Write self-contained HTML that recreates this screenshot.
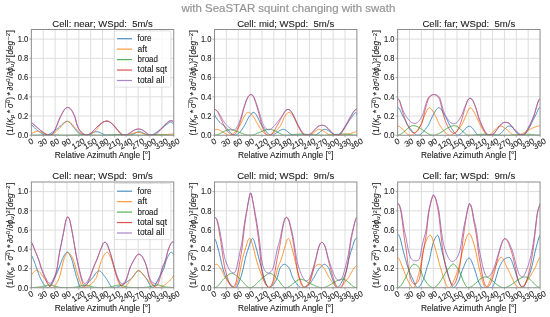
<!DOCTYPE html>
<html><head><meta charset="utf-8"><title>plot</title><style>html,body{margin:0;padding:0;background:#fff;overflow:hidden}svg{display:block;filter:blur(0.4px)}text{font-family:"Liberation Sans",sans-serif;stroke-linejoin:round}</style></head><body>
<svg width="550" height="317" viewBox="0 0 550 317">
<rect width="550" height="317" fill="#fff"/>
<text x="181.50" y="12.00" font-size="11.75" text-anchor="start" fill="#959595" stroke="#959595" stroke-width="0.2" textLength="213.80" lengthAdjust="spacingAndGlyphs">with SeaSTAR squint changing with swath</text>
<path d="M43.22 29.50V135.25M55.08 29.50V135.25M66.95 29.50V135.25M78.82 29.50V135.25M90.68 29.50V135.25M102.55 29.50V135.25M114.42 29.50V135.25M126.28 29.50V135.25M138.15 29.50V135.25M150.02 29.50V135.25M161.88 29.50V135.25M31.35 116.02H173.75M31.35 96.80H173.75M31.35 77.57H173.75M31.35 58.34H173.75M31.35 39.11H173.75" stroke="#dddddd" stroke-width="1.0" fill="none"/>
<clipPath id="c1"><rect x="31.35" y="29.50" width="142.40" height="105.75"/></clipPath>
<g clip-path="url(#c1)" fill="none" stroke-width="0.85" stroke-linejoin="round" stroke-linecap="round" stroke-opacity="1">
<polyline points="31.4,124.5 31.7,124.9 32.1,125.3 32.5,125.7 32.9,126.1 33.3,126.5 33.7,127.0 34.1,127.4 34.5,127.8 34.9,128.2 35.3,128.6 35.7,129.0 36.1,129.3 36.5,129.7 36.9,130.0 37.3,130.3 37.7,130.6 38.1,130.9 38.5,131.2 38.9,131.5 39.3,131.8 39.7,132.1 40.1,132.3 40.4,132.6 40.8,132.8 41.2,133.1 41.6,133.3 42.0,133.5 42.4,133.8 42.8,134.0 43.2,134.3 43.6,134.5 44.0,134.7 44.4,134.9 44.8,135.1 45.2,135.2 45.6,135.2 46.0,135.2 46.4,135.2 46.8,135.1 47.2,135.0 47.6,134.9 48.0,134.8 48.4,134.6 48.8,134.5 49.2,134.3 49.5,134.1 49.9,133.8 50.3,133.6 50.7,133.4 51.1,133.1 51.5,132.8 51.9,132.6 52.3,132.3 52.7,132.0 53.1,131.7 53.5,131.4 53.9,131.1 54.3,130.8 54.7,130.5 55.1,130.2 55.5,129.9 55.9,129.6 56.3,129.4 56.7,129.1 57.1,128.8 57.5,128.5 57.9,128.3 58.2,128.0 58.6,127.7 59.0,127.3 59.4,127.0 59.8,126.6 60.2,126.3 60.6,125.9 61.0,125.5 61.4,125.1 61.8,124.7 62.2,124.4 62.6,124.0 63.0,123.6 63.4,123.3 63.8,123.0 64.2,122.7 64.6,122.4 65.0,122.1 65.4,121.9 65.8,121.7 66.2,121.6 66.6,121.5 67.0,121.4 67.3,121.4 67.7,121.4 68.1,121.5 68.5,121.7 68.9,121.9 69.3,122.2 69.7,122.5 70.1,122.9 70.5,123.3 70.9,123.8 71.3,124.3 71.7,124.8 72.1,125.3 72.5,125.8 72.9,126.3 73.3,126.8 73.7,127.3 74.1,127.8 74.5,128.3 74.9,128.8 75.3,129.2 75.7,129.7 76.0,130.2 76.4,130.7 76.8,131.2 77.2,131.6 77.6,132.1 78.0,132.5 78.4,132.9 78.8,133.1 79.2,133.4 79.6,133.6 80.0,133.8 80.4,134.0 80.8,134.1 81.2,134.3 81.6,134.4 82.0,134.6 82.4,134.7 82.8,134.8 83.2,134.9 83.6,135.0 84.0,135.1 84.4,135.2 84.8,135.2 85.1,135.2 85.5,135.2 85.9,135.2 86.3,135.2 86.7,135.1 87.1,135.0 87.5,134.9 87.9,134.8 88.3,134.7 88.7,134.5 89.1,134.4 89.5,134.2 89.9,134.0 90.3,133.8 90.7,133.7 91.1,133.5 91.5,133.3 91.9,133.1 92.3,132.9 92.7,132.7 93.1,132.6 93.5,132.4 93.8,132.3 94.2,132.1 94.6,132.0 95.0,131.9 95.4,131.8 95.8,131.8 96.2,131.7 96.6,131.7 97.0,131.7 97.4,131.8 97.8,131.8 98.2,131.9 98.6,132.0 99.0,132.2 99.4,132.3 99.8,132.5 100.2,132.6 100.6,132.8 101.0,133.0 101.4,133.2 101.8,133.4 102.2,133.6 102.6,133.8 102.9,134.0 103.3,134.1 103.7,134.3 104.1,134.5 104.5,134.6 104.9,134.8 105.3,134.9 105.7,135.0 106.1,135.1 106.5,135.2 106.9,135.2 107.3,135.2 107.7,135.2 108.1,135.2 108.5,135.2 108.9,135.2 109.3,135.2 109.7,135.2 110.1,135.2 110.5,135.2 110.9,135.2 111.3,135.2 111.6,135.2 112.0,135.2 112.4,135.2 112.8,135.2 113.2,135.2 113.6,135.2 114.0,135.2 114.4,135.2 114.8,135.2 115.2,135.2 115.6,135.2 116.0,135.2 116.4,135.2 116.8,135.2 117.2,135.2 117.6,135.2 118.0,135.2 118.4,135.2 118.8,135.2 119.2,135.2 119.6,135.2 120.0,135.2 120.3,135.2 120.7,135.2 121.1,135.2 121.5,135.2 121.9,135.2 122.3,135.2 122.7,135.2 123.1,135.2 123.5,135.2 123.9,135.2 124.3,135.2 124.7,135.2 125.1,135.2 125.5,135.2 125.9,135.2 126.3,135.2 126.7,135.2 127.1,135.2 127.5,135.2 127.9,135.2 128.3,135.2 128.7,135.2 129.1,135.2 129.4,135.2 129.8,135.2 130.2,135.2 130.6,135.2 131.0,135.1 131.4,135.0 131.8,134.9 132.2,134.8 132.6,134.6 133.0,134.4 133.4,134.2 133.8,133.9 134.2,133.7 134.6,133.5 135.0,133.2 135.4,133.0 135.8,132.8 136.2,132.6 136.6,132.4 137.0,132.2 137.4,132.0 137.8,131.9 138.2,131.8 138.5,131.8 138.9,131.7 139.3,131.7 139.7,131.8 140.1,131.9 140.5,131.9 140.9,132.1 141.3,132.2 141.7,132.3 142.1,132.5 142.5,132.7 142.9,132.9 143.3,133.1 143.7,133.3 144.1,133.5 144.5,133.7 144.9,133.9 145.3,134.1 145.7,134.3 146.1,134.4 146.5,134.6 146.9,134.8 147.2,134.9 147.6,135.0 148.0,135.1 148.4,135.2 148.8,135.2 149.2,135.2 149.6,135.2 150.0,135.2 150.4,135.1 150.8,135.1 151.2,135.0 151.6,134.9 152.0,134.8 152.4,134.6 152.8,134.5 153.2,134.3 153.6,134.1 154.0,133.9 154.4,133.7 154.8,133.5 155.2,133.3 155.6,133.0 156.0,132.8 156.3,132.5 156.7,132.2 157.1,131.9 157.5,131.6 157.9,131.4 158.3,131.1 158.7,130.7 159.1,130.4 159.5,130.1 159.9,129.8 160.3,129.5 160.7,129.2 161.1,128.8 161.5,128.5 161.9,128.2 162.3,127.8 162.7,127.5 163.1,127.2 163.5,126.9 163.9,126.6 164.3,126.3 164.7,125.9 165.0,125.6 165.4,125.3 165.8,125.1 166.2,124.8 166.6,124.5 167.0,124.2 167.4,124.0 167.8,123.7 168.2,123.4 168.6,123.1 169.0,122.8 169.4,122.5 169.8,122.3 170.2,122.1 170.6,122.0 171.0,121.9 171.4,122.1 171.8,122.3 172.2,122.7 172.6,123.1 173.0,123.5 173.4,124.0 173.8,124.5" stroke="#1f77b4"/>
<polyline points="31.4,133.5 31.7,133.4 32.1,133.3 32.5,133.1 32.9,132.9 33.3,132.8 33.7,132.6 34.1,132.4 34.5,132.2 34.9,132.0 35.3,131.9 35.7,131.7 36.1,131.6 36.5,131.5 36.9,131.4 37.3,131.4 37.7,131.3 38.1,131.3 38.5,131.4 38.9,131.4 39.3,131.5 39.7,131.6 40.1,131.7 40.4,131.8 40.8,131.9 41.2,132.1 41.6,132.2 42.0,132.4 42.4,132.5 42.8,132.7 43.2,132.9 43.6,133.0 44.0,133.2 44.4,133.4 44.8,133.6 45.2,133.7 45.6,133.9 46.0,134.1 46.4,134.2 46.8,134.4 47.2,134.5 47.6,134.7 48.0,134.8 48.4,134.9 48.8,135.0 49.2,135.1 49.5,135.1 49.9,135.2 50.3,135.2 50.7,135.2 51.1,135.2 51.5,135.1 51.9,134.9 52.3,134.7 52.7,134.5 53.1,134.2 53.5,133.9 53.9,133.6 54.3,133.2 54.7,132.8 55.1,132.4 55.5,132.0 55.9,131.7 56.3,131.3 56.7,130.9 57.1,130.5 57.5,130.2 57.9,129.8 58.2,129.5 58.6,129.1 59.0,128.7 59.4,128.3 59.8,127.9 60.2,127.4 60.6,127.0 61.0,126.5 61.4,126.1 61.8,125.6 62.2,125.2 62.6,124.7 63.0,124.3 63.4,123.9 63.8,123.5 64.2,123.2 64.6,122.8 65.0,122.5 65.4,122.2 65.8,122.0 66.2,121.8 66.6,121.6 67.0,121.5 67.3,121.4 67.7,121.4 68.1,121.4 68.5,121.5 68.9,121.7 69.3,121.9 69.7,122.2 70.1,122.5 70.5,122.8 70.9,123.2 71.3,123.6 71.7,124.1 72.1,124.5 72.5,125.0 72.9,125.4 73.3,125.9 73.7,126.4 74.1,126.8 74.5,127.2 74.9,127.7 75.3,128.1 75.7,128.5 76.0,128.9 76.4,129.3 76.8,129.7 77.2,130.2 77.6,130.6 78.0,131.0 78.4,131.3 78.8,131.6 79.2,131.9 79.6,132.2 80.0,132.4 80.4,132.7 80.8,132.9 81.2,133.2 81.6,133.4 82.0,133.6 82.4,133.9 82.8,134.1 83.2,134.3 83.6,134.5 84.0,134.6 84.4,134.8 84.8,134.9 85.1,135.0 85.5,135.1 85.9,135.2 86.3,135.2 86.7,135.2 87.1,135.2 87.5,135.2 87.9,135.1 88.3,135.0 88.7,134.9 89.1,134.8 89.5,134.6 89.9,134.5 90.3,134.3 90.7,134.1 91.1,133.9 91.5,133.7 91.9,133.4 92.3,133.2 92.7,132.9 93.1,132.6 93.5,132.4 93.8,132.1 94.2,131.8 94.6,131.5 95.0,131.2 95.4,130.9 95.8,130.5 96.2,130.1 96.6,129.6 97.0,129.1 97.4,128.5 97.8,127.9 98.2,127.3 98.6,126.7 99.0,126.1 99.4,125.5 99.8,125.0 100.2,124.5 100.6,124.1 101.0,123.8 101.4,123.5 101.8,123.2 102.2,122.9 102.6,122.7 102.9,122.5 103.3,122.2 103.7,122.0 104.1,121.8 104.5,121.7 104.9,121.5 105.3,121.4 105.7,121.2 106.1,121.2 106.5,121.1 106.9,121.1 107.3,121.1 107.7,121.1 108.1,121.2 108.5,121.4 108.9,121.6 109.3,121.8 109.7,122.0 110.1,122.3 110.5,122.5 110.9,122.8 111.3,123.1 111.6,123.4 112.0,123.7 112.4,124.1 112.8,124.4 113.2,124.8 113.6,125.2 114.0,125.6 114.4,126.1 114.8,126.5 115.2,127.0 115.6,127.5 116.0,128.0 116.4,128.4 116.8,128.8 117.2,129.3 117.6,129.7 118.0,130.1 118.4,130.5 118.8,130.9 119.2,131.3 119.6,131.8 120.0,132.2 120.3,132.6 120.7,133.0 121.1,133.4 121.5,133.8 121.9,134.1 122.3,134.4 122.7,134.7 123.1,134.9 123.5,135.0 123.9,135.2 124.3,135.2 124.7,135.2 125.1,135.2 125.5,135.2 125.9,135.1 126.3,135.1 126.7,135.0 127.1,134.9 127.5,134.9 127.9,134.8 128.3,134.7 128.7,134.6 129.1,134.5 129.4,134.3 129.8,134.2 130.2,134.1 130.6,134.0 131.0,133.9 131.4,133.7 131.8,133.6 132.2,133.5 132.6,133.4 133.0,133.3 133.4,133.2 133.8,133.0 134.2,132.9 134.6,132.8 135.0,132.8 135.4,132.7 135.8,132.6 136.2,132.5 136.6,132.5 137.0,132.4 137.4,132.4 137.8,132.4 138.2,132.4 138.5,132.4 138.9,132.4 139.3,132.5 139.7,132.5 140.1,132.6 140.5,132.7 140.9,132.8 141.3,132.9 141.7,133.0 142.1,133.1 142.5,133.3 142.9,133.4 143.3,133.5 143.7,133.7 144.1,133.8 144.5,134.0 144.9,134.1 145.3,134.2 145.7,134.4 146.1,134.5 146.5,134.6 146.9,134.7 147.2,134.8 147.6,134.9 148.0,135.0 148.4,135.1 148.8,135.2 149.2,135.2 149.6,135.2 150.0,135.2 150.4,135.2 150.8,135.2 151.2,135.2 151.6,135.2 152.0,135.2 152.4,135.2 152.8,135.2 153.2,135.2 153.6,135.2 154.0,135.2 154.4,135.2 154.8,135.2 155.2,135.2 155.6,135.2 156.0,135.2 156.3,135.1 156.7,135.1 157.1,135.1 157.5,135.1 157.9,135.1 158.3,135.1 158.7,135.0 159.1,135.0 159.5,135.0 159.9,135.0 160.3,135.0 160.7,134.9 161.1,134.9 161.5,134.9 161.9,134.9 162.3,134.9 162.7,134.8 163.1,134.8 163.5,134.8 163.9,134.8 164.3,134.7 164.7,134.7 165.0,134.7 165.4,134.6 165.8,134.6 166.2,134.6 166.6,134.6 167.0,134.5 167.4,134.5 167.8,134.5 168.2,134.4 168.6,134.4 169.0,134.4 169.4,134.3 169.8,134.3 170.2,134.2 170.6,134.2 171.0,134.1 171.4,134.1 171.8,134.0 172.2,133.9 172.6,133.8 173.0,133.7 173.4,133.6 173.8,133.5" stroke="#ff7f0e"/>
<polyline points="31.4,135.2 31.7,135.2 32.1,135.2 32.5,135.2 32.9,135.2 33.3,135.2 33.7,135.2 34.1,135.2 34.5,135.2 34.9,135.2 35.3,135.2 35.7,135.2 36.1,135.2 36.5,135.2 36.9,135.1 37.3,135.1 37.7,135.1 38.1,135.1 38.5,135.1 38.9,135.1 39.3,135.0 39.7,135.0 40.1,135.0 40.4,135.0 40.8,135.0 41.2,135.0 41.6,135.0 42.0,134.9 42.4,134.9 42.8,134.9 43.2,134.9 43.6,134.9 44.0,134.9 44.4,134.9 44.8,134.8 45.2,134.8 45.6,134.8 46.0,134.8 46.4,134.8 46.8,134.8 47.2,134.8 47.6,134.8 48.0,134.8 48.4,134.8 48.8,134.8 49.2,134.8 49.5,134.8 49.9,134.8 50.3,134.8 50.7,134.8 51.1,134.8 51.5,134.8 51.9,134.8 52.3,134.8 52.7,134.8 53.1,134.8 53.5,134.8 53.9,134.9 54.3,134.9 54.7,134.9 55.1,134.9 55.5,134.9 55.9,134.9 56.3,134.9 56.7,135.0 57.1,135.0 57.5,135.0 57.9,135.0 58.2,135.0 58.6,135.0 59.0,135.0 59.4,135.1 59.8,135.1 60.2,135.1 60.6,135.1 61.0,135.1 61.4,135.1 61.8,135.2 62.2,135.2 62.6,135.2 63.0,135.2 63.4,135.2 63.8,135.2 64.2,135.2 64.6,135.2 65.0,135.2 65.4,135.2 65.8,135.2 66.2,135.2 66.6,135.2 67.0,135.2 67.3,135.2 67.7,135.2 68.1,135.2 68.5,135.2 68.9,135.2 69.3,135.2 69.7,135.2 70.1,135.2 70.5,135.2 70.9,135.2 71.3,135.2 71.7,135.2 72.1,135.2 72.5,135.1 72.9,135.1 73.3,135.1 73.7,135.1 74.1,135.1 74.5,135.1 74.9,135.0 75.3,135.0 75.7,135.0 76.0,135.0 76.4,135.0 76.8,135.0 77.2,135.0 77.6,134.9 78.0,134.9 78.4,134.9 78.8,134.9 79.2,134.9 79.6,134.9 80.0,134.9 80.4,134.8 80.8,134.8 81.2,134.8 81.6,134.8 82.0,134.8 82.4,134.8 82.8,134.8 83.2,134.8 83.6,134.8 84.0,134.8 84.4,134.8 84.8,134.8 85.1,134.8 85.5,134.8 85.9,134.8 86.3,134.8 86.7,134.8 87.1,134.8 87.5,134.8 87.9,134.8 88.3,134.8 88.7,134.8 89.1,134.8 89.5,134.9 89.9,134.9 90.3,134.9 90.7,134.9 91.1,134.9 91.5,134.9 91.9,134.9 92.3,135.0 92.7,135.0 93.1,135.0 93.5,135.0 93.8,135.0 94.2,135.0 94.6,135.0 95.0,135.1 95.4,135.1 95.8,135.1 96.2,135.1 96.6,135.1 97.0,135.1 97.4,135.2 97.8,135.2 98.2,135.2 98.6,135.2 99.0,135.2 99.4,135.2 99.8,135.2 100.2,135.2 100.6,135.2 101.0,135.2 101.4,135.2 101.8,135.2 102.2,135.2 102.6,135.2 102.9,135.2 103.3,135.2 103.7,135.2 104.1,135.2 104.5,135.2 104.9,135.2 105.3,135.2 105.7,135.2 106.1,135.2 106.5,135.1 106.9,135.1 107.3,135.1 107.7,135.1 108.1,135.0 108.5,135.0 108.9,135.0 109.3,135.0 109.7,134.9 110.1,134.9 110.5,134.9 110.9,134.9 111.3,134.8 111.6,134.8 112.0,134.8 112.4,134.8 112.8,134.7 113.2,134.7 113.6,134.7 114.0,134.7 114.4,134.6 114.8,134.6 115.2,134.6 115.6,134.6 116.0,134.6 116.4,134.5 116.8,134.5 117.2,134.5 117.6,134.5 118.0,134.5 118.4,134.5 118.8,134.5 119.2,134.5 119.6,134.5 120.0,134.5 120.3,134.5 120.7,134.5 121.1,134.5 121.5,134.5 121.9,134.5 122.3,134.5 122.7,134.6 123.1,134.6 123.5,134.6 123.9,134.6 124.3,134.6 124.7,134.6 125.1,134.7 125.5,134.7 125.9,134.7 126.3,134.7 126.7,134.7 127.1,134.8 127.5,134.8 127.9,134.8 128.3,134.8 128.7,134.9 129.1,134.9 129.4,134.9 129.8,134.9 130.2,135.0 130.6,135.0 131.0,135.0 131.4,135.0 131.8,135.0 132.2,135.1 132.6,135.1 133.0,135.1 133.4,135.1 133.8,135.1 134.2,135.2 134.6,135.2 135.0,135.2 135.4,135.2 135.8,135.2 136.2,135.2 136.6,135.2 137.0,135.2 137.4,135.2 137.8,135.2 138.2,135.2 138.5,135.2 138.9,135.2 139.3,135.2 139.7,135.2 140.1,135.2 140.5,135.2 140.9,135.2 141.3,135.2 141.7,135.2 142.1,135.2 142.5,135.1 142.9,135.1 143.3,135.1 143.7,135.1 144.1,135.1 144.5,135.0 144.9,135.0 145.3,135.0 145.7,135.0 146.1,135.0 146.5,134.9 146.9,134.9 147.2,134.9 147.6,134.9 148.0,134.8 148.4,134.8 148.8,134.8 149.2,134.8 149.6,134.7 150.0,134.7 150.4,134.7 150.8,134.7 151.2,134.7 151.6,134.6 152.0,134.6 152.4,134.6 152.8,134.6 153.2,134.6 153.6,134.6 154.0,134.5 154.4,134.5 154.8,134.5 155.2,134.5 155.6,134.5 156.0,134.5 156.3,134.5 156.7,134.5 157.1,134.5 157.5,134.5 157.9,134.5 158.3,134.5 158.7,134.5 159.1,134.5 159.5,134.5 159.9,134.5 160.3,134.6 160.7,134.6 161.1,134.6 161.5,134.6 161.9,134.6 162.3,134.7 162.7,134.7 163.1,134.7 163.5,134.7 163.9,134.8 164.3,134.8 164.7,134.8 165.0,134.8 165.4,134.9 165.8,134.9 166.2,134.9 166.6,134.9 167.0,135.0 167.4,135.0 167.8,135.0 168.2,135.0 168.6,135.1 169.0,135.1 169.4,135.1 169.8,135.1 170.2,135.2 170.6,135.2 171.0,135.2 171.4,135.2 171.8,135.2 172.2,135.2 172.6,135.2 173.0,135.2 173.4,135.2 173.8,135.2" stroke="#2ca02c"/>
<polyline points="31.4,122.2 31.7,122.6 32.1,123.0 32.5,123.4 32.9,123.8 33.3,124.2 33.7,124.5 34.1,124.9 34.5,125.2 34.9,125.6 35.3,125.9 35.7,126.3 36.1,126.6 36.5,127.0 36.9,127.3 37.3,127.7 37.7,128.0 38.1,128.4 38.5,128.7 38.9,129.1 39.3,129.4 39.7,129.8 40.1,130.1 40.4,130.4 40.8,130.7 41.2,131.0 41.6,131.3 42.0,131.6 42.4,131.9 42.8,132.2 43.2,132.5 43.6,132.8 44.0,133.1 44.4,133.4 44.8,133.7 45.2,134.0 45.6,134.2 46.0,134.4 46.4,134.6 46.8,134.8 47.2,134.9 47.6,135.0 48.0,135.1 48.4,135.2 48.8,135.2 49.2,135.2 49.5,135.2 49.9,135.1 50.3,135.1 50.7,134.9 51.1,134.8 51.5,134.6 51.9,134.4 52.3,134.1 52.7,133.8 53.1,133.4 53.5,132.9 53.9,132.3 54.3,131.5 54.7,130.7 55.1,129.8 55.5,128.8 55.9,127.8 56.3,126.9 56.7,125.9 57.1,125.0 57.5,124.0 57.9,123.1 58.2,122.1 58.6,121.1 59.0,120.1 59.4,119.1 59.8,118.2 60.2,117.3 60.6,116.5 61.0,115.7 61.4,114.9 61.8,114.2 62.2,113.4 62.6,112.6 63.0,111.9 63.4,111.2 63.8,110.5 64.2,109.9 64.6,109.4 65.0,108.9 65.4,108.5 65.8,108.1 66.2,107.9 66.6,107.7 67.0,107.6 67.3,107.5 67.7,107.5 68.1,107.5 68.5,107.6 68.9,107.7 69.3,107.9 69.7,108.2 70.1,108.5 70.5,108.9 70.9,109.3 71.3,109.9 71.7,110.5 72.1,111.1 72.5,111.8 72.9,112.6 73.3,113.4 73.7,114.2 74.1,115.1 74.5,116.1 74.9,117.2 75.3,118.4 75.7,119.8 76.0,121.3 76.4,122.8 76.8,124.2 77.2,125.4 77.6,126.5 78.0,127.5 78.4,128.3 78.8,129.0 79.2,129.7 79.6,130.2 80.0,130.8 80.4,131.3 80.8,131.7 81.2,132.2 81.6,132.6 82.0,133.0 82.4,133.4 82.8,133.7 83.2,134.0 83.6,134.3 84.0,134.5 84.4,134.7 84.8,134.9 85.1,135.0 85.5,135.1 85.9,135.1 86.3,135.2 86.7,135.2 87.1,135.2 87.5,135.1 87.9,135.1 88.3,134.9 88.7,134.8 89.1,134.6 89.5,134.4 89.9,134.2 90.3,133.9 90.7,133.6 91.1,133.2 91.5,132.8 91.9,132.4 92.3,132.0 92.7,131.6 93.1,131.2 93.5,130.7 93.8,130.3 94.2,129.9 94.6,129.5 95.0,129.1 95.4,128.7 95.8,128.3 96.2,127.9 96.6,127.5 97.0,127.1 97.4,126.7 97.8,126.3 98.2,125.9 98.6,125.6 99.0,125.2 99.4,124.8 99.8,124.5 100.2,124.1 100.6,123.8 101.0,123.5 101.4,123.3 101.8,123.0 102.2,122.8 102.6,122.5 102.9,122.3 103.3,122.0 103.7,121.8 104.1,121.7 104.5,121.5 104.9,121.4 105.3,121.3 105.7,121.3 106.1,121.2 106.5,121.2 106.9,121.2 107.3,121.2 107.7,121.3 108.1,121.4 108.5,121.5 108.9,121.6 109.3,121.8 109.7,122.0 110.1,122.3 110.5,122.6 110.9,122.9 111.3,123.3 111.6,123.6 112.0,124.0 112.4,124.4 112.8,124.8 113.2,125.2 113.6,125.6 114.0,126.1 114.4,126.6 114.8,127.1 115.2,127.6 115.6,128.0 116.0,128.5 116.4,129.0 116.8,129.5 117.2,130.0 117.6,130.4 118.0,130.9 118.4,131.4 118.8,131.9 119.2,132.4 119.6,132.9 120.0,133.3 120.3,133.8 120.7,134.2 121.1,134.6 121.5,134.9 121.9,135.1 122.3,135.2 122.7,135.2 123.1,135.2 123.5,135.2 123.9,135.2 124.3,135.2 124.7,135.2 125.1,135.2 125.5,135.2 125.9,135.2 126.3,135.2 126.7,135.1 127.1,135.0 127.5,134.8 127.9,134.6 128.3,134.4 128.7,134.1 129.1,133.9 129.4,133.6 129.8,133.3 130.2,133.0 130.6,132.7 131.0,132.4 131.4,132.1 131.8,131.8 132.2,131.5 132.6,131.2 133.0,130.9 133.4,130.7 133.8,130.4 134.2,130.2 134.6,130.0 135.0,129.8 135.4,129.6 135.8,129.5 136.2,129.3 136.6,129.3 137.0,129.2 137.4,129.2 137.8,129.1 138.2,129.1 138.5,129.1 138.9,129.1 139.3,129.1 139.7,129.2 140.1,129.2 140.5,129.3 140.9,129.4 141.3,129.5 141.7,129.7 142.1,129.9 142.5,130.1 142.9,130.3 143.3,130.6 143.7,130.9 144.1,131.2 144.5,131.5 144.9,131.8 145.3,132.1 145.7,132.4 146.1,132.8 146.5,133.1 146.9,133.4 147.2,133.7 147.6,134.0 148.0,134.2 148.4,134.5 148.8,134.7 149.2,134.9 149.6,135.1 150.0,135.2 150.4,135.2 150.8,135.2 151.2,135.2 151.6,135.2 152.0,135.2 152.4,135.2 152.8,135.2 153.2,135.2 153.6,135.2 154.0,135.2 154.4,135.2 154.8,135.1 155.2,134.9 155.6,134.7 156.0,134.4 156.3,134.1 156.7,133.8 157.1,133.4 157.5,133.0 157.9,132.6 158.3,132.2 158.7,131.8 159.1,131.4 159.5,131.0 159.9,130.6 160.3,130.2 160.7,129.8 161.1,129.3 161.5,128.9 161.9,128.4 162.3,128.0 162.7,127.5 163.1,127.1 163.5,126.6 163.9,126.2 164.3,125.8 164.7,125.4 165.0,124.9 165.4,124.5 165.8,124.1 166.2,123.8 166.6,123.4 167.0,123.0 167.4,122.7 167.8,122.3 168.2,122.0 168.6,121.7 169.0,121.4 169.4,121.2 169.8,121.0 170.2,120.8 170.6,120.7 171.0,120.7 171.4,120.7 171.8,120.8 172.2,120.9 172.6,121.2 173.0,121.5 173.4,121.8 173.8,122.2" stroke="#d62728" stroke-width="0.68"/>
<polyline points="31.4,122.2 31.7,122.6 32.1,123.0 32.5,123.4 32.9,123.8 33.3,124.1 33.7,124.5 34.1,124.8 34.5,125.2 34.9,125.5 35.3,125.9 35.7,126.2 36.1,126.5 36.5,126.9 36.9,127.2 37.3,127.6 37.7,127.9 38.1,128.2 38.5,128.6 38.9,128.9 39.3,129.2 39.7,129.5 40.1,129.9 40.4,130.2 40.8,130.5 41.2,130.8 41.6,131.1 42.0,131.3 42.4,131.6 42.8,131.9 43.2,132.2 43.6,132.5 44.0,132.8 44.4,133.0 44.8,133.3 45.2,133.6 45.6,133.8 46.0,134.0 46.4,134.2 46.8,134.3 47.2,134.5 47.6,134.6 48.0,134.6 48.4,134.7 48.8,134.7 49.2,134.7 49.5,134.7 49.9,134.7 50.3,134.6 50.7,134.5 51.1,134.3 51.5,134.2 51.9,133.9 52.3,133.7 52.7,133.4 53.1,133.0 53.5,132.5 53.9,131.9 54.3,131.1 54.7,130.3 55.1,129.4 55.5,128.5 55.9,127.5 56.3,126.6 56.7,125.6 57.1,124.7 57.5,123.8 57.9,122.8 58.2,121.8 58.6,120.9 59.0,119.9 59.4,119.0 59.8,118.1 60.2,117.2 60.6,116.4 61.0,115.6 61.4,114.8 61.8,114.1 62.2,113.3 62.6,112.6 63.0,111.8 63.4,111.1 63.8,110.5 64.2,109.9 64.6,109.3 65.0,108.9 65.4,108.5 65.8,108.1 66.2,107.9 66.6,107.7 67.0,107.6 67.3,107.5 67.7,107.4 68.1,107.5 68.5,107.6 68.9,107.7 69.3,107.9 69.7,108.1 70.1,108.4 70.5,108.8 70.9,109.3 71.3,109.8 71.7,110.4 72.1,111.0 72.5,111.7 72.9,112.5 73.3,113.3 73.7,114.1 74.1,114.9 74.5,115.9 74.9,117.0 75.3,118.2 75.7,119.6 76.0,121.0 76.4,122.5 76.8,123.9 77.2,125.1 77.6,126.2 78.0,127.1 78.4,128.0 78.8,128.7 79.2,129.3 79.6,129.9 80.0,130.4 80.4,130.9 80.8,131.3 81.2,131.8 81.6,132.2 82.0,132.6 82.4,132.9 82.8,133.3 83.2,133.6 83.6,133.8 84.0,134.0 84.4,134.2 84.8,134.4 85.1,134.5 85.5,134.6 85.9,134.7 86.3,134.7 86.7,134.7 87.1,134.7 87.5,134.7 87.9,134.6 88.3,134.5 88.7,134.4 89.1,134.2 89.5,134.0 89.9,133.8 90.3,133.5 90.7,133.2 91.1,132.9 91.5,132.5 91.9,132.1 92.3,131.7 92.7,131.3 93.1,130.9 93.5,130.5 93.8,130.1 94.2,129.7 94.6,129.3 95.0,128.9 95.4,128.5 95.8,128.2 96.2,127.8 96.6,127.4 97.0,127.0 97.4,126.6 97.8,126.3 98.2,125.9 98.6,125.5 99.0,125.1 99.4,124.8 99.8,124.4 100.2,124.1 100.6,123.8 101.0,123.5 101.4,123.3 101.8,123.0 102.2,122.8 102.6,122.5 102.9,122.3 103.3,122.0 103.7,121.8 104.1,121.6 104.5,121.5 104.9,121.4 105.3,121.3 105.7,121.2 106.1,121.1 106.5,121.1 106.9,121.1 107.3,121.1 107.7,121.1 108.1,121.2 108.5,121.3 108.9,121.4 109.3,121.5 109.7,121.7 110.1,122.0 110.5,122.3 110.9,122.6 111.3,122.9 111.6,123.2 112.0,123.5 112.4,123.9 112.8,124.3 113.2,124.7 113.6,125.1 114.0,125.5 114.4,126.0 114.8,126.4 115.2,126.9 115.6,127.4 116.0,127.8 116.4,128.3 116.8,128.8 117.2,129.2 117.6,129.7 118.0,130.1 118.4,130.6 118.8,131.1 119.2,131.6 119.6,132.1 120.0,132.6 120.3,133.0 120.7,133.4 121.1,133.8 121.5,134.1 121.9,134.4 122.3,134.6 122.7,134.7 123.1,134.8 123.5,134.9 123.9,134.9 124.3,134.9 124.7,134.9 125.1,134.9 125.5,134.9 125.9,134.8 126.3,134.7 126.7,134.6 127.1,134.5 127.5,134.3 127.9,134.2 128.3,134.0 128.7,133.7 129.1,133.5 129.4,133.3 129.8,133.0 130.2,132.7 130.6,132.4 131.0,132.2 131.4,131.9 131.8,131.6 132.2,131.3 132.6,131.1 133.0,130.8 133.4,130.6 133.8,130.3 134.2,130.1 134.6,129.9 135.0,129.7 135.4,129.6 135.8,129.4 136.2,129.3 136.6,129.2 137.0,129.2 137.4,129.2 137.8,129.1 138.2,129.1 138.5,129.1 138.9,129.1 139.3,129.1 139.7,129.2 140.1,129.2 140.5,129.3 140.9,129.3 141.3,129.5 141.7,129.6 142.1,129.8 142.5,130.0 142.9,130.2 143.3,130.5 143.7,130.7 144.1,131.0 144.5,131.3 144.9,131.6 145.3,131.9 145.7,132.2 146.1,132.5 146.5,132.8 146.9,133.1 147.2,133.3 147.6,133.6 148.0,133.8 148.4,134.1 148.8,134.3 149.2,134.4 149.6,134.6 150.0,134.7 150.4,134.8 150.8,134.9 151.2,134.9 151.6,134.9 152.0,134.9 152.4,134.9 152.8,134.9 153.2,134.9 153.6,134.8 154.0,134.7 154.4,134.6 154.8,134.4 155.2,134.2 155.6,134.0 156.0,133.7 156.3,133.4 156.7,133.0 157.1,132.6 157.5,132.3 157.9,131.9 158.3,131.5 158.7,131.1 159.1,130.7 159.5,130.3 159.9,129.9 160.3,129.5 160.7,129.1 161.1,128.7 161.5,128.3 161.9,127.8 162.3,127.4 162.7,127.0 163.1,126.5 163.5,126.1 163.9,125.7 164.3,125.3 164.7,124.9 165.0,124.5 165.4,124.2 165.8,123.8 166.2,123.4 166.6,123.1 167.0,122.7 167.4,122.4 167.8,122.1 168.2,121.8 168.6,121.5 169.0,121.2 169.4,121.0 169.8,120.9 170.2,120.7 170.6,120.6 171.0,120.6 171.4,120.7 171.8,120.8 172.2,120.9 172.6,121.2 173.0,121.5 173.4,121.8 173.8,122.2" stroke="#9467bd"/>
</g>
<rect x="31.35" y="29.50" width="142.40" height="105.75" fill="none" stroke="#8c8c8c" stroke-width="1.0"/>
<path d="M31.35 135.25v2M43.22 135.25v2M55.08 135.25v2M66.95 135.25v2M78.82 135.25v2M90.68 135.25v2M102.55 135.25v2M114.42 135.25v2M126.28 135.25v2M138.15 135.25v2M150.02 135.25v2M161.88 135.25v2M173.75 135.25v2M31.35 135.25h-2M31.35 116.02h-2M31.35 96.80h-2M31.35 77.57h-2M31.35 58.34h-2M31.35 39.11h-2" stroke="#777" stroke-width="0.6" fill="none"/>
<text x="28.25" y="138.10" font-size="8.16" text-anchor="end" fill="#222222" stroke="#222222" stroke-width="0.1" textLength="10.49" lengthAdjust="spacingAndGlyphs">0.0</text>
<text x="28.25" y="118.87" font-size="8.16" text-anchor="end" fill="#222222" stroke="#222222" stroke-width="0.1" textLength="10.49" lengthAdjust="spacingAndGlyphs">0.2</text>
<text x="28.25" y="99.65" font-size="8.16" text-anchor="end" fill="#222222" stroke="#222222" stroke-width="0.1" textLength="10.49" lengthAdjust="spacingAndGlyphs">0.4</text>
<text x="28.25" y="80.42" font-size="8.16" text-anchor="end" fill="#222222" stroke="#222222" stroke-width="0.1" textLength="10.49" lengthAdjust="spacingAndGlyphs">0.6</text>
<text x="28.25" y="61.19" font-size="8.16" text-anchor="end" fill="#222222" stroke="#222222" stroke-width="0.1" textLength="10.49" lengthAdjust="spacingAndGlyphs">0.8</text>
<text x="28.25" y="41.96" font-size="8.16" text-anchor="end" fill="#222222" stroke="#222222" stroke-width="0.1" textLength="10.49" lengthAdjust="spacingAndGlyphs">1.0</text>
<g transform="translate(30.85,141.74) rotate(-30)"><text x="0.00" y="2.59" font-size="8.16" text-anchor="middle" fill="#222222" stroke="#222222" stroke-width="0.1" textLength="4.52" lengthAdjust="spacingAndGlyphs">0</text></g>
<g transform="translate(42.72,142.87) rotate(-30)"><text x="0.00" y="2.59" font-size="8.16" text-anchor="middle" fill="#222222" stroke="#222222" stroke-width="0.1" textLength="9.03" lengthAdjust="spacingAndGlyphs">30</text></g>
<g transform="translate(54.58,142.87) rotate(-30)"><text x="0.00" y="2.59" font-size="8.16" text-anchor="middle" fill="#222222" stroke="#222222" stroke-width="0.1" textLength="9.03" lengthAdjust="spacingAndGlyphs">60</text></g>
<g transform="translate(66.45,142.87) rotate(-30)"><text x="0.00" y="2.59" font-size="8.16" text-anchor="middle" fill="#222222" stroke="#222222" stroke-width="0.1" textLength="9.03" lengthAdjust="spacingAndGlyphs">90</text></g>
<g transform="translate(78.32,144.00) rotate(-30)"><text x="0.00" y="2.59" font-size="8.16" text-anchor="middle" fill="#222222" stroke="#222222" stroke-width="0.1" textLength="13.55" lengthAdjust="spacingAndGlyphs">120</text></g>
<g transform="translate(90.18,144.00) rotate(-30)"><text x="0.00" y="2.59" font-size="8.16" text-anchor="middle" fill="#222222" stroke="#222222" stroke-width="0.1" textLength="13.55" lengthAdjust="spacingAndGlyphs">150</text></g>
<g transform="translate(102.05,144.00) rotate(-30)"><text x="0.00" y="2.59" font-size="8.16" text-anchor="middle" fill="#222222" stroke="#222222" stroke-width="0.1" textLength="13.55" lengthAdjust="spacingAndGlyphs">180</text></g>
<g transform="translate(113.92,144.00) rotate(-30)"><text x="0.00" y="2.59" font-size="8.16" text-anchor="middle" fill="#222222" stroke="#222222" stroke-width="0.1" textLength="13.55" lengthAdjust="spacingAndGlyphs">210</text></g>
<g transform="translate(125.78,144.00) rotate(-30)"><text x="0.00" y="2.59" font-size="8.16" text-anchor="middle" fill="#222222" stroke="#222222" stroke-width="0.1" textLength="13.55" lengthAdjust="spacingAndGlyphs">240</text></g>
<g transform="translate(137.65,144.00) rotate(-30)"><text x="0.00" y="2.59" font-size="8.16" text-anchor="middle" fill="#222222" stroke="#222222" stroke-width="0.1" textLength="13.55" lengthAdjust="spacingAndGlyphs">270</text></g>
<g transform="translate(149.52,144.00) rotate(-30)"><text x="0.00" y="2.59" font-size="8.16" text-anchor="middle" fill="#222222" stroke="#222222" stroke-width="0.1" textLength="13.55" lengthAdjust="spacingAndGlyphs">300</text></g>
<g transform="translate(161.38,144.00) rotate(-30)"><text x="0.00" y="2.59" font-size="8.16" text-anchor="middle" fill="#222222" stroke="#222222" stroke-width="0.1" textLength="13.55" lengthAdjust="spacingAndGlyphs">330</text></g>
<g transform="translate(173.25,144.00) rotate(-30)"><text x="0.00" y="2.59" font-size="8.16" text-anchor="middle" fill="#222222" stroke="#222222" stroke-width="0.1" textLength="13.55" lengthAdjust="spacingAndGlyphs">360</text></g>
<text x="102.55" y="158.10" font-size="8.16" text-anchor="middle" fill="#222222" stroke="#222222" stroke-width="0.1" textLength="95.60" lengthAdjust="spacingAndGlyphs">Relative Azimuth Angle [°]</text>
<g transform="translate(12.95,135.53) rotate(-90)"><text x="0.00" y="-0.00" font-size="8.33" fill="#222222" stroke="#222222" stroke-width="0.10" textLength="2.83" lengthAdjust="spacingAndGlyphs">(</text><text x="2.84" y="-0.00" font-size="8.33" fill="#222222" stroke="#222222" stroke-width="0.10" textLength="4.62" lengthAdjust="spacingAndGlyphs">1</text><text x="7.47" y="-0.00" font-size="8.33" fill="#222222" stroke="#222222" stroke-width="0.10" textLength="2.45" lengthAdjust="spacingAndGlyphs">/</text><text x="9.93" y="-0.00" font-size="8.33" fill="#222222" stroke="#222222" stroke-width="0.10" textLength="2.83" lengthAdjust="spacingAndGlyphs">(</text><text x="12.77" y="-0.00" font-size="8.33" font-style="italic" fill="#222222" stroke="#222222" stroke-width="0.10" textLength="4.76" lengthAdjust="spacingAndGlyphs">K</text><text x="17.55" y="1.15" font-size="5.83" font-style="italic" fill="#222222" stroke="#222222" stroke-width="0.07" textLength="3.22" lengthAdjust="spacingAndGlyphs">p</text><text x="22.40" y="-0.00" font-size="8.33" fill="#222222" stroke="#222222" stroke-width="0.10" textLength="3.63" lengthAdjust="spacingAndGlyphs">*</text><text x="27.46" y="-0.31" font-size="8.33" font-style="italic" fill="#222222" stroke="#222222" stroke-width="0.10" textLength="4.60" lengthAdjust="spacingAndGlyphs">σ</text><text x="32.39" y="-2.99" font-size="5.83" fill="#222222" stroke="#222222" stroke-width="0.07" textLength="3.23" lengthAdjust="spacingAndGlyphs">0</text><text x="35.83" y="-0.00" font-size="8.33" fill="#222222" stroke="#222222" stroke-width="0.10" textLength="2.83" lengthAdjust="spacingAndGlyphs">)</text><text x="40.09" y="-0.00" font-size="8.33" fill="#222222" stroke="#222222" stroke-width="0.10" textLength="3.63" lengthAdjust="spacingAndGlyphs">*</text><text x="45.15" y="-0.00" font-size="8.33" fill="#222222" stroke="#222222" stroke-width="0.10" textLength="3.75" lengthAdjust="spacingAndGlyphs">∂</text><text x="48.92" y="-0.00" font-size="8.33" font-style="italic" fill="#222222" stroke="#222222" stroke-width="0.10" textLength="4.60" lengthAdjust="spacingAndGlyphs">σ</text><text x="53.85" y="-2.68" font-size="5.83" fill="#222222" stroke="#222222" stroke-width="0.07" textLength="3.23" lengthAdjust="spacingAndGlyphs">0</text><text x="57.29" y="-0.00" font-size="8.33" fill="#222222" stroke="#222222" stroke-width="0.10" textLength="2.45" lengthAdjust="spacingAndGlyphs">/</text><text x="59.74" y="-0.00" font-size="8.33" fill="#222222" stroke="#222222" stroke-width="0.10" textLength="3.75" lengthAdjust="spacingAndGlyphs">∂</text><text x="63.51" y="-0.00" font-size="8.33" font-style="italic" fill="#222222" stroke="#222222" stroke-width="0.10" textLength="4.79" lengthAdjust="spacingAndGlyphs">ϕ</text><text x="68.31" y="1.15" font-size="5.83" font-style="italic" fill="#222222" stroke="#222222" stroke-width="0.07" textLength="3.22" lengthAdjust="spacingAndGlyphs">u</text><text x="71.74" y="-0.00" font-size="8.33" fill="#222222" stroke="#222222" stroke-width="0.10" textLength="2.83" lengthAdjust="spacingAndGlyphs">)</text><text x="74.65" y="-2.68" font-size="5.83" fill="#222222" stroke="#222222" stroke-width="0.07" textLength="3.23" lengthAdjust="spacingAndGlyphs">2</text><text x="78.09" y="-0.00" font-size="8.33" fill="#222222" stroke="#222222" stroke-width="0.10" textLength="2.83" lengthAdjust="spacingAndGlyphs">[</text><text x="80.93" y="-0.00" font-size="8.33" font-style="italic" fill="#222222" stroke="#222222" stroke-width="0.10" textLength="4.61" lengthAdjust="spacingAndGlyphs">d</text><text x="85.55" y="-0.00" font-size="8.33" font-style="italic" fill="#222222" stroke="#222222" stroke-width="0.10" textLength="4.46" lengthAdjust="spacingAndGlyphs">e</text><text x="90.03" y="-0.00" font-size="8.33" font-style="italic" fill="#222222" stroke="#222222" stroke-width="0.10" textLength="4.61" lengthAdjust="spacingAndGlyphs">g</text><text x="94.99" y="-2.68" font-size="5.83" fill="#222222" stroke="#222222" stroke-width="0.07" textLength="4.26" lengthAdjust="spacingAndGlyphs">−</text><text x="99.26" y="-2.68" font-size="5.83" fill="#222222" stroke="#222222" stroke-width="0.07" textLength="3.23" lengthAdjust="spacingAndGlyphs">2</text><text x="102.70" y="-0.00" font-size="8.33" fill="#222222" stroke="#222222" stroke-width="0.10" textLength="2.83" lengthAdjust="spacingAndGlyphs">]</text><rect x="27.46" y="-7.64" width="8.37" height="0.50" fill="#222222"/></g>
<text x="102.55" y="26.70" font-size="9.80" text-anchor="middle" fill="#222222" stroke="#222222" stroke-width="0.1" textLength="100.41" lengthAdjust="spacingAndGlyphs">Cell: near; WSpd:&#160; 5m/s</text>
<rect x="114.35" y="30.90" width="56.6" height="56.2" rx="1.4" fill="#fff" fill-opacity="0.8" stroke="#cccccc" stroke-width="0.6"/>
<path d="M116.95 38.70H132.05" stroke="#1f77b4" stroke-width="1.2" stroke-opacity="0.8"/>
<text x="137.55" y="41.10" font-size="8.16" text-anchor="start" fill="#222222" stroke="#222222" stroke-width="0.1" textLength="13.97" lengthAdjust="spacingAndGlyphs">fore</text>
<path d="M116.95 49.15H132.05" stroke="#ff7f0e" stroke-width="1.2" stroke-opacity="0.8"/>
<text x="137.55" y="51.55" font-size="8.16" text-anchor="start" fill="#222222" stroke="#222222" stroke-width="0.1" textLength="9.51" lengthAdjust="spacingAndGlyphs">aft</text>
<path d="M116.95 59.60H132.05" stroke="#2ca02c" stroke-width="1.2" stroke-opacity="0.8"/>
<text x="137.55" y="62.00" font-size="8.16" text-anchor="start" fill="#222222" stroke="#222222" stroke-width="0.1" textLength="20.47" lengthAdjust="spacingAndGlyphs">broad</text>
<path d="M116.95 70.05H132.05" stroke="#d62728" stroke-width="1.2" stroke-opacity="0.8"/>
<text x="137.55" y="72.45" font-size="8.16" text-anchor="start" fill="#222222" stroke="#222222" stroke-width="0.1" textLength="29.48" lengthAdjust="spacingAndGlyphs">total sqt</text>
<path d="M116.95 80.50H132.05" stroke="#9467bd" stroke-width="1.2" stroke-opacity="0.8"/>
<text x="137.55" y="82.90" font-size="8.16" text-anchor="start" fill="#222222" stroke="#222222" stroke-width="0.1" textLength="26.79" lengthAdjust="spacingAndGlyphs">total all</text>
<path d="M226.37 29.50V135.25M238.23 29.50V135.25M250.10 29.50V135.25M261.97 29.50V135.25M273.83 29.50V135.25M285.70 29.50V135.25M297.57 29.50V135.25M309.43 29.50V135.25M321.30 29.50V135.25M333.17 29.50V135.25M345.03 29.50V135.25M214.50 116.02H356.90M214.50 96.80H356.90M214.50 77.57H356.90M214.50 58.34H356.90M214.50 39.11H356.90" stroke="#dddddd" stroke-width="1.0" fill="none"/>
<clipPath id="c2"><rect x="214.50" y="29.50" width="142.40" height="105.75"/></clipPath>
<g clip-path="url(#c2)" fill="none" stroke-width="0.85" stroke-linejoin="round" stroke-linecap="round" stroke-opacity="1">
<polyline points="214.5,114.3 214.9,115.2 215.3,116.1 215.7,116.8 216.1,117.5 216.5,118.2 216.9,118.8 217.3,119.4 217.7,119.9 218.1,120.4 218.5,120.9 218.9,121.3 219.2,121.8 219.6,122.2 220.0,122.5 220.4,122.9 220.8,123.3 221.2,123.6 221.6,123.9 222.0,124.2 222.4,124.6 222.8,124.9 223.2,125.2 223.6,125.5 224.0,125.8 224.4,126.1 224.8,126.4 225.2,126.8 225.6,127.1 226.0,127.5 226.4,127.9 226.8,128.3 227.2,128.7 227.6,129.1 227.9,129.6 228.3,130.0 228.7,130.5 229.1,131.0 229.5,131.4 229.9,131.9 230.3,132.3 230.7,132.8 231.1,133.2 231.5,133.5 231.9,133.9 232.3,134.2 232.7,134.5 233.1,134.7 233.5,134.9 233.9,135.1 234.3,135.2 234.7,135.2 235.1,135.2 235.5,135.1 235.9,135.0 236.3,134.8 236.7,134.7 237.0,134.5 237.4,134.3 237.8,134.0 238.2,133.8 238.6,133.5 239.0,133.2 239.4,132.8 239.8,132.4 240.2,131.9 240.6,131.4 241.0,130.9 241.4,130.3 241.8,129.7 242.2,129.1 242.6,128.5 243.0,127.9 243.4,127.3 243.8,126.6 244.2,126.0 244.6,125.3 245.0,124.7 245.4,123.9 245.7,123.2 246.1,122.4 246.5,121.6 246.9,120.7 247.3,119.9 247.7,119.1 248.1,118.4 248.5,117.7 248.9,117.0 249.3,116.4 249.7,115.9 250.1,115.4 250.5,114.9 250.9,114.4 251.3,114.0 251.7,113.5 252.1,113.2 252.5,112.8 252.9,112.6 253.3,112.5 253.7,112.4 254.1,112.5 254.5,112.6 254.8,112.9 255.2,113.3 255.6,113.8 256.0,114.3 256.4,115.0 256.8,115.7 257.2,116.4 257.6,117.2 258.0,118.0 258.4,118.9 258.8,119.7 259.2,120.6 259.6,121.4 260.0,122.2 260.4,123.0 260.8,123.7 261.2,124.4 261.6,125.0 262.0,125.6 262.4,126.2 262.8,126.7 263.2,127.2 263.5,127.8 263.9,128.4 264.3,128.9 264.7,129.5 265.1,130.0 265.5,130.6 265.9,131.1 266.3,131.6 266.7,132.1 267.1,132.6 267.5,133.0 267.9,133.5 268.3,133.8 268.7,134.2 269.1,134.5 269.5,134.7 269.9,134.9 270.3,135.1 270.7,135.2 271.1,135.2 271.5,135.2 271.9,135.1 272.3,135.1 272.6,135.0 273.0,134.8 273.4,134.7 273.8,134.5 274.2,134.3 274.6,134.0 275.0,133.8 275.4,133.6 275.8,133.3 276.2,133.0 276.6,132.7 277.0,132.5 277.4,132.2 277.8,131.9 278.2,131.6 278.6,131.4 279.0,131.1 279.4,130.8 279.8,130.6 280.2,130.4 280.6,130.1 281.0,130.0 281.3,129.8 281.7,129.6 282.1,129.5 282.5,129.4 282.9,129.4 283.3,129.3 283.7,129.4 284.1,129.4 284.5,129.5 284.9,129.7 285.3,129.9 285.7,130.1 286.1,130.4 286.5,130.7 286.9,131.0 287.3,131.3 287.7,131.7 288.1,132.0 288.5,132.4 288.9,132.7 289.3,133.1 289.7,133.4 290.1,133.7 290.4,134.0 290.8,134.3 291.2,134.6 291.6,134.8 292.0,135.0 292.4,135.1 292.8,135.2 293.2,135.2 293.6,135.2 294.0,135.2 294.4,135.2 294.8,135.2 295.2,135.2 295.6,135.2 296.0,135.2 296.4,135.2 296.8,135.2 297.2,135.2 297.6,135.2 298.0,135.2 298.4,135.2 298.8,135.2 299.1,135.2 299.5,135.2 299.9,135.2 300.3,135.2 300.7,135.2 301.1,135.2 301.5,135.2 301.9,135.2 302.3,135.2 302.7,135.2 303.1,135.2 303.5,135.2 303.9,135.2 304.3,135.2 304.7,135.2 305.1,135.2 305.5,135.2 305.9,135.2 306.3,135.2 306.7,135.2 307.1,135.2 307.5,135.2 307.9,135.2 308.2,135.2 308.6,135.2 309.0,135.2 309.4,135.2 309.8,135.2 310.2,135.2 310.6,135.2 311.0,135.2 311.4,135.2 311.8,135.2 312.2,135.2 312.6,135.2 313.0,135.2 313.4,135.2 313.8,135.2 314.2,135.2 314.6,135.2 315.0,135.2 315.4,135.1 315.8,135.0 316.2,134.8 316.6,134.6 316.9,134.4 317.3,134.1 317.7,133.9 318.1,133.6 318.5,133.2 318.9,132.9 319.3,132.6 319.7,132.2 320.1,131.9 320.5,131.6 320.9,131.2 321.3,130.9 321.7,130.6 322.1,130.3 322.5,130.1 322.9,129.9 323.3,129.7 323.7,129.5 324.1,129.4 324.5,129.4 324.9,129.3 325.3,129.4 325.7,129.4 326.0,129.5 326.4,129.6 326.8,129.8 327.2,130.0 327.6,130.2 328.0,130.4 328.4,130.6 328.8,130.9 329.2,131.2 329.6,131.4 330.0,131.7 330.4,132.0 330.8,132.3 331.2,132.6 331.6,132.9 332.0,133.2 332.4,133.4 332.8,133.7 333.2,134.0 333.6,134.2 334.0,134.4 334.4,134.6 334.7,134.8 335.1,134.9 335.5,135.0 335.9,135.1 336.3,135.2 336.7,135.2 337.1,135.2 337.5,135.1 337.9,135.0 338.3,134.8 338.7,134.6 339.1,134.3 339.5,134.0 339.9,133.7 340.3,133.3 340.7,132.9 341.1,132.5 341.5,132.0 341.9,131.5 342.3,131.0 342.7,130.4 343.1,129.9 343.5,129.3 343.8,128.7 344.2,128.1 344.6,127.5 345.0,126.9 345.4,126.3 345.8,125.6 346.2,125.0 346.6,124.4 347.0,123.8 347.4,123.1 347.8,122.5 348.2,121.9 348.6,121.4 349.0,120.8 349.4,120.2 349.8,119.7 350.2,119.2 350.6,118.7 351.0,118.2 351.4,117.7 351.8,117.2 352.2,116.6 352.5,116.0 352.9,115.5 353.3,114.9 353.7,114.4 354.1,113.9 354.5,113.4 354.9,113.1 355.3,112.8 355.7,112.7 356.1,112.9 356.5,113.4 356.9,114.3" stroke="#1f77b4"/>
<polyline points="214.5,130.5 214.9,130.0 215.3,129.7 215.7,129.5 216.1,129.4 216.5,129.4 216.9,129.3 217.3,129.3 217.7,129.4 218.1,129.5 218.5,129.6 218.9,129.7 219.2,129.8 219.6,130.0 220.0,130.2 220.4,130.4 220.8,130.7 221.2,130.9 221.6,131.2 222.0,131.4 222.4,131.7 222.8,132.0 223.2,132.2 223.6,132.5 224.0,132.8 224.4,133.1 224.8,133.3 225.2,133.6 225.6,133.8 226.0,134.1 226.4,134.3 226.8,134.5 227.2,134.7 227.6,134.8 227.9,135.0 228.3,135.1 228.7,135.1 229.1,135.2 229.5,135.2 229.9,135.2 230.3,135.1 230.7,135.0 231.1,134.9 231.5,134.7 231.9,134.5 232.3,134.3 232.7,134.0 233.1,133.7 233.5,133.4 233.9,133.0 234.3,132.6 234.7,132.2 235.1,131.8 235.5,131.4 235.9,130.9 236.3,130.4 236.7,129.9 237.0,129.4 237.4,128.9 237.8,128.4 238.2,127.9 238.6,127.4 239.0,126.8 239.4,126.3 239.8,125.7 240.2,125.0 240.6,124.3 241.0,123.5 241.4,122.6 241.8,121.7 242.2,120.7 242.6,119.8 243.0,118.8 243.4,118.0 243.8,117.2 244.2,116.5 244.6,115.8 245.0,115.3 245.4,114.7 245.7,114.2 246.1,113.7 246.5,113.3 246.9,112.9 247.3,112.6 247.7,112.5 248.1,112.4 248.5,112.4 248.9,112.5 249.3,112.7 249.7,112.9 250.1,113.2 250.5,113.6 250.9,113.9 251.3,114.3 251.7,114.7 252.1,115.2 252.5,115.6 252.9,116.1 253.3,116.5 253.7,117.1 254.1,117.7 254.5,118.3 254.8,119.0 255.2,119.7 255.6,120.4 256.0,121.2 256.4,121.9 256.8,122.7 257.2,123.4 257.6,124.1 258.0,124.8 258.4,125.5 258.8,126.1 259.2,126.8 259.6,127.4 260.0,128.1 260.4,128.7 260.8,129.3 261.2,129.8 261.6,130.3 262.0,130.8 262.4,131.2 262.8,131.6 263.2,132.1 263.5,132.5 263.9,132.9 264.3,133.2 264.7,133.6 265.1,133.9 265.5,134.2 265.9,134.5 266.3,134.7 266.7,134.9 267.1,135.1 267.5,135.2 267.9,135.2 268.3,135.2 268.7,135.2 269.1,135.1 269.5,135.0 269.9,134.9 270.3,134.8 270.7,134.6 271.1,134.4 271.5,134.3 271.9,134.0 272.3,133.8 272.6,133.5 273.0,133.3 273.4,133.0 273.8,132.7 274.2,132.4 274.6,132.0 275.0,131.7 275.4,131.3 275.8,130.9 276.2,130.5 276.6,130.1 277.0,129.7 277.4,129.3 277.8,128.9 278.2,128.4 278.6,128.0 279.0,127.5 279.4,127.1 279.8,126.6 280.2,126.1 280.6,125.5 281.0,124.9 281.3,124.2 281.7,123.4 282.1,122.4 282.5,121.5 282.9,120.5 283.3,119.5 283.7,118.5 284.1,117.7 284.5,116.9 284.9,116.2 285.3,115.6 285.7,115.1 286.1,114.6 286.5,114.1 286.9,113.7 287.3,113.3 287.7,112.9 288.1,112.7 288.5,112.5 288.9,112.4 289.3,112.4 289.7,112.5 290.1,112.7 290.4,113.0 290.8,113.3 291.2,113.7 291.6,114.1 292.0,114.6 292.4,115.1 292.8,115.6 293.2,116.1 293.6,116.7 294.0,117.3 294.4,118.1 294.8,118.9 295.2,119.8 295.6,120.7 296.0,121.6 296.4,122.5 296.8,123.3 297.2,124.1 297.6,124.9 298.0,125.6 298.4,126.2 298.8,126.9 299.1,127.5 299.5,128.1 299.9,128.7 300.3,129.4 300.7,130.0 301.1,130.6 301.5,131.2 301.9,131.7 302.3,132.2 302.7,132.7 303.1,133.2 303.5,133.6 303.9,134.0 304.3,134.4 304.7,134.6 305.1,134.9 305.5,135.0 305.9,135.1 306.3,135.2 306.7,135.2 307.1,135.2 307.5,135.2 307.9,135.2 308.2,135.2 308.6,135.2 309.0,135.2 309.4,135.2 309.8,135.2 310.2,135.2 310.6,135.1 311.0,134.9 311.4,134.7 311.8,134.5 312.2,134.2 312.6,133.9 313.0,133.6 313.4,133.2 313.8,132.8 314.2,132.4 314.6,132.1 315.0,131.7 315.4,131.3 315.8,131.0 316.2,130.6 316.6,130.3 316.9,130.0 317.3,129.8 317.7,129.6 318.1,129.5 318.5,129.4 318.9,129.3 319.3,129.4 319.7,129.4 320.1,129.5 320.5,129.6 320.9,129.7 321.3,129.9 321.7,130.1 322.1,130.3 322.5,130.5 322.9,130.7 323.3,130.9 323.7,131.2 324.1,131.5 324.5,131.7 324.9,132.0 325.3,132.3 325.7,132.6 326.0,132.8 326.4,133.1 326.8,133.4 327.2,133.6 327.6,133.9 328.0,134.1 328.4,134.3 328.8,134.5 329.2,134.7 329.6,134.8 330.0,135.0 330.4,135.1 330.8,135.2 331.2,135.2 331.6,135.2 332.0,135.2 332.4,135.2 332.8,135.2 333.2,135.2 333.6,135.2 334.0,135.2 334.4,135.2 334.7,135.2 335.1,135.2 335.5,135.2 335.9,135.2 336.3,135.2 336.7,135.2 337.1,135.2 337.5,135.1 337.9,135.1 338.3,135.1 338.7,135.1 339.1,135.1 339.5,135.0 339.9,135.0 340.3,135.0 340.7,135.0 341.1,134.9 341.5,134.9 341.9,134.9 342.3,134.8 342.7,134.8 343.1,134.7 343.5,134.7 343.8,134.7 344.2,134.6 344.6,134.5 345.0,134.5 345.4,134.4 345.8,134.4 346.2,134.3 346.6,134.3 347.0,134.2 347.4,134.1 347.8,134.0 348.2,134.0 348.6,133.9 349.0,133.8 349.4,133.7 349.8,133.6 350.2,133.5 350.6,133.4 351.0,133.3 351.4,133.2 351.8,133.1 352.2,133.0 352.5,132.9 352.9,132.8 353.3,132.7 353.7,132.5 354.1,132.4 354.5,132.3 354.9,132.1 355.3,132.0 355.7,131.7 356.1,131.4 356.5,131.0 356.9,130.5" stroke="#ff7f0e"/>
<polyline points="214.5,135.2 214.9,135.2 215.3,135.2 215.7,135.1 216.1,135.0 216.5,135.0 216.9,134.9 217.3,134.7 217.7,134.6 218.1,134.5 218.5,134.3 218.9,134.1 219.2,133.9 219.6,133.8 220.0,133.6 220.4,133.4 220.8,133.2 221.2,132.9 221.6,132.7 222.0,132.5 222.4,132.3 222.8,132.1 223.2,131.9 223.6,131.7 224.0,131.5 224.4,131.3 224.8,131.1 225.2,130.9 225.6,130.7 226.0,130.6 226.4,130.4 226.8,130.3 227.2,130.2 227.6,130.1 227.9,130.0 228.3,129.9 228.7,129.9 229.1,129.8 229.5,129.8 229.9,129.8 230.3,129.8 230.7,129.8 231.1,129.9 231.5,129.9 231.9,130.0 232.3,130.1 232.7,130.1 233.1,130.2 233.5,130.3 233.9,130.4 234.3,130.5 234.7,130.6 235.1,130.8 235.5,130.9 235.9,131.0 236.3,131.1 236.7,131.3 237.0,131.4 237.4,131.6 237.8,131.7 238.2,131.9 238.6,132.0 239.0,132.2 239.4,132.3 239.8,132.5 240.2,132.7 240.6,132.8 241.0,133.0 241.4,133.1 241.8,133.3 242.2,133.4 242.6,133.6 243.0,133.7 243.4,133.9 243.8,134.0 244.2,134.1 244.6,134.3 245.0,134.4 245.4,134.5 245.7,134.6 246.1,134.7 246.5,134.8 246.9,134.9 247.3,135.0 247.7,135.0 248.1,135.1 248.5,135.1 248.9,135.2 249.3,135.2 249.7,135.2 250.1,135.2 250.5,135.2 250.9,135.2 251.3,135.2 251.7,135.1 252.1,135.1 252.5,135.0 252.9,134.9 253.3,134.8 253.7,134.7 254.1,134.6 254.5,134.5 254.8,134.3 255.2,134.2 255.6,134.1 256.0,133.9 256.4,133.7 256.8,133.6 257.2,133.4 257.6,133.2 258.0,133.1 258.4,132.9 258.8,132.7 259.2,132.5 259.6,132.4 260.0,132.2 260.4,132.0 260.8,131.8 261.2,131.6 261.6,131.5 262.0,131.3 262.4,131.1 262.8,131.0 263.2,130.8 263.5,130.6 263.9,130.5 264.3,130.3 264.7,130.2 265.1,130.1 265.5,130.0 265.9,129.8 266.3,129.7 266.7,129.6 267.1,129.6 267.5,129.5 267.9,129.4 268.3,129.4 268.7,129.3 269.1,129.3 269.5,129.3 269.9,129.3 270.3,129.4 270.7,129.4 271.1,129.5 271.5,129.6 271.9,129.7 272.3,129.8 272.6,129.9 273.0,130.0 273.4,130.2 273.8,130.4 274.2,130.5 274.6,130.7 275.0,130.9 275.4,131.1 275.8,131.3 276.2,131.5 276.6,131.7 277.0,131.9 277.4,132.2 277.8,132.4 278.2,132.6 278.6,132.8 279.0,133.0 279.4,133.2 279.8,133.4 280.2,133.6 280.6,133.8 281.0,134.0 281.3,134.2 281.7,134.3 282.1,134.5 282.5,134.6 282.9,134.8 283.3,134.9 283.7,135.0 284.1,135.1 284.5,135.1 284.9,135.2 285.3,135.2 285.7,135.2 286.1,135.2 286.5,135.2 286.9,135.2 287.3,135.2 287.7,135.2 288.1,135.2 288.5,135.1 288.9,135.1 289.3,135.1 289.7,135.0 290.1,135.0 290.4,135.0 290.8,134.9 291.2,134.9 291.6,134.8 292.0,134.8 292.4,134.7 292.8,134.7 293.2,134.7 293.6,134.6 294.0,134.6 294.4,134.5 294.8,134.5 295.2,134.4 295.6,134.4 296.0,134.3 296.4,134.3 296.8,134.3 297.2,134.2 297.6,134.2 298.0,134.2 298.4,134.2 298.8,134.1 299.1,134.1 299.5,134.1 299.9,134.1 300.3,134.1 300.7,134.1 301.1,134.1 301.5,134.1 301.9,134.1 302.3,134.1 302.7,134.1 303.1,134.2 303.5,134.2 303.9,134.2 304.3,134.2 304.7,134.2 305.1,134.2 305.5,134.3 305.9,134.3 306.3,134.3 306.7,134.4 307.1,134.4 307.5,134.4 307.9,134.4 308.2,134.5 308.6,134.5 309.0,134.5 309.4,134.6 309.8,134.6 310.2,134.6 310.6,134.7 311.0,134.7 311.4,134.7 311.8,134.8 312.2,134.8 312.6,134.8 313.0,134.8 313.4,134.9 313.8,134.9 314.2,134.9 314.6,135.0 315.0,135.0 315.4,135.0 315.8,135.0 316.2,135.1 316.6,135.1 316.9,135.1 317.3,135.1 317.7,135.2 318.1,135.2 318.5,135.2 318.9,135.2 319.3,135.2 319.7,135.2 320.1,135.2 320.5,135.2 320.9,135.2 321.3,135.2 321.7,135.2 322.1,135.2 322.5,135.2 322.9,135.2 323.3,135.2 323.7,135.2 324.1,135.2 324.5,135.2 324.9,135.2 325.3,135.2 325.7,135.1 326.0,135.1 326.4,135.1 326.8,135.1 327.2,135.1 327.6,135.0 328.0,135.0 328.4,135.0 328.8,135.0 329.2,134.9 329.6,134.9 330.0,134.9 330.4,134.9 330.8,134.8 331.2,134.8 331.6,134.8 332.0,134.8 332.4,134.7 332.8,134.7 333.2,134.7 333.6,134.6 334.0,134.6 334.4,134.6 334.7,134.6 335.1,134.5 335.5,134.5 335.9,134.5 336.3,134.4 336.7,134.4 337.1,134.4 337.5,134.4 337.9,134.3 338.3,134.3 338.7,134.3 339.1,134.3 339.5,134.3 339.9,134.2 340.3,134.2 340.7,134.2 341.1,134.2 341.5,134.2 341.9,134.2 342.3,134.1 342.7,134.1 343.1,134.1 343.5,134.1 343.8,134.1 344.2,134.1 344.6,134.1 345.0,134.1 345.4,134.1 345.8,134.1 346.2,134.1 346.6,134.2 347.0,134.2 347.4,134.2 347.8,134.3 348.2,134.3 348.6,134.4 349.0,134.4 349.4,134.5 349.8,134.5 350.2,134.6 350.6,134.6 351.0,134.7 351.4,134.7 351.8,134.8 352.2,134.8 352.5,134.9 352.9,134.9 353.3,135.0 353.7,135.0 354.1,135.1 354.5,135.1 354.9,135.2 355.3,135.2 355.7,135.2 356.1,135.2 356.5,135.2 356.9,135.2" stroke="#2ca02c"/>
<polyline points="214.5,109.4 214.9,109.5 215.3,109.6 215.7,109.8 216.1,110.1 216.5,110.5 216.9,111.0 217.3,111.5 217.7,112.1 218.1,112.8 218.5,113.5 218.9,114.2 219.2,115.0 219.6,115.9 220.0,116.7 220.4,117.6 220.8,118.5 221.2,119.4 221.6,120.3 222.0,121.2 222.4,122.1 222.8,123.0 223.2,123.9 223.6,124.7 224.0,125.5 224.4,126.3 224.8,127.1 225.2,127.8 225.6,128.5 226.0,129.1 226.4,129.7 226.8,130.2 227.2,130.7 227.6,131.2 227.9,131.7 228.3,132.1 228.7,132.6 229.1,133.0 229.5,133.3 229.9,133.6 230.3,133.9 230.7,134.2 231.1,134.4 231.5,134.5 231.9,134.6 232.3,134.7 232.7,134.7 233.1,134.7 233.5,134.6 233.9,134.5 234.3,134.4 234.7,134.2 235.1,133.8 235.5,133.5 235.9,133.0 236.3,132.4 236.7,131.7 237.0,130.9 237.4,130.1 237.8,129.1 238.2,128.2 238.6,127.1 239.0,126.0 239.4,124.8 239.8,123.6 240.2,122.3 240.6,120.9 241.0,119.5 241.4,118.1 241.8,116.6 242.2,115.0 242.6,113.4 243.0,111.8 243.4,110.2 243.8,108.7 244.2,107.4 244.6,106.1 245.0,104.9 245.4,103.7 245.7,102.6 246.1,101.5 246.5,100.4 246.9,99.4 247.3,98.5 247.7,97.7 248.1,96.9 248.5,96.3 248.9,95.8 249.3,95.4 249.7,95.1 250.1,94.9 250.5,94.7 250.9,94.7 251.3,94.7 251.7,94.9 252.1,95.1 252.5,95.4 252.9,95.9 253.3,96.5 253.7,97.2 254.1,98.0 254.5,99.0 254.8,100.1 255.2,101.2 255.6,102.5 256.0,103.7 256.4,105.0 256.8,106.4 257.2,107.7 257.6,109.0 258.0,110.4 258.4,111.9 258.8,113.3 259.2,114.9 259.6,116.4 260.0,118.0 260.4,119.6 260.8,121.3 261.2,122.9 261.6,124.4 262.0,125.7 262.4,126.9 262.8,127.9 263.2,128.8 263.5,129.7 263.9,130.6 264.3,131.4 264.7,132.1 265.1,132.7 265.5,133.3 265.9,133.9 266.3,134.3 266.7,134.7 267.1,135.0 267.5,135.2 267.9,135.2 268.3,135.2 268.7,135.2 269.1,135.2 269.5,135.2 269.9,135.2 270.3,135.2 270.7,135.0 271.1,134.7 271.5,134.4 271.9,133.9 272.3,133.4 272.6,132.9 273.0,132.3 273.4,131.8 273.8,131.2 274.2,130.6 274.6,130.0 275.0,129.4 275.4,128.7 275.8,128.0 276.2,127.4 276.6,126.7 277.0,125.9 277.4,125.2 277.8,124.5 278.2,123.8 278.6,123.0 279.0,122.3 279.4,121.6 279.8,120.8 280.2,120.1 280.6,119.4 281.0,118.6 281.3,117.9 281.7,117.2 282.1,116.5 282.5,115.8 282.9,115.1 283.3,114.3 283.7,113.6 284.1,112.8 284.5,112.2 284.9,111.5 285.3,111.0 285.7,110.5 286.1,110.2 286.5,109.9 286.9,109.7 287.3,109.6 287.7,109.5 288.1,109.5 288.5,109.5 288.9,109.6 289.3,109.8 289.7,110.0 290.1,110.3 290.4,110.7 290.8,111.2 291.2,111.8 291.6,112.4 292.0,113.1 292.4,113.8 292.8,114.6 293.2,115.3 293.6,116.1 294.0,116.9 294.4,117.7 294.8,118.6 295.2,119.5 295.6,120.5 296.0,121.4 296.4,122.4 296.8,123.4 297.2,124.3 297.6,125.2 298.0,126.0 298.4,126.8 298.8,127.5 299.1,128.2 299.5,128.9 299.9,129.6 300.3,130.3 300.7,131.0 301.1,131.6 301.5,132.2 301.9,132.8 302.3,133.3 302.7,133.8 303.1,134.3 303.5,134.7 303.9,135.0 304.3,135.2 304.7,135.2 305.1,135.2 305.5,135.2 305.9,135.2 306.3,135.2 306.7,135.2 307.1,135.2 307.5,135.2 307.9,135.2 308.2,135.2 308.6,135.2 309.0,135.2 309.4,135.1 309.8,134.9 310.2,134.6 310.6,134.3 311.0,133.9 311.4,133.5 311.8,133.2 312.2,132.7 312.6,132.3 313.0,131.9 313.4,131.4 313.8,130.9 314.2,130.5 314.6,130.0 315.0,129.6 315.4,129.1 315.8,128.7 316.2,128.3 316.6,127.8 316.9,127.5 317.3,127.1 317.7,126.8 318.1,126.5 318.5,126.2 318.9,126.0 319.3,125.8 319.7,125.6 320.1,125.5 320.5,125.5 320.9,125.4 321.3,125.4 321.7,125.4 322.1,125.4 322.5,125.4 322.9,125.4 323.3,125.5 323.7,125.5 324.1,125.7 324.5,125.8 324.9,126.0 325.3,126.2 325.7,126.5 326.0,126.8 326.4,127.1 326.8,127.5 327.2,127.8 327.6,128.2 328.0,128.7 328.4,129.1 328.8,129.5 329.2,130.0 329.6,130.4 330.0,130.9 330.4,131.3 330.8,131.8 331.2,132.2 331.6,132.7 332.0,133.1 332.4,133.5 332.8,133.8 333.2,134.2 333.6,134.5 334.0,134.8 334.4,135.0 334.7,135.2 335.1,135.2 335.5,135.2 335.9,135.2 336.3,135.2 336.7,135.2 337.1,135.2 337.5,135.2 337.9,135.2 338.3,135.2 338.7,135.2 339.1,135.2 339.5,135.2 339.9,135.0 340.3,134.6 340.7,134.2 341.1,133.7 341.5,133.2 341.9,132.6 342.3,132.0 342.7,131.4 343.1,130.7 343.5,130.1 343.8,129.4 344.2,128.8 344.6,128.1 345.0,127.4 345.4,126.8 345.8,126.1 346.2,125.4 346.6,124.6 347.0,123.9 347.4,123.1 347.8,122.3 348.2,121.5 348.6,120.7 349.0,119.9 349.4,119.2 349.8,118.4 350.2,117.7 350.6,117.0 351.0,116.4 351.4,115.7 351.8,115.0 352.2,114.3 352.5,113.6 352.9,113.0 353.3,112.3 353.7,111.7 354.1,111.1 354.5,110.6 354.9,110.2 355.3,109.8 355.7,109.6 356.1,109.4 356.5,109.4 356.9,109.4" stroke="#d62728" stroke-width="0.68"/>
<polyline points="214.5,109.3 214.9,109.4 215.3,109.5 215.7,109.7 216.1,109.9 216.5,110.3 216.9,110.6 217.3,111.0 217.7,111.5 218.1,112.0 218.5,112.5 218.9,113.1 219.2,113.7 219.6,114.4 220.0,115.0 220.4,115.7 220.8,116.4 221.2,117.1 221.6,117.8 222.0,118.5 222.4,119.2 222.8,119.8 223.2,120.5 223.6,121.1 224.0,121.8 224.4,122.4 224.8,122.9 225.2,123.5 225.6,124.0 226.0,124.4 226.4,124.8 226.8,125.2 227.2,125.6 227.6,126.0 227.9,126.4 228.3,126.8 228.7,127.2 229.1,127.5 229.5,127.9 229.9,128.2 230.3,128.5 230.7,128.8 231.1,129.0 231.5,129.2 231.9,129.4 232.3,129.5 232.7,129.6 233.1,129.7 233.5,129.7 233.9,129.7 234.3,129.7 234.7,129.5 235.1,129.3 235.5,129.1 235.9,128.7 236.3,128.3 236.7,127.7 237.0,127.1 237.4,126.4 237.8,125.6 238.2,124.8 238.6,123.9 239.0,123.0 239.4,121.9 239.8,120.8 240.2,119.7 240.6,118.5 241.0,117.2 241.4,115.9 241.8,114.6 242.2,113.2 242.6,111.7 243.0,110.2 243.4,108.8 243.8,107.5 244.2,106.3 244.6,105.1 245.0,104.0 245.4,103.0 245.7,101.9 246.1,100.9 246.5,100.0 246.9,99.1 247.3,98.2 247.7,97.5 248.1,96.8 248.5,96.2 248.9,95.7 249.3,95.3 249.7,95.0 250.1,94.8 250.5,94.7 250.9,94.6 251.3,94.6 251.7,94.7 252.1,94.9 252.5,95.2 252.9,95.5 253.3,96.0 253.7,96.6 254.1,97.4 254.5,98.2 254.8,99.2 255.2,100.2 255.6,101.3 256.0,102.4 256.4,103.5 256.8,104.7 257.2,105.9 257.6,107.0 258.0,108.2 258.4,109.5 258.8,110.8 259.2,112.2 259.6,113.5 260.0,114.9 260.4,116.4 260.8,117.8 261.2,119.3 261.6,120.6 262.0,121.7 262.4,122.7 262.8,123.6 263.2,124.4 263.5,125.1 263.9,125.8 264.3,126.5 264.7,127.0 265.1,127.6 265.5,128.0 265.9,128.4 266.3,128.8 266.7,129.1 267.1,129.3 267.5,129.5 267.9,129.6 268.3,129.7 268.7,129.7 269.1,129.7 269.5,129.6 269.9,129.5 270.3,129.4 270.7,129.2 271.1,129.0 271.5,128.7 271.9,128.3 272.3,128.0 272.6,127.6 273.0,127.1 273.4,126.7 273.8,126.3 274.2,125.9 274.6,125.5 275.0,125.0 275.4,124.6 275.8,124.1 276.2,123.6 276.6,123.1 277.0,122.6 277.4,122.1 277.8,121.6 278.2,121.1 278.6,120.6 279.0,120.1 279.4,119.5 279.8,119.0 280.2,118.5 280.6,117.9 281.0,117.4 281.3,116.9 281.7,116.3 282.1,115.8 282.5,115.2 282.9,114.6 283.3,113.9 283.7,113.3 284.1,112.6 284.5,112.0 284.9,111.5 285.3,110.9 285.7,110.5 286.1,110.1 286.5,109.9 286.9,109.7 287.3,109.5 287.7,109.4 288.1,109.4 288.5,109.4 288.9,109.5 289.3,109.6 289.7,109.8 290.1,110.1 290.4,110.4 290.8,110.9 291.2,111.4 291.6,112.0 292.0,112.6 292.4,113.3 292.8,114.0 293.2,114.7 293.6,115.5 294.0,116.2 294.4,117.0 294.8,117.8 295.2,118.7 295.6,119.6 296.0,120.5 296.4,121.5 296.8,122.4 297.2,123.3 297.6,124.1 298.0,124.9 298.4,125.7 298.8,126.4 299.1,127.1 299.5,127.8 299.9,128.5 300.3,129.1 300.7,129.8 301.1,130.5 301.5,131.1 301.9,131.7 302.3,132.2 302.7,132.7 303.1,133.2 303.5,133.6 303.9,133.9 304.3,134.2 304.7,134.5 305.1,134.6 305.5,134.8 305.9,134.8 306.3,134.9 306.7,134.9 307.1,134.9 307.5,134.9 307.9,134.9 308.2,134.8 308.6,134.7 309.0,134.6 309.4,134.4 309.8,134.2 310.2,133.9 310.6,133.7 311.0,133.4 311.4,133.0 311.8,132.7 312.2,132.3 312.6,131.9 313.0,131.5 313.4,131.0 313.8,130.6 314.2,130.2 314.6,129.7 315.0,129.3 315.4,128.9 315.8,128.5 316.2,128.1 316.6,127.7 316.9,127.3 317.3,127.0 317.7,126.7 318.1,126.4 318.5,126.1 318.9,125.9 319.3,125.7 319.7,125.6 320.1,125.5 320.5,125.5 320.9,125.4 321.3,125.4 321.7,125.4 322.1,125.4 322.5,125.4 322.9,125.4 323.3,125.4 323.7,125.5 324.1,125.6 324.5,125.7 324.9,125.9 325.3,126.1 325.7,126.4 326.0,126.7 326.4,127.0 326.8,127.3 327.2,127.7 327.6,128.0 328.0,128.4 328.4,128.8 328.8,129.3 329.2,129.7 329.6,130.1 330.0,130.5 330.4,131.0 330.8,131.4 331.2,131.8 331.6,132.2 332.0,132.6 332.4,132.9 332.8,133.3 333.2,133.6 333.6,133.9 334.0,134.1 334.4,134.4 334.7,134.5 335.1,134.7 335.5,134.8 335.9,134.8 336.3,134.9 336.7,134.9 337.1,134.9 337.5,134.9 337.9,134.9 338.3,134.8 338.7,134.6 339.1,134.5 339.5,134.2 339.9,133.9 340.3,133.6 340.7,133.2 341.1,132.7 341.5,132.1 341.9,131.5 342.3,130.9 342.7,130.3 343.1,129.6 343.5,128.9 343.8,128.3 344.2,127.6 344.6,127.0 345.0,126.3 345.4,125.6 345.8,125.0 346.2,124.3 346.6,123.6 347.0,122.8 347.4,122.1 347.8,121.3 348.2,120.6 348.6,119.8 349.0,119.1 349.4,118.4 349.8,117.7 350.2,117.0 350.6,116.4 351.0,115.8 351.4,115.2 351.8,114.5 352.2,113.9 352.5,113.3 352.9,112.7 353.3,112.1 353.7,111.5 354.1,111.0 354.5,110.5 354.9,110.1 355.3,109.8 355.7,109.6 356.1,109.4 356.5,109.3 356.9,109.3" stroke="#9467bd"/>
</g>
<rect x="214.50" y="29.50" width="142.40" height="105.75" fill="none" stroke="#8c8c8c" stroke-width="1.0"/>
<path d="M214.50 135.25v2M226.37 135.25v2M238.23 135.25v2M250.10 135.25v2M261.97 135.25v2M273.83 135.25v2M285.70 135.25v2M297.57 135.25v2M309.43 135.25v2M321.30 135.25v2M333.17 135.25v2M345.03 135.25v2M356.90 135.25v2M214.50 135.25h-2M214.50 116.02h-2M214.50 96.80h-2M214.50 77.57h-2M214.50 58.34h-2M214.50 39.11h-2" stroke="#777" stroke-width="0.6" fill="none"/>
<text x="211.40" y="138.10" font-size="8.16" text-anchor="end" fill="#222222" stroke="#222222" stroke-width="0.1" textLength="10.49" lengthAdjust="spacingAndGlyphs">0.0</text>
<text x="211.40" y="118.87" font-size="8.16" text-anchor="end" fill="#222222" stroke="#222222" stroke-width="0.1" textLength="10.49" lengthAdjust="spacingAndGlyphs">0.2</text>
<text x="211.40" y="99.65" font-size="8.16" text-anchor="end" fill="#222222" stroke="#222222" stroke-width="0.1" textLength="10.49" lengthAdjust="spacingAndGlyphs">0.4</text>
<text x="211.40" y="80.42" font-size="8.16" text-anchor="end" fill="#222222" stroke="#222222" stroke-width="0.1" textLength="10.49" lengthAdjust="spacingAndGlyphs">0.6</text>
<text x="211.40" y="61.19" font-size="8.16" text-anchor="end" fill="#222222" stroke="#222222" stroke-width="0.1" textLength="10.49" lengthAdjust="spacingAndGlyphs">0.8</text>
<text x="211.40" y="41.96" font-size="8.16" text-anchor="end" fill="#222222" stroke="#222222" stroke-width="0.1" textLength="10.49" lengthAdjust="spacingAndGlyphs">1.0</text>
<g transform="translate(214.00,141.74) rotate(-30)"><text x="0.00" y="2.59" font-size="8.16" text-anchor="middle" fill="#222222" stroke="#222222" stroke-width="0.1" textLength="4.52" lengthAdjust="spacingAndGlyphs">0</text></g>
<g transform="translate(225.87,142.87) rotate(-30)"><text x="0.00" y="2.59" font-size="8.16" text-anchor="middle" fill="#222222" stroke="#222222" stroke-width="0.1" textLength="9.03" lengthAdjust="spacingAndGlyphs">30</text></g>
<g transform="translate(237.73,142.87) rotate(-30)"><text x="0.00" y="2.59" font-size="8.16" text-anchor="middle" fill="#222222" stroke="#222222" stroke-width="0.1" textLength="9.03" lengthAdjust="spacingAndGlyphs">60</text></g>
<g transform="translate(249.60,142.87) rotate(-30)"><text x="0.00" y="2.59" font-size="8.16" text-anchor="middle" fill="#222222" stroke="#222222" stroke-width="0.1" textLength="9.03" lengthAdjust="spacingAndGlyphs">90</text></g>
<g transform="translate(261.47,144.00) rotate(-30)"><text x="0.00" y="2.59" font-size="8.16" text-anchor="middle" fill="#222222" stroke="#222222" stroke-width="0.1" textLength="13.55" lengthAdjust="spacingAndGlyphs">120</text></g>
<g transform="translate(273.33,144.00) rotate(-30)"><text x="0.00" y="2.59" font-size="8.16" text-anchor="middle" fill="#222222" stroke="#222222" stroke-width="0.1" textLength="13.55" lengthAdjust="spacingAndGlyphs">150</text></g>
<g transform="translate(285.20,144.00) rotate(-30)"><text x="0.00" y="2.59" font-size="8.16" text-anchor="middle" fill="#222222" stroke="#222222" stroke-width="0.1" textLength="13.55" lengthAdjust="spacingAndGlyphs">180</text></g>
<g transform="translate(297.07,144.00) rotate(-30)"><text x="0.00" y="2.59" font-size="8.16" text-anchor="middle" fill="#222222" stroke="#222222" stroke-width="0.1" textLength="13.55" lengthAdjust="spacingAndGlyphs">210</text></g>
<g transform="translate(308.93,144.00) rotate(-30)"><text x="0.00" y="2.59" font-size="8.16" text-anchor="middle" fill="#222222" stroke="#222222" stroke-width="0.1" textLength="13.55" lengthAdjust="spacingAndGlyphs">240</text></g>
<g transform="translate(320.80,144.00) rotate(-30)"><text x="0.00" y="2.59" font-size="8.16" text-anchor="middle" fill="#222222" stroke="#222222" stroke-width="0.1" textLength="13.55" lengthAdjust="spacingAndGlyphs">270</text></g>
<g transform="translate(332.67,144.00) rotate(-30)"><text x="0.00" y="2.59" font-size="8.16" text-anchor="middle" fill="#222222" stroke="#222222" stroke-width="0.1" textLength="13.55" lengthAdjust="spacingAndGlyphs">300</text></g>
<g transform="translate(344.53,144.00) rotate(-30)"><text x="0.00" y="2.59" font-size="8.16" text-anchor="middle" fill="#222222" stroke="#222222" stroke-width="0.1" textLength="13.55" lengthAdjust="spacingAndGlyphs">330</text></g>
<g transform="translate(356.40,144.00) rotate(-30)"><text x="0.00" y="2.59" font-size="8.16" text-anchor="middle" fill="#222222" stroke="#222222" stroke-width="0.1" textLength="13.55" lengthAdjust="spacingAndGlyphs">360</text></g>
<text x="285.70" y="158.10" font-size="8.16" text-anchor="middle" fill="#222222" stroke="#222222" stroke-width="0.1" textLength="95.60" lengthAdjust="spacingAndGlyphs">Relative Azimuth Angle [°]</text>
<g transform="translate(196.10,135.53) rotate(-90)"><text x="0.00" y="-0.00" font-size="8.33" fill="#222222" stroke="#222222" stroke-width="0.10" textLength="2.83" lengthAdjust="spacingAndGlyphs">(</text><text x="2.84" y="-0.00" font-size="8.33" fill="#222222" stroke="#222222" stroke-width="0.10" textLength="4.62" lengthAdjust="spacingAndGlyphs">1</text><text x="7.47" y="-0.00" font-size="8.33" fill="#222222" stroke="#222222" stroke-width="0.10" textLength="2.45" lengthAdjust="spacingAndGlyphs">/</text><text x="9.93" y="-0.00" font-size="8.33" fill="#222222" stroke="#222222" stroke-width="0.10" textLength="2.83" lengthAdjust="spacingAndGlyphs">(</text><text x="12.77" y="-0.00" font-size="8.33" font-style="italic" fill="#222222" stroke="#222222" stroke-width="0.10" textLength="4.76" lengthAdjust="spacingAndGlyphs">K</text><text x="17.55" y="1.15" font-size="5.83" font-style="italic" fill="#222222" stroke="#222222" stroke-width="0.07" textLength="3.22" lengthAdjust="spacingAndGlyphs">p</text><text x="22.40" y="-0.00" font-size="8.33" fill="#222222" stroke="#222222" stroke-width="0.10" textLength="3.63" lengthAdjust="spacingAndGlyphs">*</text><text x="27.46" y="-0.31" font-size="8.33" font-style="italic" fill="#222222" stroke="#222222" stroke-width="0.10" textLength="4.60" lengthAdjust="spacingAndGlyphs">σ</text><text x="32.39" y="-2.99" font-size="5.83" fill="#222222" stroke="#222222" stroke-width="0.07" textLength="3.23" lengthAdjust="spacingAndGlyphs">0</text><text x="35.83" y="-0.00" font-size="8.33" fill="#222222" stroke="#222222" stroke-width="0.10" textLength="2.83" lengthAdjust="spacingAndGlyphs">)</text><text x="40.09" y="-0.00" font-size="8.33" fill="#222222" stroke="#222222" stroke-width="0.10" textLength="3.63" lengthAdjust="spacingAndGlyphs">*</text><text x="45.15" y="-0.00" font-size="8.33" fill="#222222" stroke="#222222" stroke-width="0.10" textLength="3.75" lengthAdjust="spacingAndGlyphs">∂</text><text x="48.92" y="-0.00" font-size="8.33" font-style="italic" fill="#222222" stroke="#222222" stroke-width="0.10" textLength="4.60" lengthAdjust="spacingAndGlyphs">σ</text><text x="53.85" y="-2.68" font-size="5.83" fill="#222222" stroke="#222222" stroke-width="0.07" textLength="3.23" lengthAdjust="spacingAndGlyphs">0</text><text x="57.29" y="-0.00" font-size="8.33" fill="#222222" stroke="#222222" stroke-width="0.10" textLength="2.45" lengthAdjust="spacingAndGlyphs">/</text><text x="59.74" y="-0.00" font-size="8.33" fill="#222222" stroke="#222222" stroke-width="0.10" textLength="3.75" lengthAdjust="spacingAndGlyphs">∂</text><text x="63.51" y="-0.00" font-size="8.33" font-style="italic" fill="#222222" stroke="#222222" stroke-width="0.10" textLength="4.79" lengthAdjust="spacingAndGlyphs">ϕ</text><text x="68.31" y="1.15" font-size="5.83" font-style="italic" fill="#222222" stroke="#222222" stroke-width="0.07" textLength="3.22" lengthAdjust="spacingAndGlyphs">u</text><text x="71.74" y="-0.00" font-size="8.33" fill="#222222" stroke="#222222" stroke-width="0.10" textLength="2.83" lengthAdjust="spacingAndGlyphs">)</text><text x="74.65" y="-2.68" font-size="5.83" fill="#222222" stroke="#222222" stroke-width="0.07" textLength="3.23" lengthAdjust="spacingAndGlyphs">2</text><text x="78.09" y="-0.00" font-size="8.33" fill="#222222" stroke="#222222" stroke-width="0.10" textLength="2.83" lengthAdjust="spacingAndGlyphs">[</text><text x="80.93" y="-0.00" font-size="8.33" font-style="italic" fill="#222222" stroke="#222222" stroke-width="0.10" textLength="4.61" lengthAdjust="spacingAndGlyphs">d</text><text x="85.55" y="-0.00" font-size="8.33" font-style="italic" fill="#222222" stroke="#222222" stroke-width="0.10" textLength="4.46" lengthAdjust="spacingAndGlyphs">e</text><text x="90.03" y="-0.00" font-size="8.33" font-style="italic" fill="#222222" stroke="#222222" stroke-width="0.10" textLength="4.61" lengthAdjust="spacingAndGlyphs">g</text><text x="94.99" y="-2.68" font-size="5.83" fill="#222222" stroke="#222222" stroke-width="0.07" textLength="4.26" lengthAdjust="spacingAndGlyphs">−</text><text x="99.26" y="-2.68" font-size="5.83" fill="#222222" stroke="#222222" stroke-width="0.07" textLength="3.23" lengthAdjust="spacingAndGlyphs">2</text><text x="102.70" y="-0.00" font-size="8.33" fill="#222222" stroke="#222222" stroke-width="0.10" textLength="2.83" lengthAdjust="spacingAndGlyphs">]</text><rect x="27.46" y="-7.64" width="8.37" height="0.50" fill="#222222"/></g>
<text x="285.70" y="26.70" font-size="9.80" text-anchor="middle" fill="#222222" stroke="#222222" stroke-width="0.1" textLength="97.12" lengthAdjust="spacingAndGlyphs">Cell: mid; WSpd:&#160; 5m/s</text>
<path d="M409.52 29.50V135.25M421.38 29.50V135.25M433.25 29.50V135.25M445.12 29.50V135.25M456.98 29.50V135.25M468.85 29.50V135.25M480.72 29.50V135.25M492.58 29.50V135.25M504.45 29.50V135.25M516.32 29.50V135.25M528.18 29.50V135.25M397.65 116.02H540.05M397.65 96.80H540.05M397.65 77.57H540.05M397.65 58.34H540.05M397.65 39.11H540.05" stroke="#dddddd" stroke-width="1.0" fill="none"/>
<clipPath id="c3"><rect x="397.65" y="29.50" width="142.40" height="105.75"/></clipPath>
<g clip-path="url(#c3)" fill="none" stroke-width="0.85" stroke-linejoin="round" stroke-linecap="round" stroke-opacity="1">
<polyline points="397.6,107.3 398.0,107.4 398.4,107.6 398.8,108.0 399.2,108.6 399.6,109.2 400.0,109.9 400.4,110.7 400.8,111.6 401.2,112.4 401.6,113.3 402.0,114.2 402.4,115.0 402.8,115.8 403.2,116.5 403.6,117.3 404.0,118.1 404.4,118.8 404.8,119.6 405.2,120.4 405.6,121.2 406.0,122.0 406.4,122.7 406.7,123.5 407.1,124.1 407.5,124.8 407.9,125.4 408.3,125.9 408.7,126.5 409.1,127.0 409.5,127.6 409.9,128.1 410.3,128.7 410.7,129.2 411.1,129.7 411.5,130.3 411.9,130.8 412.3,131.3 412.7,131.7 413.1,132.2 413.5,132.6 413.9,133.0 414.3,133.4 414.7,133.8 415.1,134.1 415.4,134.4 415.8,134.6 416.2,134.8 416.6,135.0 417.0,135.1 417.4,135.2 417.8,135.2 418.2,135.2 418.6,135.1 419.0,135.0 419.4,134.9 419.8,134.7 420.2,134.5 420.6,134.2 421.0,134.0 421.4,133.6 421.8,133.3 422.2,133.0 422.6,132.6 423.0,132.2 423.4,131.7 423.8,131.3 424.2,130.8 424.5,130.4 424.9,129.9 425.3,129.4 425.7,128.8 426.1,128.3 426.5,127.8 426.9,127.3 427.3,126.7 427.7,126.2 428.1,125.6 428.5,124.9 428.9,124.2 429.3,123.4 429.7,122.5 430.1,121.6 430.5,120.7 430.9,119.7 431.3,118.8 431.7,117.9 432.1,117.1 432.5,116.3 432.9,115.6 433.2,114.8 433.6,114.1 434.0,113.4 434.4,112.7 434.8,112.0 435.2,111.3 435.6,110.6 436.0,110.0 436.4,109.4 436.8,108.9 437.2,108.5 437.6,108.2 438.0,107.9 438.4,107.7 438.8,107.7 439.2,107.7 439.6,107.9 440.0,108.2 440.4,108.5 440.8,108.9 441.2,109.4 441.6,110.0 442.0,110.6 442.3,111.2 442.7,111.9 443.1,112.6 443.5,113.3 443.9,114.0 444.3,114.7 444.7,115.4 445.1,116.0 445.5,116.7 445.9,117.4 446.3,118.2 446.7,119.0 447.1,119.8 447.5,120.6 447.9,121.5 448.3,122.3 448.7,123.1 449.1,124.0 449.5,124.8 449.9,125.5 450.3,126.2 450.7,126.9 451.0,127.5 451.4,128.1 451.8,128.8 452.2,129.4 452.6,130.0 453.0,130.6 453.4,131.2 453.8,131.8 454.2,132.3 454.6,132.8 455.0,133.3 455.4,133.8 455.8,134.2 456.2,134.5 456.6,134.8 457.0,135.0 457.4,135.1 457.8,135.2 458.2,135.2 458.6,135.1 459.0,134.9 459.4,134.7 459.8,134.5 460.1,134.2 460.5,133.9 460.9,133.6 461.3,133.2 461.7,132.8 462.1,132.4 462.5,132.0 462.9,131.5 463.3,131.0 463.7,130.6 464.1,130.1 464.5,129.7 464.9,129.2 465.3,128.8 465.7,128.4 466.1,128.0 466.5,127.6 466.9,127.3 467.3,127.0 467.7,126.8 468.1,126.5 468.5,126.4 468.8,126.3 469.2,126.2 469.6,126.2 470.0,126.3 470.4,126.4 470.8,126.7 471.2,127.0 471.6,127.3 472.0,127.7 472.4,128.2 472.8,128.7 473.2,129.2 473.6,129.7 474.0,130.2 474.4,130.8 474.8,131.3 475.2,131.9 475.6,132.4 476.0,132.9 476.4,133.4 476.8,133.8 477.2,134.2 477.6,134.5 477.9,134.8 478.3,135.0 478.7,135.1 479.1,135.2 479.5,135.2 479.9,135.2 480.3,135.2 480.7,135.2 481.1,135.2 481.5,135.2 481.9,135.2 482.3,135.2 482.7,135.2 483.1,135.2 483.5,135.2 483.9,135.2 484.3,135.2 484.7,135.2 485.1,135.2 485.5,135.2 485.9,135.2 486.3,135.2 486.6,135.2 487.0,135.2 487.4,135.2 487.8,135.2 488.2,135.2 488.6,135.2 489.0,135.2 489.4,135.2 489.8,135.2 490.2,135.2 490.6,135.2 491.0,135.2 491.4,135.2 491.8,135.2 492.2,135.2 492.6,135.2 493.0,135.2 493.4,135.2 493.8,135.2 494.2,135.2 494.6,135.2 495.0,135.2 495.4,135.2 495.7,135.2 496.1,135.2 496.5,135.2 496.9,135.2 497.3,135.2 497.7,135.2 498.1,135.1 498.5,134.9 498.9,134.8 499.3,134.5 499.7,134.3 500.1,134.0 500.5,133.6 500.9,133.3 501.3,132.9 501.7,132.5 502.1,132.0 502.5,131.6 502.9,131.1 503.3,130.7 503.7,130.2 504.1,129.8 504.4,129.3 504.8,128.9 505.2,128.5 505.6,128.1 506.0,127.7 506.4,127.4 506.8,127.1 507.2,126.8 507.6,126.6 508.0,126.4 508.4,126.2 508.8,126.1 509.2,126.1 509.6,126.1 510.0,126.1 510.4,126.2 510.8,126.4 511.2,126.6 511.6,126.8 512.0,127.0 512.4,127.3 512.8,127.6 513.2,127.9 513.5,128.3 513.9,128.6 514.3,129.0 514.7,129.4 515.1,129.8 515.5,130.2 515.9,130.6 516.3,131.0 516.7,131.4 517.1,131.8 517.5,132.2 517.9,132.6 518.3,132.9 518.7,133.3 519.1,133.6 519.5,133.9 519.9,134.2 520.3,134.4 520.7,134.7 521.1,134.9 521.5,135.0 521.9,135.1 522.2,135.2 522.6,135.2 523.0,135.1 523.4,135.0 523.8,134.9 524.2,134.6 524.6,134.4 525.0,134.0 525.4,133.6 525.8,133.2 526.2,132.7 526.6,132.2 527.0,131.6 527.4,131.0 527.8,130.4 528.2,129.7 528.6,129.0 529.0,128.3 529.4,127.5 529.8,126.8 530.2,126.0 530.6,125.2 531.0,124.4 531.3,123.6 531.7,122.8 532.1,122.0 532.5,121.2 532.9,120.4 533.3,119.6 533.7,118.9 534.1,118.1 534.5,117.4 534.9,116.6 535.3,115.9 535.7,115.1 536.1,114.3 536.5,113.4 536.9,112.4 537.3,111.5 537.7,110.6 538.1,109.7 538.5,108.9 538.9,108.3 539.3,107.8 539.7,107.4 540.0,107.3" stroke="#1f77b4"/>
<polyline points="397.6,126.0 398.0,126.0 398.4,126.1 398.8,126.3 399.2,126.4 399.6,126.6 400.0,126.9 400.4,127.1 400.8,127.5 401.2,127.8 401.6,128.1 402.0,128.5 402.4,128.9 402.8,129.3 403.2,129.8 403.6,130.2 404.0,130.6 404.4,131.0 404.8,131.5 405.2,131.9 405.6,132.3 406.0,132.7 406.4,133.1 406.7,133.4 407.1,133.8 407.5,134.1 407.9,134.4 408.3,134.6 408.7,134.8 409.1,135.0 409.5,135.1 409.9,135.2 410.3,135.2 410.7,135.2 411.1,135.1 411.5,135.0 411.9,134.9 412.3,134.8 412.7,134.6 413.1,134.3 413.5,134.1 413.9,133.8 414.3,133.5 414.7,133.1 415.1,132.8 415.4,132.4 415.8,132.0 416.2,131.6 416.6,131.1 417.0,130.6 417.4,130.2 417.8,129.7 418.2,129.1 418.6,128.6 419.0,128.1 419.4,127.5 419.8,126.9 420.2,126.4 420.6,125.7 421.0,125.0 421.4,124.2 421.8,123.2 422.2,122.2 422.6,121.0 423.0,119.9 423.4,118.7 423.8,117.7 424.2,116.7 424.5,115.7 424.9,114.8 425.3,113.9 425.7,113.0 426.1,112.1 426.5,111.2 426.9,110.4 427.3,109.7 427.7,109.0 428.1,108.5 428.5,108.1 428.9,107.8 429.3,107.7 429.7,107.8 430.1,107.9 430.5,108.2 430.9,108.5 431.3,108.9 431.7,109.4 432.1,110.0 432.5,110.6 432.9,111.3 433.2,112.0 433.6,112.7 434.0,113.4 434.4,114.1 434.8,114.8 435.2,115.6 435.6,116.3 436.0,117.1 436.4,117.9 436.8,118.8 437.2,119.7 437.6,120.6 438.0,121.6 438.4,122.5 438.8,123.4 439.2,124.2 439.6,124.9 440.0,125.6 440.4,126.2 440.8,126.7 441.2,127.3 441.6,127.9 442.0,128.4 442.3,128.9 442.7,129.5 443.1,130.0 443.5,130.5 443.9,131.0 444.3,131.5 444.7,131.9 445.1,132.4 445.5,132.8 445.9,133.2 446.3,133.5 446.7,133.9 447.1,134.2 447.5,134.4 447.9,134.7 448.3,134.8 448.7,135.0 449.1,135.1 449.5,135.2 449.9,135.2 450.3,135.2 450.7,135.1 451.0,135.1 451.4,135.0 451.8,134.8 452.2,134.7 452.6,134.5 453.0,134.2 453.4,134.0 453.8,133.7 454.2,133.4 454.6,133.1 455.0,132.8 455.4,132.4 455.8,132.1 456.2,131.7 456.6,131.3 457.0,130.8 457.4,130.4 457.8,130.0 458.2,129.5 458.6,129.0 459.0,128.6 459.4,128.1 459.8,127.6 460.1,127.1 460.5,126.6 460.9,126.1 461.3,125.5 461.7,124.9 462.1,124.2 462.5,123.5 462.9,122.6 463.3,121.8 463.7,120.8 464.1,119.9 464.5,119.0 464.9,118.1 465.3,117.2 465.7,116.3 466.1,115.4 466.5,114.5 466.9,113.5 467.3,112.5 467.7,111.6 468.1,110.6 468.5,109.8 468.8,109.0 469.2,108.5 469.6,108.0 470.0,107.8 470.4,107.8 470.8,107.9 471.2,108.1 471.6,108.5 472.0,108.9 472.4,109.4 472.8,110.0 473.2,110.7 473.6,111.4 474.0,112.1 474.4,112.8 474.8,113.6 475.2,114.3 475.6,115.1 476.0,115.8 476.4,116.6 476.8,117.4 477.2,118.2 477.6,119.1 477.9,120.0 478.3,120.9 478.7,121.8 479.1,122.7 479.5,123.6 479.9,124.4 480.3,125.2 480.7,125.9 481.1,126.6 481.5,127.3 481.9,128.0 482.3,128.7 482.7,129.4 483.1,130.1 483.5,130.8 483.9,131.4 484.3,132.0 484.7,132.6 485.1,133.2 485.5,133.7 485.9,134.1 486.3,134.5 486.6,134.7 487.0,135.0 487.4,135.1 487.8,135.2 488.2,135.2 488.6,135.1 489.0,135.0 489.4,134.8 489.8,134.6 490.2,134.3 490.6,134.1 491.0,133.8 491.4,133.4 491.8,133.1 492.2,132.7 492.6,132.3 493.0,131.9 493.4,131.5 493.8,131.0 494.2,130.6 494.6,130.2 495.0,129.7 495.4,129.3 495.7,128.9 496.1,128.5 496.5,128.1 496.9,127.8 497.3,127.4 497.7,127.1 498.1,126.9 498.5,126.6 498.9,126.4 499.3,126.3 499.7,126.2 500.1,126.1 500.5,126.1 500.9,126.1 501.3,126.1 501.7,126.2 502.1,126.4 502.5,126.5 502.9,126.7 503.3,126.9 503.7,127.1 504.1,127.4 504.4,127.7 504.8,128.0 505.2,128.3 505.6,128.6 506.0,128.9 506.4,129.3 506.8,129.6 507.2,130.0 507.6,130.3 508.0,130.7 508.4,131.0 508.8,131.4 509.2,131.7 509.6,132.1 510.0,132.4 510.4,132.8 510.8,133.1 511.2,133.4 511.6,133.7 512.0,133.9 512.4,134.2 512.8,134.4 513.2,134.6 513.5,134.8 513.9,134.9 514.3,135.1 514.7,135.1 515.1,135.2 515.5,135.2 515.9,135.2 516.3,135.2 516.7,135.2 517.1,135.1 517.5,135.1 517.9,135.0 518.3,134.9 518.7,134.8 519.1,134.7 519.5,134.6 519.9,134.5 520.3,134.3 520.7,134.2 521.1,134.0 521.5,133.9 521.9,133.7 522.2,133.5 522.6,133.4 523.0,133.2 523.4,133.0 523.8,132.8 524.2,132.6 524.6,132.4 525.0,132.2 525.4,131.9 525.8,131.7 526.2,131.5 526.6,131.3 527.0,131.1 527.4,130.8 527.8,130.6 528.2,130.4 528.6,130.2 529.0,129.9 529.4,129.7 529.8,129.5 530.2,129.3 530.6,129.1 531.0,128.9 531.3,128.7 531.7,128.5 532.1,128.3 532.5,128.1 532.9,127.9 533.3,127.7 533.7,127.5 534.1,127.3 534.5,127.2 534.9,127.0 535.3,126.9 535.7,126.8 536.1,126.6 536.5,126.5 536.9,126.4 537.3,126.3 537.7,126.2 538.1,126.2 538.5,126.1 538.9,126.1 539.3,126.0 539.7,126.0 540.0,126.0" stroke="#ff7f0e"/>
<polyline points="397.6,135.2 398.0,135.2 398.4,135.1 398.8,135.0 399.2,134.9 399.6,134.8 400.0,134.6 400.4,134.4 400.8,134.2 401.2,133.9 401.6,133.7 402.0,133.4 402.4,133.1 402.8,132.8 403.2,132.5 403.6,132.1 404.0,131.8 404.4,131.4 404.8,131.1 405.2,130.7 405.6,130.4 406.0,130.0 406.4,129.7 406.7,129.3 407.1,129.0 407.5,128.6 407.9,128.3 408.3,128.0 408.7,127.7 409.1,127.4 409.5,127.1 409.9,126.8 410.3,126.6 410.7,126.4 411.1,126.2 411.5,126.1 411.9,125.9 412.3,125.8 412.7,125.7 413.1,125.7 413.5,125.7 413.9,125.7 414.3,125.7 414.7,125.8 415.1,125.9 415.4,126.0 415.8,126.1 416.2,126.2 416.6,126.4 417.0,126.5 417.4,126.7 417.8,126.9 418.2,127.1 418.6,127.3 419.0,127.6 419.4,127.8 419.8,128.0 420.2,128.3 420.6,128.6 421.0,128.8 421.4,129.1 421.8,129.4 422.2,129.7 422.6,129.9 423.0,130.2 423.4,130.5 423.8,130.8 424.2,131.1 424.5,131.3 424.9,131.6 425.3,131.9 425.7,132.2 426.1,132.4 426.5,132.7 426.9,132.9 427.3,133.2 427.7,133.4 428.1,133.6 428.5,133.9 428.9,134.1 429.3,134.2 429.7,134.4 430.1,134.6 430.5,134.7 430.9,134.8 431.3,134.9 431.7,135.0 432.1,135.1 432.5,135.2 432.9,135.2 433.2,135.2 433.6,135.2 434.0,135.2 434.4,135.1 434.8,135.1 435.2,135.0 435.6,134.9 436.0,134.8 436.4,134.7 436.8,134.5 437.2,134.4 437.6,134.2 438.0,134.0 438.4,133.8 438.8,133.6 439.2,133.4 439.6,133.2 440.0,133.0 440.4,132.7 440.8,132.5 441.2,132.3 441.6,132.0 442.0,131.8 442.3,131.5 442.7,131.2 443.1,131.0 443.5,130.7 443.9,130.4 444.3,130.2 444.7,129.9 445.1,129.6 445.5,129.4 445.9,129.1 446.3,128.9 446.7,128.6 447.1,128.4 447.5,128.1 447.9,127.9 448.3,127.7 448.7,127.5 449.1,127.3 449.5,127.1 449.9,126.9 450.3,126.7 450.7,126.5 451.0,126.4 451.4,126.2 451.8,126.1 452.2,126.0 452.6,125.9 453.0,125.8 453.4,125.8 453.8,125.7 454.2,125.7 454.6,125.7 455.0,125.7 455.4,125.8 455.8,125.9 456.2,126.0 456.6,126.2 457.0,126.4 457.4,126.6 457.8,126.9 458.2,127.2 458.6,127.5 459.0,127.8 459.4,128.2 459.8,128.5 460.1,128.9 460.5,129.3 460.9,129.7 461.3,130.0 461.7,130.4 462.1,130.8 462.5,131.2 462.9,131.6 463.3,132.0 463.7,132.4 464.1,132.7 464.5,133.1 464.9,133.4 465.3,133.7 465.7,134.0 466.1,134.2 466.5,134.5 466.9,134.7 467.3,134.9 467.7,135.0 468.1,135.1 468.5,135.2 468.8,135.2 469.2,135.2 469.6,135.2 470.0,135.2 470.4,135.2 470.8,135.2 471.2,135.2 471.6,135.1 472.0,135.1 472.4,135.1 472.8,135.0 473.2,135.0 473.6,135.0 474.0,134.9 474.4,134.9 474.8,134.8 475.2,134.8 475.6,134.7 476.0,134.7 476.4,134.7 476.8,134.6 477.2,134.6 477.6,134.5 477.9,134.5 478.3,134.5 478.7,134.4 479.1,134.4 479.5,134.4 479.9,134.4 480.3,134.3 480.7,134.3 481.1,134.3 481.5,134.3 481.9,134.3 482.3,134.3 482.7,134.3 483.1,134.3 483.5,134.3 483.9,134.3 484.3,134.3 484.7,134.3 485.1,134.3 485.5,134.4 485.9,134.4 486.3,134.4 486.6,134.4 487.0,134.4 487.4,134.4 487.8,134.5 488.2,134.5 488.6,134.5 489.0,134.5 489.4,134.5 489.8,134.6 490.2,134.6 490.6,134.6 491.0,134.6 491.4,134.7 491.8,134.7 492.2,134.7 492.6,134.7 493.0,134.8 493.4,134.8 493.8,134.8 494.2,134.8 494.6,134.9 495.0,134.9 495.4,134.9 495.7,134.9 496.1,135.0 496.5,135.0 496.9,135.0 497.3,135.0 497.7,135.0 498.1,135.1 498.5,135.1 498.9,135.1 499.3,135.1 499.7,135.1 500.1,135.2 500.5,135.2 500.9,135.2 501.3,135.2 501.7,135.2 502.1,135.2 502.5,135.2 502.9,135.2 503.3,135.2 503.7,135.2 504.1,135.2 504.4,135.2 504.8,135.2 505.2,135.2 505.6,135.2 506.0,135.2 506.4,135.2 506.8,135.2 507.2,135.2 507.6,135.2 508.0,135.2 508.4,135.2 508.8,135.2 509.2,135.2 509.6,135.1 510.0,135.1 510.4,135.1 510.8,135.1 511.2,135.1 511.6,135.0 512.0,135.0 512.4,135.0 512.8,135.0 513.2,135.0 513.5,134.9 513.9,134.9 514.3,134.9 514.7,134.9 515.1,134.9 515.5,134.8 515.9,134.8 516.3,134.8 516.7,134.8 517.1,134.7 517.5,134.7 517.9,134.7 518.3,134.7 518.7,134.6 519.1,134.6 519.5,134.6 519.9,134.6 520.3,134.6 520.7,134.5 521.1,134.5 521.5,134.5 521.9,134.5 522.2,134.5 522.6,134.4 523.0,134.4 523.4,134.4 523.8,134.4 524.2,134.4 524.6,134.4 525.0,134.3 525.4,134.3 525.8,134.3 526.2,134.3 526.6,134.3 527.0,134.3 527.4,134.3 527.8,134.3 528.2,134.3 528.6,134.3 529.0,134.3 529.4,134.3 529.8,134.3 530.2,134.3 530.6,134.4 531.0,134.4 531.3,134.4 531.7,134.5 532.1,134.5 532.5,134.6 532.9,134.6 533.3,134.6 533.7,134.7 534.1,134.7 534.5,134.8 534.9,134.8 535.3,134.9 535.7,134.9 536.1,135.0 536.5,135.0 536.9,135.1 537.3,135.1 537.7,135.1 538.1,135.2 538.5,135.2 538.9,135.2 539.3,135.2 539.7,135.2 540.0,135.2" stroke="#2ca02c"/>
<polyline points="397.6,98.9 398.0,98.9 398.4,99.2 398.8,99.6 399.2,100.3 399.6,101.2 400.0,102.4 400.4,103.8 400.8,105.3 401.2,106.8 401.6,108.3 402.0,109.6 402.4,110.9 402.8,112.2 403.2,113.5 403.6,114.8 404.0,116.0 404.4,117.2 404.8,118.3 405.2,119.4 405.6,120.4 406.0,121.3 406.4,122.3 406.7,123.2 407.1,124.0 407.5,124.9 407.9,125.7 408.3,126.6 408.7,127.3 409.1,128.1 409.5,128.8 409.9,129.4 410.3,130.1 410.7,130.6 411.1,131.1 411.5,131.6 411.9,131.9 412.3,132.3 412.7,132.5 413.1,132.7 413.5,132.8 413.9,132.9 414.3,132.9 414.7,132.8 415.1,132.7 415.4,132.6 415.8,132.4 416.2,132.1 416.6,131.8 417.0,131.4 417.4,131.0 417.8,130.5 418.2,129.9 418.6,129.3 419.0,128.6 419.4,127.9 419.8,127.1 420.2,126.3 420.6,125.4 421.0,124.5 421.4,123.6 421.8,122.6 422.2,121.5 422.6,120.2 423.0,118.9 423.4,117.4 423.8,115.7 424.2,114.1 424.5,112.4 424.9,110.8 425.3,109.3 425.7,107.8 426.1,106.3 426.5,104.9 426.9,103.4 427.3,102.1 427.7,100.9 428.1,99.8 428.5,98.9 428.9,98.1 429.3,97.5 429.7,97.0 430.1,96.5 430.5,96.1 430.9,95.8 431.3,95.5 431.7,95.2 432.1,95.0 432.5,94.8 432.9,94.7 433.2,94.6 433.6,94.6 434.0,94.6 434.4,94.7 434.8,94.8 435.2,94.9 435.6,95.1 436.0,95.3 436.4,95.5 436.8,95.8 437.2,96.2 437.6,96.6 438.0,97.0 438.4,97.5 438.8,98.1 439.2,98.8 439.6,99.7 440.0,100.8 440.4,102.2 440.8,103.9 441.2,105.6 441.6,107.3 442.0,109.0 442.3,110.6 442.7,112.2 443.1,113.7 443.5,115.2 443.9,116.6 444.3,118.0 444.7,119.2 445.1,120.3 445.5,121.3 445.9,122.3 446.3,123.2 446.7,124.2 447.1,125.0 447.5,125.9 447.9,126.7 448.3,127.5 448.7,128.2 449.1,128.9 449.5,129.6 449.9,130.2 450.3,130.8 450.7,131.3 451.0,131.7 451.4,132.1 451.8,132.4 452.2,132.7 452.6,132.9 453.0,133.1 453.4,133.2 453.8,133.3 454.2,133.3 454.6,133.2 455.0,133.1 455.4,132.9 455.8,132.6 456.2,132.2 456.6,131.8 457.0,131.2 457.4,130.6 457.8,129.9 458.2,129.1 458.6,128.2 459.0,127.3 459.4,126.4 459.8,125.4 460.1,124.4 460.5,123.3 460.9,122.2 461.3,121.1 461.7,119.9 462.1,118.6 462.5,117.2 462.9,115.7 463.3,114.3 463.7,112.8 464.1,111.3 464.5,109.9 464.9,108.6 465.3,107.3 465.7,106.0 466.1,104.8 466.5,103.6 466.9,102.5 467.3,101.4 467.7,100.6 468.1,99.8 468.5,99.3 468.8,98.9 469.2,98.6 469.6,98.4 470.0,98.3 470.4,98.3 470.8,98.5 471.2,98.7 471.6,99.0 472.0,99.4 472.4,99.9 472.8,100.6 473.2,101.3 473.6,102.2 474.0,103.2 474.4,104.2 474.8,105.2 475.2,106.3 475.6,107.4 476.0,108.6 476.4,109.9 476.8,111.3 477.2,112.6 477.6,114.0 477.9,115.3 478.3,116.6 478.7,117.8 479.1,119.0 479.5,120.2 479.9,121.3 480.3,122.3 480.7,123.4 481.1,124.4 481.5,125.3 481.9,126.1 482.3,127.0 482.7,127.8 483.1,128.5 483.5,129.3 483.9,130.1 484.3,130.8 484.7,131.5 485.1,132.2 485.5,132.8 485.9,133.4 486.3,133.9 486.6,134.3 487.0,134.7 487.4,135.0 487.8,135.2 488.2,135.2 488.6,135.2 489.0,135.2 489.4,135.2 489.8,135.2 490.2,135.2 490.6,135.2 491.0,135.2 491.4,135.2 491.8,135.2 492.2,135.0 492.6,134.7 493.0,134.4 493.4,134.1 493.8,133.7 494.2,133.3 494.6,132.9 495.0,132.4 495.4,131.9 495.7,131.4 496.1,130.8 496.5,130.3 496.9,129.7 497.3,129.2 497.7,128.6 498.1,128.1 498.5,127.5 498.9,127.0 499.3,126.4 499.7,125.9 500.1,125.4 500.5,125.0 500.9,124.5 501.3,124.1 501.7,123.8 502.1,123.5 502.5,123.2 502.9,122.9 503.3,122.8 503.7,122.6 504.1,122.5 504.4,122.5 504.8,122.4 505.2,122.4 505.6,122.4 506.0,122.4 506.4,122.4 506.8,122.5 507.2,122.6 507.6,122.7 508.0,122.8 508.4,123.0 508.8,123.3 509.2,123.6 509.6,123.9 510.0,124.3 510.4,124.7 510.8,125.1 511.2,125.6 511.6,126.1 512.0,126.6 512.4,127.1 512.8,127.6 513.2,128.2 513.5,128.7 513.9,129.3 514.3,129.8 514.7,130.4 515.1,130.9 515.5,131.5 515.9,132.0 516.3,132.5 516.7,132.9 517.1,133.4 517.5,133.8 517.9,134.2 518.3,134.5 518.7,134.8 519.1,135.0 519.5,135.2 519.9,135.2 520.3,135.2 520.7,135.2 521.1,135.2 521.5,135.2 521.9,135.2 522.2,135.2 522.6,135.2 523.0,135.2 523.4,135.2 523.8,135.1 524.2,134.8 524.6,134.4 525.0,134.0 525.4,133.5 525.8,132.9 526.2,132.3 526.6,131.6 527.0,130.9 527.4,130.2 527.8,129.4 528.2,128.7 528.6,127.9 529.0,127.2 529.4,126.4 529.8,125.7 530.2,124.9 530.6,124.0 531.0,123.2 531.3,122.3 531.7,121.4 532.1,120.5 532.5,119.5 532.9,118.5 533.3,117.5 533.7,116.5 534.1,115.4 534.5,114.1 534.9,112.8 535.3,111.4 535.7,110.0 536.1,108.5 536.5,107.1 536.9,105.6 537.3,104.3 537.7,103.0 538.1,101.8 538.5,100.8 538.9,100.0 539.3,99.4 539.7,99.0 540.0,98.9" stroke="#d62728" stroke-width="0.68"/>
<polyline points="397.6,98.8 398.0,98.8 398.4,99.0 398.8,99.4 399.2,100.0 399.6,100.7 400.0,101.8 400.4,103.0 400.8,104.3 401.2,105.5 401.6,106.7 402.0,107.8 402.4,108.8 402.8,109.8 403.2,110.7 403.6,111.6 404.0,112.5 404.4,113.3 404.8,114.1 405.2,114.8 405.6,115.5 406.0,116.1 406.4,116.7 406.7,117.2 407.1,117.7 407.5,118.3 407.9,118.8 408.3,119.3 408.7,119.7 409.1,120.2 409.5,120.6 409.9,121.0 410.3,121.4 410.7,121.8 411.1,122.1 411.5,122.4 411.9,122.6 412.3,122.8 412.7,123.0 413.1,123.1 413.5,123.2 413.9,123.3 414.3,123.4 414.7,123.4 415.1,123.4 415.4,123.3 415.8,123.2 416.2,123.1 416.6,122.9 417.0,122.7 417.4,122.5 417.8,122.2 418.2,121.8 418.6,121.4 419.0,120.9 419.4,120.4 419.8,119.9 420.2,119.3 420.6,118.7 421.0,118.1 421.4,117.4 421.8,116.7 422.2,115.9 422.6,114.9 423.0,113.8 423.4,112.6 423.8,111.3 424.2,109.9 424.5,108.5 424.9,107.2 425.3,106.0 425.7,104.7 426.1,103.5 426.5,102.3 426.9,101.1 427.3,100.0 427.7,99.0 428.1,98.2 428.5,97.5 428.9,96.9 429.3,96.5 429.7,96.2 430.1,95.9 430.5,95.6 430.9,95.4 431.3,95.2 431.7,95.0 432.1,94.9 432.5,94.7 432.9,94.7 433.2,94.6 433.6,94.5 434.0,94.5 434.4,94.5 434.8,94.6 435.2,94.6 435.6,94.7 436.0,94.8 436.4,94.9 436.8,95.1 437.2,95.3 437.6,95.5 438.0,95.8 438.4,96.1 438.8,96.4 439.2,96.9 439.6,97.6 440.0,98.6 440.4,99.7 440.8,101.1 441.2,102.6 441.6,104.1 442.0,105.5 442.3,106.9 442.7,108.2 443.1,109.4 443.5,110.7 443.9,111.8 444.3,112.9 444.7,113.9 445.1,114.7 445.5,115.5 445.9,116.2 446.3,116.9 446.7,117.5 447.1,118.2 447.5,118.8 447.9,119.4 448.3,119.9 448.7,120.5 449.1,121.0 449.5,121.4 449.9,121.8 450.3,122.2 450.7,122.6 451.0,122.8 451.4,123.1 451.8,123.3 452.2,123.5 452.6,123.6 453.0,123.7 453.4,123.7 453.8,123.8 454.2,123.7 454.6,123.7 455.0,123.6 455.4,123.4 455.8,123.3 456.2,123.0 456.6,122.7 457.0,122.4 457.4,122.0 457.8,121.5 458.2,121.0 458.6,120.5 459.0,119.9 459.4,119.3 459.8,118.7 460.1,118.0 460.5,117.3 460.9,116.6 461.3,115.9 461.7,115.0 462.1,114.1 462.5,113.2 462.9,112.1 463.3,111.0 463.7,109.9 464.1,108.8 464.5,107.7 464.9,106.7 465.3,105.7 465.7,104.8 466.1,103.8 466.5,102.8 466.9,101.9 467.3,101.0 467.7,100.3 468.1,99.7 468.5,99.2 468.8,98.8 469.2,98.6 469.6,98.4 470.0,98.3 470.4,98.3 470.8,98.4 471.2,98.6 471.6,98.9 472.0,99.3 472.4,99.7 472.8,100.4 473.2,101.1 473.6,101.9 474.0,102.8 474.4,103.8 474.8,104.8 475.2,105.8 475.6,106.9 476.0,108.1 476.4,109.3 476.8,110.6 477.2,112.0 477.6,113.3 477.9,114.6 478.3,115.8 478.7,117.0 479.1,118.2 479.5,119.3 479.9,120.4 480.3,121.4 480.7,122.4 481.1,123.4 481.5,124.3 481.9,125.2 482.3,126.0 482.7,126.8 483.1,127.6 483.5,128.4 483.9,129.1 484.3,129.9 484.7,130.6 485.1,131.3 485.5,131.9 485.9,132.5 486.3,133.0 486.6,133.5 487.0,133.9 487.4,134.2 487.8,134.4 488.2,134.6 488.6,134.8 489.0,134.9 489.4,134.9 489.8,134.9 490.2,134.9 490.6,134.9 491.0,134.8 491.4,134.7 491.8,134.6 492.2,134.4 492.6,134.2 493.0,133.9 493.4,133.6 493.8,133.3 494.2,132.9 494.6,132.5 495.0,132.0 495.4,131.6 495.7,131.1 496.1,130.6 496.5,130.0 496.9,129.5 497.3,129.0 497.7,128.4 498.1,127.9 498.5,127.4 498.9,126.8 499.3,126.3 499.7,125.8 500.1,125.4 500.5,124.9 500.9,124.5 501.3,124.1 501.7,123.7 502.1,123.4 502.5,123.1 502.9,122.9 503.3,122.7 503.7,122.6 504.1,122.5 504.4,122.5 504.8,122.4 505.2,122.4 505.6,122.4 506.0,122.4 506.4,122.4 506.8,122.5 507.2,122.5 507.6,122.6 508.0,122.8 508.4,122.9 508.8,123.2 509.2,123.5 509.6,123.8 510.0,124.1 510.4,124.5 510.8,124.9 511.2,125.4 511.6,125.9 512.0,126.3 512.4,126.8 512.8,127.4 513.2,127.9 513.5,128.4 513.9,129.0 514.3,129.5 514.7,130.0 515.1,130.5 515.5,131.0 515.9,131.5 516.3,132.0 516.7,132.4 517.1,132.8 517.5,133.2 517.9,133.6 518.3,133.9 518.7,134.2 519.1,134.4 519.5,134.6 519.9,134.7 520.3,134.8 520.7,134.9 521.1,134.9 521.5,134.9 521.9,134.9 522.2,134.9 522.6,134.8 523.0,134.7 523.4,134.5 523.8,134.2 524.2,133.9 524.6,133.5 525.0,133.1 525.4,132.6 525.8,132.0 526.2,131.3 526.6,130.7 527.0,130.0 527.4,129.2 527.8,128.5 528.2,127.7 528.6,127.0 529.0,126.2 529.4,125.5 529.8,124.7 530.2,124.0 530.6,123.2 531.0,122.3 531.3,121.5 531.7,120.6 532.1,119.7 532.5,118.8 532.9,117.9 533.3,116.9 533.7,115.9 534.1,114.9 534.5,113.7 534.9,112.4 535.3,111.1 535.7,109.7 536.1,108.3 536.5,106.8 536.9,105.5 537.3,104.1 537.7,102.9 538.1,101.8 538.5,100.8 538.9,100.0 539.3,99.4 539.7,99.0 540.0,98.8" stroke="#9467bd"/>
</g>
<rect x="397.65" y="29.50" width="142.40" height="105.75" fill="none" stroke="#8c8c8c" stroke-width="1.0"/>
<path d="M397.65 135.25v2M409.52 135.25v2M421.38 135.25v2M433.25 135.25v2M445.12 135.25v2M456.98 135.25v2M468.85 135.25v2M480.72 135.25v2M492.58 135.25v2M504.45 135.25v2M516.32 135.25v2M528.18 135.25v2M540.05 135.25v2M397.65 135.25h-2M397.65 116.02h-2M397.65 96.80h-2M397.65 77.57h-2M397.65 58.34h-2M397.65 39.11h-2" stroke="#777" stroke-width="0.6" fill="none"/>
<text x="394.55" y="138.10" font-size="8.16" text-anchor="end" fill="#222222" stroke="#222222" stroke-width="0.1" textLength="10.49" lengthAdjust="spacingAndGlyphs">0.0</text>
<text x="394.55" y="118.87" font-size="8.16" text-anchor="end" fill="#222222" stroke="#222222" stroke-width="0.1" textLength="10.49" lengthAdjust="spacingAndGlyphs">0.2</text>
<text x="394.55" y="99.65" font-size="8.16" text-anchor="end" fill="#222222" stroke="#222222" stroke-width="0.1" textLength="10.49" lengthAdjust="spacingAndGlyphs">0.4</text>
<text x="394.55" y="80.42" font-size="8.16" text-anchor="end" fill="#222222" stroke="#222222" stroke-width="0.1" textLength="10.49" lengthAdjust="spacingAndGlyphs">0.6</text>
<text x="394.55" y="61.19" font-size="8.16" text-anchor="end" fill="#222222" stroke="#222222" stroke-width="0.1" textLength="10.49" lengthAdjust="spacingAndGlyphs">0.8</text>
<text x="394.55" y="41.96" font-size="8.16" text-anchor="end" fill="#222222" stroke="#222222" stroke-width="0.1" textLength="10.49" lengthAdjust="spacingAndGlyphs">1.0</text>
<g transform="translate(397.15,141.74) rotate(-30)"><text x="0.00" y="2.59" font-size="8.16" text-anchor="middle" fill="#222222" stroke="#222222" stroke-width="0.1" textLength="4.52" lengthAdjust="spacingAndGlyphs">0</text></g>
<g transform="translate(409.02,142.87) rotate(-30)"><text x="0.00" y="2.59" font-size="8.16" text-anchor="middle" fill="#222222" stroke="#222222" stroke-width="0.1" textLength="9.03" lengthAdjust="spacingAndGlyphs">30</text></g>
<g transform="translate(420.88,142.87) rotate(-30)"><text x="0.00" y="2.59" font-size="8.16" text-anchor="middle" fill="#222222" stroke="#222222" stroke-width="0.1" textLength="9.03" lengthAdjust="spacingAndGlyphs">60</text></g>
<g transform="translate(432.75,142.87) rotate(-30)"><text x="0.00" y="2.59" font-size="8.16" text-anchor="middle" fill="#222222" stroke="#222222" stroke-width="0.1" textLength="9.03" lengthAdjust="spacingAndGlyphs">90</text></g>
<g transform="translate(444.62,144.00) rotate(-30)"><text x="0.00" y="2.59" font-size="8.16" text-anchor="middle" fill="#222222" stroke="#222222" stroke-width="0.1" textLength="13.55" lengthAdjust="spacingAndGlyphs">120</text></g>
<g transform="translate(456.48,144.00) rotate(-30)"><text x="0.00" y="2.59" font-size="8.16" text-anchor="middle" fill="#222222" stroke="#222222" stroke-width="0.1" textLength="13.55" lengthAdjust="spacingAndGlyphs">150</text></g>
<g transform="translate(468.35,144.00) rotate(-30)"><text x="0.00" y="2.59" font-size="8.16" text-anchor="middle" fill="#222222" stroke="#222222" stroke-width="0.1" textLength="13.55" lengthAdjust="spacingAndGlyphs">180</text></g>
<g transform="translate(480.22,144.00) rotate(-30)"><text x="0.00" y="2.59" font-size="8.16" text-anchor="middle" fill="#222222" stroke="#222222" stroke-width="0.1" textLength="13.55" lengthAdjust="spacingAndGlyphs">210</text></g>
<g transform="translate(492.08,144.00) rotate(-30)"><text x="0.00" y="2.59" font-size="8.16" text-anchor="middle" fill="#222222" stroke="#222222" stroke-width="0.1" textLength="13.55" lengthAdjust="spacingAndGlyphs">240</text></g>
<g transform="translate(503.95,144.00) rotate(-30)"><text x="0.00" y="2.59" font-size="8.16" text-anchor="middle" fill="#222222" stroke="#222222" stroke-width="0.1" textLength="13.55" lengthAdjust="spacingAndGlyphs">270</text></g>
<g transform="translate(515.82,144.00) rotate(-30)"><text x="0.00" y="2.59" font-size="8.16" text-anchor="middle" fill="#222222" stroke="#222222" stroke-width="0.1" textLength="13.55" lengthAdjust="spacingAndGlyphs">300</text></g>
<g transform="translate(527.68,144.00) rotate(-30)"><text x="0.00" y="2.59" font-size="8.16" text-anchor="middle" fill="#222222" stroke="#222222" stroke-width="0.1" textLength="13.55" lengthAdjust="spacingAndGlyphs">330</text></g>
<g transform="translate(539.55,144.00) rotate(-30)"><text x="0.00" y="2.59" font-size="8.16" text-anchor="middle" fill="#222222" stroke="#222222" stroke-width="0.1" textLength="13.55" lengthAdjust="spacingAndGlyphs">360</text></g>
<text x="468.85" y="158.10" font-size="8.16" text-anchor="middle" fill="#222222" stroke="#222222" stroke-width="0.1" textLength="95.60" lengthAdjust="spacingAndGlyphs">Relative Azimuth Angle [°]</text>
<g transform="translate(379.25,135.53) rotate(-90)"><text x="0.00" y="-0.00" font-size="8.33" fill="#222222" stroke="#222222" stroke-width="0.10" textLength="2.83" lengthAdjust="spacingAndGlyphs">(</text><text x="2.84" y="-0.00" font-size="8.33" fill="#222222" stroke="#222222" stroke-width="0.10" textLength="4.62" lengthAdjust="spacingAndGlyphs">1</text><text x="7.47" y="-0.00" font-size="8.33" fill="#222222" stroke="#222222" stroke-width="0.10" textLength="2.45" lengthAdjust="spacingAndGlyphs">/</text><text x="9.93" y="-0.00" font-size="8.33" fill="#222222" stroke="#222222" stroke-width="0.10" textLength="2.83" lengthAdjust="spacingAndGlyphs">(</text><text x="12.77" y="-0.00" font-size="8.33" font-style="italic" fill="#222222" stroke="#222222" stroke-width="0.10" textLength="4.76" lengthAdjust="spacingAndGlyphs">K</text><text x="17.55" y="1.15" font-size="5.83" font-style="italic" fill="#222222" stroke="#222222" stroke-width="0.07" textLength="3.22" lengthAdjust="spacingAndGlyphs">p</text><text x="22.40" y="-0.00" font-size="8.33" fill="#222222" stroke="#222222" stroke-width="0.10" textLength="3.63" lengthAdjust="spacingAndGlyphs">*</text><text x="27.46" y="-0.31" font-size="8.33" font-style="italic" fill="#222222" stroke="#222222" stroke-width="0.10" textLength="4.60" lengthAdjust="spacingAndGlyphs">σ</text><text x="32.39" y="-2.99" font-size="5.83" fill="#222222" stroke="#222222" stroke-width="0.07" textLength="3.23" lengthAdjust="spacingAndGlyphs">0</text><text x="35.83" y="-0.00" font-size="8.33" fill="#222222" stroke="#222222" stroke-width="0.10" textLength="2.83" lengthAdjust="spacingAndGlyphs">)</text><text x="40.09" y="-0.00" font-size="8.33" fill="#222222" stroke="#222222" stroke-width="0.10" textLength="3.63" lengthAdjust="spacingAndGlyphs">*</text><text x="45.15" y="-0.00" font-size="8.33" fill="#222222" stroke="#222222" stroke-width="0.10" textLength="3.75" lengthAdjust="spacingAndGlyphs">∂</text><text x="48.92" y="-0.00" font-size="8.33" font-style="italic" fill="#222222" stroke="#222222" stroke-width="0.10" textLength="4.60" lengthAdjust="spacingAndGlyphs">σ</text><text x="53.85" y="-2.68" font-size="5.83" fill="#222222" stroke="#222222" stroke-width="0.07" textLength="3.23" lengthAdjust="spacingAndGlyphs">0</text><text x="57.29" y="-0.00" font-size="8.33" fill="#222222" stroke="#222222" stroke-width="0.10" textLength="2.45" lengthAdjust="spacingAndGlyphs">/</text><text x="59.74" y="-0.00" font-size="8.33" fill="#222222" stroke="#222222" stroke-width="0.10" textLength="3.75" lengthAdjust="spacingAndGlyphs">∂</text><text x="63.51" y="-0.00" font-size="8.33" font-style="italic" fill="#222222" stroke="#222222" stroke-width="0.10" textLength="4.79" lengthAdjust="spacingAndGlyphs">ϕ</text><text x="68.31" y="1.15" font-size="5.83" font-style="italic" fill="#222222" stroke="#222222" stroke-width="0.07" textLength="3.22" lengthAdjust="spacingAndGlyphs">u</text><text x="71.74" y="-0.00" font-size="8.33" fill="#222222" stroke="#222222" stroke-width="0.10" textLength="2.83" lengthAdjust="spacingAndGlyphs">)</text><text x="74.65" y="-2.68" font-size="5.83" fill="#222222" stroke="#222222" stroke-width="0.07" textLength="3.23" lengthAdjust="spacingAndGlyphs">2</text><text x="78.09" y="-0.00" font-size="8.33" fill="#222222" stroke="#222222" stroke-width="0.10" textLength="2.83" lengthAdjust="spacingAndGlyphs">[</text><text x="80.93" y="-0.00" font-size="8.33" font-style="italic" fill="#222222" stroke="#222222" stroke-width="0.10" textLength="4.61" lengthAdjust="spacingAndGlyphs">d</text><text x="85.55" y="-0.00" font-size="8.33" font-style="italic" fill="#222222" stroke="#222222" stroke-width="0.10" textLength="4.46" lengthAdjust="spacingAndGlyphs">e</text><text x="90.03" y="-0.00" font-size="8.33" font-style="italic" fill="#222222" stroke="#222222" stroke-width="0.10" textLength="4.61" lengthAdjust="spacingAndGlyphs">g</text><text x="94.99" y="-2.68" font-size="5.83" fill="#222222" stroke="#222222" stroke-width="0.07" textLength="4.26" lengthAdjust="spacingAndGlyphs">−</text><text x="99.26" y="-2.68" font-size="5.83" fill="#222222" stroke="#222222" stroke-width="0.07" textLength="3.23" lengthAdjust="spacingAndGlyphs">2</text><text x="102.70" y="-0.00" font-size="8.33" fill="#222222" stroke="#222222" stroke-width="0.10" textLength="2.83" lengthAdjust="spacingAndGlyphs">]</text><rect x="27.46" y="-7.64" width="8.37" height="0.50" fill="#222222"/></g>
<text x="468.85" y="26.70" font-size="9.80" text-anchor="middle" fill="#222222" stroke="#222222" stroke-width="0.1" textLength="92.77" lengthAdjust="spacingAndGlyphs">Cell: far; WSpd:&#160; 5m/s</text>
<path d="M43.22 182.00V287.75M55.08 182.00V287.75M66.95 182.00V287.75M78.82 182.00V287.75M90.68 182.00V287.75M102.55 182.00V287.75M114.42 182.00V287.75M126.28 182.00V287.75M138.15 182.00V287.75M150.02 182.00V287.75M161.88 182.00V287.75M31.35 268.52H173.75M31.35 249.30H173.75M31.35 230.07H173.75M31.35 210.84H173.75M31.35 191.61H173.75" stroke="#dddddd" stroke-width="1.0" fill="none"/>
<clipPath id="c4"><rect x="31.35" y="182.00" width="142.40" height="105.75"/></clipPath>
<g clip-path="url(#c4)" fill="none" stroke-width="0.85" stroke-linejoin="round" stroke-linecap="round" stroke-opacity="1">
<polyline points="31.4,255.0 31.7,255.8 32.1,256.5 32.5,257.3 32.9,258.2 33.3,259.2 33.7,260.2 34.1,261.2 34.5,262.3 34.9,263.4 35.3,264.5 35.7,265.7 36.1,266.8 36.5,267.9 36.9,269.0 37.3,270.1 37.7,271.2 38.1,272.4 38.5,273.5 38.9,274.7 39.3,275.7 39.7,276.7 40.1,277.6 40.4,278.4 40.8,279.1 41.2,279.9 41.6,280.6 42.0,281.3 42.4,282.0 42.8,282.7 43.2,283.3 43.6,284.0 44.0,284.5 44.4,285.1 44.8,285.6 45.2,286.1 45.6,286.5 46.0,286.9 46.4,287.2 46.8,287.4 47.2,287.6 47.6,287.6 48.0,287.6 48.4,287.5 48.8,287.3 49.2,287.0 49.5,286.6 49.9,286.1 50.3,285.6 50.7,285.0 51.1,284.3 51.5,283.6 51.9,282.9 52.3,282.1 52.7,281.4 53.1,280.6 53.5,279.8 53.9,279.1 54.3,278.4 54.7,277.6 55.1,276.9 55.5,276.1 55.9,275.3 56.3,274.4 56.7,273.6 57.1,272.7 57.5,271.8 57.9,270.9 58.2,269.9 58.6,269.0 59.0,268.0 59.4,266.9 59.8,265.8 60.2,264.7 60.6,263.5 61.0,262.4 61.4,261.3 61.8,260.3 62.2,259.4 62.6,258.6 63.0,257.7 63.4,257.0 63.8,256.2 64.2,255.4 64.6,254.7 65.0,254.1 65.4,253.5 65.8,253.0 66.2,252.6 66.6,252.3 67.0,252.2 67.3,252.2 67.7,252.3 68.1,252.6 68.5,253.0 68.9,253.5 69.3,254.1 69.7,254.8 70.1,255.5 70.5,256.3 70.9,257.2 71.3,258.1 71.7,259.1 72.1,260.3 72.5,261.6 72.9,263.2 73.3,264.8 73.7,266.4 74.1,268.0 74.5,269.5 74.9,270.9 75.3,272.4 75.7,273.7 76.0,275.1 76.4,276.4 76.8,277.6 77.2,278.9 77.6,280.2 78.0,281.5 78.4,282.7 78.8,284.0 79.2,285.1 79.6,286.0 80.0,286.8 80.4,287.3 80.8,287.5 81.2,287.6 81.6,287.6 82.0,287.5 82.4,287.4 82.8,287.2 83.2,287.0 83.6,286.8 84.0,286.5 84.4,286.3 84.8,285.9 85.1,285.6 85.5,285.3 85.9,284.9 86.3,284.5 86.7,284.1 87.1,283.7 87.5,283.3 87.9,282.9 88.3,282.4 88.7,282.0 89.1,281.5 89.5,281.1 89.9,280.7 90.3,280.2 90.7,279.8 91.1,279.4 91.5,278.9 91.9,278.5 92.3,278.1 92.7,277.7 93.1,277.2 93.5,276.7 93.8,276.2 94.2,275.6 94.6,275.0 95.0,274.4 95.4,273.9 95.8,273.3 96.2,272.8 96.6,272.3 97.0,271.9 97.4,271.5 97.8,271.2 98.2,271.0 98.6,270.9 99.0,270.8 99.4,270.9 99.8,271.0 100.2,271.2 100.6,271.5 101.0,271.8 101.4,272.2 101.8,272.6 102.2,273.0 102.6,273.5 102.9,274.0 103.3,274.6 103.7,275.1 104.1,275.7 104.5,276.2 104.9,276.7 105.3,277.3 105.7,277.8 106.1,278.3 106.5,278.9 106.9,279.5 107.3,280.1 107.7,280.8 108.1,281.5 108.5,282.2 108.9,283.0 109.3,283.7 109.7,284.4 110.1,285.0 110.5,285.7 110.9,286.2 111.3,286.7 111.6,287.1 112.0,287.4 112.4,287.6 112.8,287.7 113.2,287.7 113.6,287.7 114.0,287.7 114.4,287.6 114.8,287.6 115.2,287.5 115.6,287.4 116.0,287.4 116.4,287.3 116.8,287.2 117.2,287.0 117.6,286.9 118.0,286.8 118.4,286.6 118.8,286.5 119.2,286.3 119.6,286.1 120.0,286.0 120.3,285.8 120.7,285.6 121.1,285.4 121.5,285.2 121.9,285.0 122.3,284.7 122.7,284.5 123.1,284.3 123.5,284.0 123.9,283.8 124.3,283.5 124.7,283.3 125.1,283.0 125.5,282.8 125.9,282.5 126.3,282.2 126.7,282.0 127.1,281.7 127.5,281.4 127.9,281.1 128.3,280.8 128.7,280.5 129.1,280.2 129.4,280.0 129.8,279.7 130.2,279.4 130.6,279.1 131.0,278.8 131.4,278.5 131.8,278.2 132.2,277.8 132.6,277.4 133.0,276.9 133.4,276.4 133.8,275.9 134.2,275.3 134.6,274.7 135.0,274.1 135.4,273.5 135.8,273.0 136.2,272.4 136.6,272.0 137.0,271.6 137.4,271.2 137.8,271.0 138.2,270.8 138.5,270.7 138.9,270.8 139.3,270.9 139.7,271.0 140.1,271.3 140.5,271.6 140.9,271.9 141.3,272.3 141.7,272.7 142.1,273.1 142.5,273.6 142.9,274.1 143.3,274.6 143.7,275.1 144.1,275.6 144.5,276.2 144.9,276.7 145.3,277.2 145.7,277.7 146.1,278.2 146.5,278.8 146.9,279.4 147.2,280.0 147.6,280.7 148.0,281.5 148.4,282.2 148.8,283.0 149.2,283.7 149.6,284.4 150.0,285.1 150.4,285.7 150.8,286.3 151.2,286.8 151.6,287.2 152.0,287.4 152.4,287.6 152.8,287.6 153.2,287.5 153.6,287.2 154.0,286.8 154.4,286.4 154.8,285.8 155.2,285.1 155.6,284.4 156.0,283.7 156.3,282.9 156.7,282.1 157.1,281.2 157.5,280.4 157.9,279.7 158.3,278.9 158.7,278.2 159.1,277.5 159.5,276.8 159.9,276.1 160.3,275.5 160.7,274.8 161.1,274.1 161.5,273.4 161.9,272.6 162.3,271.9 162.7,271.1 163.1,270.2 163.5,269.3 163.9,268.3 164.3,267.1 164.7,265.9 165.0,264.5 165.4,263.1 165.8,261.8 166.2,260.6 166.6,259.5 167.0,258.5 167.4,257.6 167.8,256.7 168.2,255.9 168.6,255.2 169.0,254.5 169.4,253.8 169.8,253.2 170.2,252.8 170.6,252.4 171.0,252.2 171.4,252.2 171.8,252.3 172.2,252.6 172.6,253.1 173.0,253.7 173.4,254.3 173.8,255.0" stroke="#1f77b4"/>
<polyline points="31.4,275.1 31.7,274.5 32.1,274.0 32.5,273.5 32.9,273.0 33.3,272.6 33.7,272.1 34.1,271.8 34.5,271.4 34.9,271.1 35.3,270.8 35.7,270.6 36.1,270.5 36.5,270.4 36.9,270.4 37.3,270.5 37.7,270.7 38.1,270.9 38.5,271.1 38.9,271.4 39.3,271.8 39.7,272.2 40.1,272.6 40.4,273.1 40.8,273.6 41.2,274.1 41.6,274.6 42.0,275.2 42.4,275.7 42.8,276.2 43.2,276.8 43.6,277.3 44.0,277.8 44.4,278.3 44.8,278.8 45.2,279.3 45.6,279.9 46.0,280.5 46.4,281.2 46.8,281.8 47.2,282.5 47.6,283.2 48.0,283.8 48.4,284.5 48.8,285.1 49.2,285.6 49.5,286.1 49.9,286.6 50.3,287.0 50.7,287.3 51.1,287.5 51.5,287.6 51.9,287.7 52.3,287.6 52.7,287.5 53.1,287.3 53.5,287.0 53.9,286.7 54.3,286.4 54.7,285.9 55.1,285.5 55.5,284.9 55.9,284.4 56.3,283.8 56.7,283.1 57.1,282.4 57.5,281.7 57.9,281.0 58.2,280.2 58.6,279.3 59.0,278.4 59.4,277.3 59.8,276.1 60.2,274.6 60.6,272.9 61.0,271.2 61.4,269.4 61.8,267.7 62.2,265.9 62.6,264.2 63.0,262.6 63.4,261.0 63.8,259.7 64.2,258.5 64.6,257.5 65.0,256.5 65.4,255.6 65.8,254.8 66.2,254.1 66.6,253.4 67.0,252.9 67.3,252.6 67.7,252.4 68.1,252.3 68.5,252.4 68.9,252.7 69.3,253.0 69.7,253.4 70.1,253.9 70.5,254.4 70.9,255.0 71.3,255.7 71.7,256.4 72.1,257.2 72.5,257.9 72.9,258.8 73.3,259.7 73.7,260.8 74.1,262.0 74.5,263.4 74.9,264.8 75.3,266.2 75.7,267.7 76.0,269.0 76.4,270.4 76.8,271.8 77.2,273.1 77.6,274.4 78.0,275.7 78.4,276.9 78.8,278.1 79.2,279.3 79.6,280.4 80.0,281.6 80.4,282.7 80.8,283.8 81.2,284.8 81.6,285.7 82.0,286.4 82.4,287.0 82.8,287.4 83.2,287.6 83.6,287.7 84.0,287.7 84.4,287.6 84.8,287.6 85.1,287.5 85.5,287.4 85.9,287.3 86.3,287.1 86.7,287.0 87.1,286.8 87.5,286.6 87.9,286.4 88.3,286.2 88.7,285.9 89.1,285.7 89.5,285.4 89.9,285.1 90.3,284.8 90.7,284.5 91.1,284.1 91.5,283.8 91.9,283.4 92.3,283.0 92.7,282.6 93.1,282.1 93.5,281.7 93.8,281.2 94.2,280.7 94.6,280.3 95.0,279.7 95.4,279.2 95.8,278.6 96.2,277.9 96.6,277.0 97.0,275.8 97.4,274.4 97.8,272.9 98.2,271.3 98.6,269.8 99.0,268.3 99.4,266.9 99.8,265.5 100.2,264.2 100.6,262.9 101.0,261.6 101.4,260.5 101.8,259.6 102.2,258.7 102.6,257.9 102.9,257.1 103.3,256.4 103.7,255.7 104.1,255.0 104.5,254.4 104.9,253.9 105.3,253.4 105.7,253.0 106.1,252.7 106.5,252.4 106.9,252.3 107.3,252.4 107.7,252.6 108.1,252.9 108.5,253.4 108.9,254.0 109.3,254.7 109.7,255.4 110.1,256.2 110.5,257.1 110.9,258.0 111.3,258.9 111.6,259.9 112.0,260.9 112.4,262.1 112.8,263.3 113.2,264.6 113.6,265.9 114.0,267.2 114.4,268.5 114.8,269.8 115.2,271.1 115.6,272.3 116.0,273.6 116.4,274.8 116.8,276.0 117.2,277.1 117.6,278.1 118.0,279.0 118.4,280.0 118.8,280.9 119.2,281.8 119.6,282.8 120.0,283.6 120.3,284.4 120.7,285.2 121.1,285.9 121.5,286.5 121.9,286.9 122.3,287.3 122.7,287.5 123.1,287.6 123.5,287.6 123.9,287.5 124.3,287.4 124.7,287.1 125.1,286.8 125.5,286.5 125.9,286.1 126.3,285.7 126.7,285.2 127.1,284.7 127.5,284.2 127.9,283.7 128.3,283.1 128.7,282.5 129.1,282.0 129.4,281.4 129.8,280.8 130.2,280.3 130.6,279.7 131.0,279.2 131.4,278.7 131.8,278.2 132.2,277.7 132.6,277.2 133.0,276.7 133.4,276.1 133.8,275.5 134.2,275.0 134.6,274.4 135.0,273.8 135.4,273.2 135.8,272.7 136.2,272.2 136.6,271.8 137.0,271.4 137.4,271.1 137.8,270.9 138.2,270.8 138.5,270.7 138.9,270.8 139.3,270.9 139.7,271.1 140.1,271.3 140.5,271.7 140.9,272.0 141.3,272.4 141.7,272.9 142.1,273.3 142.5,273.8 142.9,274.3 143.3,274.9 143.7,275.4 144.1,275.9 144.5,276.4 144.9,276.9 145.3,277.3 145.7,277.8 146.1,278.2 146.5,278.6 146.9,279.0 147.2,279.4 147.6,279.8 148.0,280.2 148.4,280.7 148.8,281.1 149.2,281.6 149.6,282.0 150.0,282.5 150.4,282.9 150.8,283.4 151.2,283.8 151.6,284.2 152.0,284.7 152.4,285.0 152.8,285.4 153.2,285.8 153.6,286.1 154.0,286.4 154.4,286.7 154.8,287.0 155.2,287.2 155.6,287.4 156.0,287.5 156.3,287.6 156.7,287.7 157.1,287.7 157.5,287.7 157.9,287.7 158.3,287.7 158.7,287.6 159.1,287.5 159.5,287.4 159.9,287.3 160.3,287.2 160.7,287.1 161.1,286.9 161.5,286.8 161.9,286.6 162.3,286.4 162.7,286.2 163.1,286.0 163.5,285.7 163.9,285.5 164.3,285.2 164.7,285.0 165.0,284.7 165.4,284.4 165.8,284.1 166.2,283.8 166.6,283.5 167.0,283.1 167.4,282.8 167.8,282.4 168.2,282.1 168.6,281.7 169.0,281.3 169.4,281.0 169.8,280.6 170.2,280.2 170.6,279.7 171.0,279.3 171.4,278.9 171.8,278.4 172.2,277.9 172.6,277.2 173.0,276.5 173.4,275.8 173.8,275.1" stroke="#ff7f0e"/>
<polyline points="31.4,287.6 31.7,287.5 32.1,287.5 32.5,287.5 32.9,287.5 33.3,287.5 33.7,287.5 34.1,287.5 34.5,287.4 34.9,287.4 35.3,287.4 35.7,287.4 36.1,287.3 36.5,287.3 36.9,287.3 37.3,287.2 37.7,287.2 38.1,287.1 38.5,287.1 38.9,287.1 39.3,287.0 39.7,287.0 40.1,286.9 40.4,286.9 40.8,286.8 41.2,286.8 41.6,286.7 42.0,286.7 42.4,286.6 42.8,286.5 43.2,286.4 43.6,286.3 44.0,286.2 44.4,286.2 44.8,286.1 45.2,286.0 45.6,285.9 46.0,285.8 46.4,285.7 46.8,285.6 47.2,285.5 47.6,285.4 48.0,285.3 48.4,285.3 48.8,285.2 49.2,285.1 49.5,285.1 49.9,285.1 50.3,285.1 50.7,285.1 51.1,285.1 51.5,285.2 51.9,285.3 52.3,285.3 52.7,285.4 53.1,285.5 53.5,285.7 53.9,285.8 54.3,285.9 54.7,286.1 55.1,286.2 55.5,286.3 55.9,286.5 56.3,286.6 56.7,286.7 57.1,286.8 57.5,286.9 57.9,287.0 58.2,287.1 58.6,287.2 59.0,287.3 59.4,287.3 59.8,287.3 60.2,287.4 60.6,287.4 61.0,287.5 61.4,287.5 61.8,287.5 62.2,287.5 62.6,287.6 63.0,287.6 63.4,287.6 63.8,287.7 64.2,287.7 64.6,287.7 65.0,287.7 65.4,287.7 65.8,287.7 66.2,287.7 66.6,287.7 67.0,287.7 67.3,287.7 67.7,287.7 68.1,287.7 68.5,287.7 68.9,287.7 69.3,287.7 69.7,287.7 70.1,287.6 70.5,287.6 70.9,287.6 71.3,287.6 71.7,287.5 72.1,287.5 72.5,287.5 72.9,287.4 73.3,287.4 73.7,287.4 74.1,287.3 74.5,287.3 74.9,287.3 75.3,287.2 75.7,287.1 76.0,287.1 76.4,287.0 76.8,286.9 77.2,286.8 77.6,286.7 78.0,286.6 78.4,286.5 78.8,286.4 79.2,286.2 79.6,286.1 80.0,286.0 80.4,285.9 80.8,285.8 81.2,285.6 81.6,285.5 82.0,285.4 82.4,285.4 82.8,285.3 83.2,285.2 83.6,285.2 84.0,285.1 84.4,285.1 84.8,285.1 85.1,285.1 85.5,285.1 85.9,285.2 86.3,285.2 86.7,285.3 87.1,285.4 87.5,285.5 87.9,285.6 88.3,285.7 88.7,285.8 89.1,285.9 89.5,286.0 89.9,286.1 90.3,286.3 90.7,286.4 91.1,286.5 91.5,286.6 91.9,286.7 92.3,286.8 92.7,286.9 93.1,287.0 93.5,287.1 93.8,287.2 94.2,287.2 94.6,287.3 95.0,287.3 95.4,287.3 95.8,287.4 96.2,287.4 96.6,287.4 97.0,287.4 97.4,287.5 97.8,287.5 98.2,287.5 98.6,287.5 99.0,287.6 99.4,287.6 99.8,287.6 100.2,287.6 100.6,287.6 101.0,287.6 101.4,287.6 101.8,287.6 102.2,287.6 102.6,287.6 102.9,287.6 103.3,287.6 103.7,287.6 104.1,287.6 104.5,287.6 104.9,287.6 105.3,287.5 105.7,287.5 106.1,287.5 106.5,287.4 106.9,287.4 107.3,287.4 107.7,287.3 108.1,287.3 108.5,287.2 108.9,287.2 109.3,287.1 109.7,287.1 110.1,287.0 110.5,287.0 110.9,286.9 111.3,286.8 111.6,286.7 112.0,286.7 112.4,286.5 112.8,286.4 113.2,286.3 113.6,286.2 114.0,286.1 114.4,286.0 114.8,285.8 115.2,285.7 115.6,285.6 116.0,285.5 116.4,285.4 116.8,285.3 117.2,285.2 117.6,285.2 118.0,285.1 118.4,285.1 118.8,285.1 119.2,285.1 119.6,285.1 120.0,285.2 120.3,285.2 120.7,285.3 121.1,285.4 121.5,285.5 121.9,285.6 122.3,285.7 122.7,285.8 123.1,285.9 123.5,286.0 123.9,286.1 124.3,286.2 124.7,286.4 125.1,286.5 125.5,286.6 125.9,286.7 126.3,286.8 126.7,286.9 127.1,287.0 127.5,287.0 127.9,287.1 128.3,287.2 128.7,287.2 129.1,287.2 129.4,287.3 129.8,287.3 130.2,287.3 130.6,287.4 131.0,287.4 131.4,287.4 131.8,287.5 132.2,287.5 132.6,287.5 133.0,287.6 133.4,287.6 133.8,287.6 134.2,287.6 134.6,287.7 135.0,287.7 135.4,287.7 135.8,287.7 136.2,287.7 136.6,287.7 137.0,287.7 137.4,287.7 137.8,287.7 138.2,287.7 138.5,287.7 138.9,287.7 139.3,287.7 139.7,287.7 140.1,287.7 140.5,287.7 140.9,287.7 141.3,287.7 141.7,287.6 142.1,287.6 142.5,287.6 142.9,287.6 143.3,287.5 143.7,287.5 144.1,287.5 144.5,287.4 144.9,287.4 145.3,287.4 145.7,287.3 146.1,287.3 146.5,287.2 146.9,287.2 147.2,287.2 147.6,287.1 148.0,287.1 148.4,287.0 148.8,286.9 149.2,286.9 149.6,286.8 150.0,286.7 150.4,286.6 150.8,286.4 151.2,286.3 151.6,286.2 152.0,286.0 152.4,285.9 152.8,285.8 153.2,285.7 153.6,285.5 154.0,285.4 154.4,285.3 154.8,285.2 155.2,285.1 155.6,285.0 156.0,285.0 156.3,284.9 156.7,284.9 157.1,284.9 157.5,284.9 157.9,284.9 158.3,285.0 158.7,285.1 159.1,285.1 159.5,285.2 159.9,285.3 160.3,285.4 160.7,285.6 161.1,285.7 161.5,285.8 161.9,285.9 162.3,286.1 162.7,286.2 163.1,286.3 163.5,286.4 163.9,286.6 164.3,286.7 164.7,286.8 165.0,286.8 165.4,286.9 165.8,287.0 166.2,287.0 166.6,287.1 167.0,287.1 167.4,287.2 167.8,287.2 168.2,287.2 168.6,287.3 169.0,287.3 169.4,287.3 169.8,287.4 170.2,287.4 170.6,287.4 171.0,287.5 171.4,287.5 171.8,287.5 172.2,287.5 172.6,287.5 173.0,287.5 173.4,287.5 173.8,287.6" stroke="#2ca02c"/>
<polyline points="31.4,242.3 31.7,242.8 32.1,243.5 32.5,244.3 32.9,245.3 33.3,246.4 33.7,247.4 34.1,248.5 34.5,249.5 34.9,250.5 35.3,251.5 35.7,252.5 36.1,253.4 36.5,254.4 36.9,255.4 37.3,256.4 37.7,257.4 38.1,258.5 38.5,259.6 38.9,260.8 39.3,262.1 39.7,263.3 40.1,264.6 40.4,265.9 40.8,267.2 41.2,268.4 41.6,269.6 42.0,270.7 42.4,271.7 42.8,272.8 43.2,273.8 43.6,274.8 44.0,275.8 44.4,276.7 44.8,277.6 45.2,278.6 45.6,279.5 46.0,280.4 46.4,281.3 46.8,282.2 47.2,283.1 47.6,283.8 48.0,284.5 48.4,285.0 48.8,285.4 49.2,285.7 49.5,285.9 49.9,285.9 50.3,285.9 50.7,285.7 51.1,285.4 51.5,285.0 51.9,284.4 52.3,283.7 52.7,282.9 53.1,281.9 53.5,280.9 53.9,279.9 54.3,278.8 54.7,277.8 55.1,276.6 55.5,275.4 55.9,274.0 56.3,272.6 56.7,270.9 57.1,268.8 57.5,266.4 57.9,263.7 58.2,261.0 58.6,258.3 59.0,255.9 59.4,253.7 59.8,251.6 60.2,249.5 60.6,247.4 61.0,245.4 61.4,243.3 61.8,241.3 62.2,239.3 62.6,237.4 63.0,235.4 63.4,233.3 63.8,231.3 64.2,229.1 64.6,226.9 65.0,224.7 65.4,222.6 65.8,220.8 66.2,219.4 66.6,218.3 67.0,217.6 67.3,217.1 67.7,216.9 68.1,217.0 68.5,217.4 68.9,218.1 69.3,218.9 69.7,220.1 70.1,221.6 70.5,223.4 70.9,225.4 71.3,227.5 71.7,229.6 72.1,231.8 72.5,234.0 72.9,236.3 73.3,238.6 73.7,241.0 74.1,243.3 74.5,245.7 74.9,248.0 75.3,250.2 75.7,252.5 76.0,254.7 76.4,256.8 76.8,258.9 77.2,260.9 77.6,262.8 78.0,264.7 78.4,266.5 78.8,268.3 79.2,270.0 79.6,271.8 80.0,273.5 80.4,275.2 80.8,276.9 81.2,278.5 81.6,280.0 82.0,281.4 82.4,282.7 82.8,283.8 83.2,284.6 83.6,285.3 84.0,285.8 84.4,286.0 84.8,286.1 85.1,286.0 85.5,285.9 85.9,285.6 86.3,285.2 86.7,284.8 87.1,284.2 87.5,283.5 87.9,282.7 88.3,281.9 88.7,281.0 89.1,280.1 89.5,279.1 89.9,278.1 90.3,277.0 90.7,275.9 91.1,274.7 91.5,273.6 91.9,272.4 92.3,271.2 92.7,270.1 93.1,269.0 93.5,268.0 93.8,267.0 94.2,266.0 94.6,265.1 95.0,264.2 95.4,263.2 95.8,262.3 96.2,261.3 96.6,260.4 97.0,259.4 97.4,258.3 97.8,257.3 98.2,256.2 98.6,255.1 99.0,254.0 99.4,252.9 99.8,251.8 100.2,250.8 100.6,249.7 101.0,248.7 101.4,247.6 101.8,246.6 102.2,245.6 102.6,244.7 102.9,244.0 103.3,243.4 103.7,243.0 104.1,242.6 104.5,242.4 104.9,242.4 105.3,242.4 105.7,242.6 106.1,243.0 106.5,243.4 106.9,244.0 107.3,244.8 107.7,245.8 108.1,246.9 108.5,248.1 108.9,249.3 109.3,250.5 109.7,251.7 110.1,252.9 110.5,254.1 110.9,255.4 111.3,256.8 111.6,258.1 112.0,259.5 112.4,261.0 112.8,262.5 113.2,264.1 113.6,265.7 114.0,267.3 114.4,268.9 114.8,270.4 115.2,271.9 115.6,273.4 116.0,274.8 116.4,276.2 116.8,277.5 117.2,278.7 117.6,279.8 118.0,280.9 118.4,281.8 118.8,282.6 119.2,283.4 119.6,284.1 120.0,284.6 120.3,285.1 120.7,285.4 121.1,285.6 121.5,285.7 121.9,285.7 122.3,285.7 122.7,285.5 123.1,285.2 123.5,284.9 123.9,284.5 124.3,283.9 124.7,283.3 125.1,282.6 125.5,281.8 125.9,280.9 126.3,279.9 126.7,278.9 127.1,277.7 127.5,276.4 127.9,275.1 128.3,273.7 128.7,272.2 129.1,270.9 129.4,269.7 129.8,268.6 130.2,267.6 130.6,266.6 131.0,265.7 131.4,264.9 131.8,264.1 132.2,263.3 132.6,262.5 133.0,261.8 133.4,261.0 133.8,260.3 134.2,259.6 134.6,258.9 135.0,258.2 135.4,257.5 135.8,256.8 136.2,256.2 136.6,255.6 137.0,255.2 137.4,254.8 137.8,254.6 138.2,254.4 138.5,254.2 138.9,254.2 139.3,254.3 139.7,254.4 140.1,254.6 140.5,254.8 140.9,255.1 141.3,255.5 141.7,256.0 142.1,256.6 142.5,257.2 142.9,257.9 143.3,258.6 143.7,259.4 144.1,260.2 144.5,261.1 144.9,262.1 145.3,263.1 145.7,264.2 146.1,265.4 146.5,266.7 146.9,268.0 147.2,269.5 147.6,271.1 148.0,272.9 148.4,274.7 148.8,276.4 149.2,277.9 149.6,279.1 150.0,280.1 150.4,280.9 150.8,281.7 151.2,282.4 151.6,283.0 152.0,283.6 152.4,284.1 152.8,284.6 153.2,285.0 153.6,285.3 154.0,285.6 154.4,285.8 154.8,286.0 155.2,286.1 155.6,286.2 156.0,286.1 156.3,285.9 156.7,285.6 157.1,285.2 157.5,284.7 157.9,284.0 158.3,283.2 158.7,282.2 159.1,281.1 159.5,279.9 159.9,278.5 160.3,276.9 160.7,275.3 161.1,273.6 161.5,272.0 161.9,270.5 162.3,269.2 162.7,268.0 163.1,266.9 163.5,265.9 163.9,264.9 164.3,263.9 164.7,262.9 165.0,261.8 165.4,260.6 165.8,259.4 166.2,257.9 166.6,256.4 167.0,254.7 167.4,253.1 167.8,251.6 168.2,250.2 168.6,249.0 169.0,247.9 169.4,246.9 169.8,245.9 170.2,245.1 170.6,244.3 171.0,243.6 171.4,243.1 171.8,242.6 172.2,242.3 172.6,242.1 173.0,242.0 173.4,242.0 173.8,242.3" stroke="#d62728" stroke-width="0.68"/>
<polyline points="31.4,242.1 31.7,242.6 32.1,243.3 32.5,244.1 32.9,245.1 33.3,246.1 33.7,247.2 34.1,248.2 34.5,249.2 34.9,250.2 35.3,251.2 35.7,252.1 36.1,253.0 36.5,254.0 36.9,254.9 37.3,255.9 37.7,256.9 38.1,257.9 38.5,259.0 38.9,260.1 39.3,261.3 39.7,262.6 40.1,263.8 40.4,265.1 40.8,266.3 41.2,267.5 41.6,268.6 42.0,269.6 42.4,270.6 42.8,271.5 43.2,272.5 43.6,273.4 44.0,274.3 44.4,275.1 44.8,275.9 45.2,276.8 45.6,277.6 46.0,278.4 46.4,279.2 46.8,280.0 47.2,280.8 47.6,281.5 48.0,282.0 48.4,282.5 48.8,282.8 49.2,283.1 49.5,283.2 49.9,283.3 50.3,283.2 50.7,283.0 51.1,282.8 51.5,282.4 51.9,281.9 52.3,281.3 52.7,280.6 53.1,279.7 53.5,278.9 53.9,278.0 54.3,277.0 54.7,276.1 55.1,275.1 55.5,274.0 55.9,272.8 56.3,271.4 56.7,269.8 57.1,267.9 57.5,265.6 57.9,263.0 58.2,260.3 58.6,257.8 59.0,255.4 59.4,253.2 59.8,251.2 60.2,249.1 60.6,247.1 61.0,245.1 61.4,243.1 61.8,241.1 62.2,239.1 62.6,237.2 63.0,235.2 63.4,233.2 63.8,231.2 64.2,229.0 64.6,226.8 65.0,224.6 65.4,222.6 65.8,220.8 66.2,219.4 66.6,218.3 67.0,217.6 67.3,217.1 67.7,216.9 68.1,217.0 68.5,217.4 68.9,218.0 69.3,218.9 69.7,220.0 70.1,221.5 70.5,223.3 70.9,225.2 71.3,227.3 71.7,229.4 72.1,231.6 72.5,233.8 72.9,236.0 73.3,238.3 73.7,240.6 74.1,242.9 74.5,245.2 74.9,247.5 75.3,249.7 75.7,251.9 76.0,254.0 76.4,256.0 76.8,258.0 77.2,259.9 77.6,261.7 78.0,263.5 78.4,265.2 78.8,266.9 79.2,268.5 79.6,270.2 80.0,271.8 80.4,273.4 80.8,274.9 81.2,276.4 81.6,277.8 82.0,279.1 82.4,280.3 82.8,281.3 83.2,282.1 83.6,282.7 84.0,283.1 84.4,283.4 84.8,283.4 85.1,283.4 85.5,283.2 85.9,283.0 86.3,282.7 86.7,282.3 87.1,281.8 87.5,281.2 87.9,280.5 88.3,279.8 88.7,279.0 89.1,278.2 89.5,277.4 89.9,276.5 90.3,275.6 90.7,274.5 91.1,273.5 91.5,272.4 91.9,271.3 92.3,270.3 92.7,269.3 93.1,268.3 93.5,267.3 93.8,266.4 94.2,265.5 94.6,264.6 95.0,263.7 95.4,262.8 95.8,261.9 96.2,261.0 96.6,260.0 97.0,259.1 97.4,258.1 97.8,257.0 98.2,256.0 98.6,254.9 99.0,253.8 99.4,252.7 99.8,251.7 100.2,250.6 100.6,249.6 101.0,248.6 101.4,247.5 101.8,246.5 102.2,245.5 102.6,244.6 102.9,243.9 103.3,243.3 103.7,242.8 104.1,242.5 104.5,242.3 104.9,242.2 105.3,242.2 105.7,242.4 106.1,242.7 106.5,243.1 106.9,243.7 107.3,244.4 107.7,245.4 108.1,246.4 108.5,247.5 108.9,248.7 109.3,249.8 109.7,251.0 110.1,252.2 110.5,253.4 110.9,254.6 111.3,255.8 111.6,257.1 112.0,258.4 112.4,259.8 112.8,261.2 113.2,262.7 113.6,264.2 114.0,265.6 114.4,267.1 114.8,268.5 115.2,269.9 115.6,271.2 116.0,272.6 116.4,273.8 116.8,275.1 117.2,276.2 117.6,277.3 118.0,278.2 118.4,279.1 118.8,280.0 119.2,280.7 119.6,281.4 120.0,282.0 120.3,282.5 120.7,282.9 121.1,283.2 121.5,283.4 121.9,283.6 122.3,283.6 122.7,283.5 123.1,283.4 123.5,283.2 123.9,282.9 124.3,282.4 124.7,281.9 125.1,281.3 125.5,280.6 125.9,279.8 126.3,279.0 126.7,278.0 127.1,276.9 127.5,275.7 127.9,274.4 128.3,273.1 128.7,271.7 129.1,270.4 129.4,269.2 129.8,268.1 130.2,267.2 130.6,266.3 131.0,265.4 131.4,264.6 131.8,263.8 132.2,263.0 132.6,262.3 133.0,261.6 133.4,260.9 133.8,260.2 134.2,259.5 134.6,258.8 135.0,258.1 135.4,257.4 135.8,256.8 136.2,256.2 136.6,255.6 137.0,255.2 137.4,254.8 137.8,254.5 138.2,254.4 138.5,254.2 138.9,254.2 139.3,254.2 139.7,254.3 140.1,254.5 140.5,254.7 140.9,255.0 141.3,255.4 141.7,255.9 142.1,256.4 142.5,257.0 142.9,257.7 143.3,258.4 143.7,259.1 144.1,259.9 144.5,260.8 144.9,261.7 145.3,262.7 145.7,263.8 146.1,265.0 146.5,266.2 146.9,267.5 147.2,268.9 147.6,270.5 148.0,272.2 148.4,274.0 148.8,275.6 149.2,277.0 149.6,278.1 150.0,279.0 150.4,279.7 150.8,280.3 151.2,280.9 151.6,281.4 152.0,281.9 152.4,282.3 152.8,282.6 153.2,282.9 153.6,283.1 154.0,283.3 154.4,283.4 154.8,283.5 155.2,283.5 155.6,283.5 156.0,283.3 156.3,283.1 156.7,282.8 157.1,282.4 157.5,281.8 157.9,281.2 158.3,280.4 158.7,279.5 159.1,278.5 159.5,277.4 159.9,276.1 160.3,274.6 160.7,273.1 161.1,271.5 161.5,270.1 161.9,268.7 162.3,267.5 162.7,266.5 163.1,265.5 163.5,264.6 163.9,263.7 164.3,262.8 164.7,261.9 165.0,260.9 165.4,259.8 165.8,258.6 166.2,257.2 166.6,255.7 167.0,254.1 167.4,252.5 167.8,251.0 168.2,249.7 168.6,248.5 169.0,247.5 169.4,246.5 169.8,245.6 170.2,244.7 170.6,244.0 171.0,243.3 171.4,242.8 171.8,242.4 172.2,242.1 172.6,241.9 173.0,241.8 173.4,241.8 173.8,242.1" stroke="#9467bd"/>
</g>
<rect x="31.35" y="182.00" width="142.40" height="105.75" fill="none" stroke="#8c8c8c" stroke-width="1.0"/>
<path d="M31.35 287.75v2M43.22 287.75v2M55.08 287.75v2M66.95 287.75v2M78.82 287.75v2M90.68 287.75v2M102.55 287.75v2M114.42 287.75v2M126.28 287.75v2M138.15 287.75v2M150.02 287.75v2M161.88 287.75v2M173.75 287.75v2M31.35 287.75h-2M31.35 268.52h-2M31.35 249.30h-2M31.35 230.07h-2M31.35 210.84h-2M31.35 191.61h-2" stroke="#777" stroke-width="0.6" fill="none"/>
<text x="28.25" y="290.60" font-size="8.16" text-anchor="end" fill="#222222" stroke="#222222" stroke-width="0.1" textLength="10.49" lengthAdjust="spacingAndGlyphs">0.0</text>
<text x="28.25" y="271.37" font-size="8.16" text-anchor="end" fill="#222222" stroke="#222222" stroke-width="0.1" textLength="10.49" lengthAdjust="spacingAndGlyphs">0.2</text>
<text x="28.25" y="252.15" font-size="8.16" text-anchor="end" fill="#222222" stroke="#222222" stroke-width="0.1" textLength="10.49" lengthAdjust="spacingAndGlyphs">0.4</text>
<text x="28.25" y="232.92" font-size="8.16" text-anchor="end" fill="#222222" stroke="#222222" stroke-width="0.1" textLength="10.49" lengthAdjust="spacingAndGlyphs">0.6</text>
<text x="28.25" y="213.69" font-size="8.16" text-anchor="end" fill="#222222" stroke="#222222" stroke-width="0.1" textLength="10.49" lengthAdjust="spacingAndGlyphs">0.8</text>
<text x="28.25" y="194.46" font-size="8.16" text-anchor="end" fill="#222222" stroke="#222222" stroke-width="0.1" textLength="10.49" lengthAdjust="spacingAndGlyphs">1.0</text>
<g transform="translate(30.85,294.24) rotate(-30)"><text x="0.00" y="2.59" font-size="8.16" text-anchor="middle" fill="#222222" stroke="#222222" stroke-width="0.1" textLength="4.52" lengthAdjust="spacingAndGlyphs">0</text></g>
<g transform="translate(42.72,295.37) rotate(-30)"><text x="0.00" y="2.59" font-size="8.16" text-anchor="middle" fill="#222222" stroke="#222222" stroke-width="0.1" textLength="9.03" lengthAdjust="spacingAndGlyphs">30</text></g>
<g transform="translate(54.58,295.37) rotate(-30)"><text x="0.00" y="2.59" font-size="8.16" text-anchor="middle" fill="#222222" stroke="#222222" stroke-width="0.1" textLength="9.03" lengthAdjust="spacingAndGlyphs">60</text></g>
<g transform="translate(66.45,295.37) rotate(-30)"><text x="0.00" y="2.59" font-size="8.16" text-anchor="middle" fill="#222222" stroke="#222222" stroke-width="0.1" textLength="9.03" lengthAdjust="spacingAndGlyphs">90</text></g>
<g transform="translate(78.32,296.50) rotate(-30)"><text x="0.00" y="2.59" font-size="8.16" text-anchor="middle" fill="#222222" stroke="#222222" stroke-width="0.1" textLength="13.55" lengthAdjust="spacingAndGlyphs">120</text></g>
<g transform="translate(90.18,296.50) rotate(-30)"><text x="0.00" y="2.59" font-size="8.16" text-anchor="middle" fill="#222222" stroke="#222222" stroke-width="0.1" textLength="13.55" lengthAdjust="spacingAndGlyphs">150</text></g>
<g transform="translate(102.05,296.50) rotate(-30)"><text x="0.00" y="2.59" font-size="8.16" text-anchor="middle" fill="#222222" stroke="#222222" stroke-width="0.1" textLength="13.55" lengthAdjust="spacingAndGlyphs">180</text></g>
<g transform="translate(113.92,296.50) rotate(-30)"><text x="0.00" y="2.59" font-size="8.16" text-anchor="middle" fill="#222222" stroke="#222222" stroke-width="0.1" textLength="13.55" lengthAdjust="spacingAndGlyphs">210</text></g>
<g transform="translate(125.78,296.50) rotate(-30)"><text x="0.00" y="2.59" font-size="8.16" text-anchor="middle" fill="#222222" stroke="#222222" stroke-width="0.1" textLength="13.55" lengthAdjust="spacingAndGlyphs">240</text></g>
<g transform="translate(137.65,296.50) rotate(-30)"><text x="0.00" y="2.59" font-size="8.16" text-anchor="middle" fill="#222222" stroke="#222222" stroke-width="0.1" textLength="13.55" lengthAdjust="spacingAndGlyphs">270</text></g>
<g transform="translate(149.52,296.50) rotate(-30)"><text x="0.00" y="2.59" font-size="8.16" text-anchor="middle" fill="#222222" stroke="#222222" stroke-width="0.1" textLength="13.55" lengthAdjust="spacingAndGlyphs">300</text></g>
<g transform="translate(161.38,296.50) rotate(-30)"><text x="0.00" y="2.59" font-size="8.16" text-anchor="middle" fill="#222222" stroke="#222222" stroke-width="0.1" textLength="13.55" lengthAdjust="spacingAndGlyphs">330</text></g>
<g transform="translate(173.25,296.50) rotate(-30)"><text x="0.00" y="2.59" font-size="8.16" text-anchor="middle" fill="#222222" stroke="#222222" stroke-width="0.1" textLength="13.55" lengthAdjust="spacingAndGlyphs">360</text></g>
<text x="102.55" y="310.60" font-size="8.16" text-anchor="middle" fill="#222222" stroke="#222222" stroke-width="0.1" textLength="95.60" lengthAdjust="spacingAndGlyphs">Relative Azimuth Angle [°]</text>
<g transform="translate(12.95,288.02) rotate(-90)"><text x="0.00" y="-0.00" font-size="8.33" fill="#222222" stroke="#222222" stroke-width="0.10" textLength="2.83" lengthAdjust="spacingAndGlyphs">(</text><text x="2.84" y="-0.00" font-size="8.33" fill="#222222" stroke="#222222" stroke-width="0.10" textLength="4.62" lengthAdjust="spacingAndGlyphs">1</text><text x="7.47" y="-0.00" font-size="8.33" fill="#222222" stroke="#222222" stroke-width="0.10" textLength="2.45" lengthAdjust="spacingAndGlyphs">/</text><text x="9.93" y="-0.00" font-size="8.33" fill="#222222" stroke="#222222" stroke-width="0.10" textLength="2.83" lengthAdjust="spacingAndGlyphs">(</text><text x="12.77" y="-0.00" font-size="8.33" font-style="italic" fill="#222222" stroke="#222222" stroke-width="0.10" textLength="4.76" lengthAdjust="spacingAndGlyphs">K</text><text x="17.55" y="1.15" font-size="5.83" font-style="italic" fill="#222222" stroke="#222222" stroke-width="0.07" textLength="3.22" lengthAdjust="spacingAndGlyphs">p</text><text x="22.40" y="-0.00" font-size="8.33" fill="#222222" stroke="#222222" stroke-width="0.10" textLength="3.63" lengthAdjust="spacingAndGlyphs">*</text><text x="27.46" y="-0.31" font-size="8.33" font-style="italic" fill="#222222" stroke="#222222" stroke-width="0.10" textLength="4.60" lengthAdjust="spacingAndGlyphs">σ</text><text x="32.39" y="-2.99" font-size="5.83" fill="#222222" stroke="#222222" stroke-width="0.07" textLength="3.23" lengthAdjust="spacingAndGlyphs">0</text><text x="35.83" y="-0.00" font-size="8.33" fill="#222222" stroke="#222222" stroke-width="0.10" textLength="2.83" lengthAdjust="spacingAndGlyphs">)</text><text x="40.09" y="-0.00" font-size="8.33" fill="#222222" stroke="#222222" stroke-width="0.10" textLength="3.63" lengthAdjust="spacingAndGlyphs">*</text><text x="45.15" y="-0.00" font-size="8.33" fill="#222222" stroke="#222222" stroke-width="0.10" textLength="3.75" lengthAdjust="spacingAndGlyphs">∂</text><text x="48.92" y="-0.00" font-size="8.33" font-style="italic" fill="#222222" stroke="#222222" stroke-width="0.10" textLength="4.60" lengthAdjust="spacingAndGlyphs">σ</text><text x="53.85" y="-2.68" font-size="5.83" fill="#222222" stroke="#222222" stroke-width="0.07" textLength="3.23" lengthAdjust="spacingAndGlyphs">0</text><text x="57.29" y="-0.00" font-size="8.33" fill="#222222" stroke="#222222" stroke-width="0.10" textLength="2.45" lengthAdjust="spacingAndGlyphs">/</text><text x="59.74" y="-0.00" font-size="8.33" fill="#222222" stroke="#222222" stroke-width="0.10" textLength="3.75" lengthAdjust="spacingAndGlyphs">∂</text><text x="63.51" y="-0.00" font-size="8.33" font-style="italic" fill="#222222" stroke="#222222" stroke-width="0.10" textLength="4.79" lengthAdjust="spacingAndGlyphs">ϕ</text><text x="68.31" y="1.15" font-size="5.83" font-style="italic" fill="#222222" stroke="#222222" stroke-width="0.07" textLength="3.22" lengthAdjust="spacingAndGlyphs">u</text><text x="71.74" y="-0.00" font-size="8.33" fill="#222222" stroke="#222222" stroke-width="0.10" textLength="2.83" lengthAdjust="spacingAndGlyphs">)</text><text x="74.65" y="-2.68" font-size="5.83" fill="#222222" stroke="#222222" stroke-width="0.07" textLength="3.23" lengthAdjust="spacingAndGlyphs">2</text><text x="78.09" y="-0.00" font-size="8.33" fill="#222222" stroke="#222222" stroke-width="0.10" textLength="2.83" lengthAdjust="spacingAndGlyphs">[</text><text x="80.93" y="-0.00" font-size="8.33" font-style="italic" fill="#222222" stroke="#222222" stroke-width="0.10" textLength="4.61" lengthAdjust="spacingAndGlyphs">d</text><text x="85.55" y="-0.00" font-size="8.33" font-style="italic" fill="#222222" stroke="#222222" stroke-width="0.10" textLength="4.46" lengthAdjust="spacingAndGlyphs">e</text><text x="90.03" y="-0.00" font-size="8.33" font-style="italic" fill="#222222" stroke="#222222" stroke-width="0.10" textLength="4.61" lengthAdjust="spacingAndGlyphs">g</text><text x="94.99" y="-2.68" font-size="5.83" fill="#222222" stroke="#222222" stroke-width="0.07" textLength="4.26" lengthAdjust="spacingAndGlyphs">−</text><text x="99.26" y="-2.68" font-size="5.83" fill="#222222" stroke="#222222" stroke-width="0.07" textLength="3.23" lengthAdjust="spacingAndGlyphs">2</text><text x="102.70" y="-0.00" font-size="8.33" fill="#222222" stroke="#222222" stroke-width="0.10" textLength="2.83" lengthAdjust="spacingAndGlyphs">]</text><rect x="27.46" y="-7.64" width="8.37" height="0.50" fill="#222222"/></g>
<text x="102.55" y="179.20" font-size="9.80" text-anchor="middle" fill="#222222" stroke="#222222" stroke-width="0.1" textLength="100.41" lengthAdjust="spacingAndGlyphs">Cell: near; WSpd:&#160; 9m/s</text>
<rect x="114.35" y="183.40" width="56.6" height="56.2" rx="1.4" fill="#fff" fill-opacity="0.8" stroke="#cccccc" stroke-width="0.6"/>
<path d="M116.95 191.20H132.05" stroke="#1f77b4" stroke-width="1.2" stroke-opacity="0.8"/>
<text x="137.55" y="193.60" font-size="8.16" text-anchor="start" fill="#222222" stroke="#222222" stroke-width="0.1" textLength="13.97" lengthAdjust="spacingAndGlyphs">fore</text>
<path d="M116.95 201.65H132.05" stroke="#ff7f0e" stroke-width="1.2" stroke-opacity="0.8"/>
<text x="137.55" y="204.05" font-size="8.16" text-anchor="start" fill="#222222" stroke="#222222" stroke-width="0.1" textLength="9.51" lengthAdjust="spacingAndGlyphs">aft</text>
<path d="M116.95 212.10H132.05" stroke="#2ca02c" stroke-width="1.2" stroke-opacity="0.8"/>
<text x="137.55" y="214.50" font-size="8.16" text-anchor="start" fill="#222222" stroke="#222222" stroke-width="0.1" textLength="20.47" lengthAdjust="spacingAndGlyphs">broad</text>
<path d="M116.95 222.55H132.05" stroke="#d62728" stroke-width="1.2" stroke-opacity="0.8"/>
<text x="137.55" y="224.95" font-size="8.16" text-anchor="start" fill="#222222" stroke="#222222" stroke-width="0.1" textLength="29.48" lengthAdjust="spacingAndGlyphs">total sqt</text>
<path d="M116.95 233.00H132.05" stroke="#9467bd" stroke-width="1.2" stroke-opacity="0.8"/>
<text x="137.55" y="235.40" font-size="8.16" text-anchor="start" fill="#222222" stroke="#222222" stroke-width="0.1" textLength="26.79" lengthAdjust="spacingAndGlyphs">total all</text>
<path d="M226.37 182.00V287.75M238.23 182.00V287.75M250.10 182.00V287.75M261.97 182.00V287.75M273.83 182.00V287.75M285.70 182.00V287.75M297.57 182.00V287.75M309.43 182.00V287.75M321.30 182.00V287.75M333.17 182.00V287.75M345.03 182.00V287.75M214.50 268.52H356.90M214.50 249.30H356.90M214.50 230.07H356.90M214.50 210.84H356.90M214.50 191.61H356.90" stroke="#dddddd" stroke-width="1.0" fill="none"/>
<clipPath id="c5"><rect x="214.50" y="182.00" width="142.40" height="105.75"/></clipPath>
<g clip-path="url(#c5)" fill="none" stroke-width="0.85" stroke-linejoin="round" stroke-linecap="round" stroke-opacity="1">
<polyline points="214.5,238.4 214.9,238.9 215.3,239.7 215.7,240.6 216.1,241.8 216.5,243.0 216.9,244.4 217.3,245.8 217.7,247.2 218.1,248.6 218.5,250.1 218.9,251.5 219.2,253.1 219.6,254.7 220.0,256.4 220.4,258.1 220.8,259.8 221.2,261.6 221.6,263.3 222.0,265.1 222.4,266.7 222.8,268.2 223.2,269.6 223.6,271.0 224.0,272.2 224.4,273.4 224.8,274.5 225.2,275.5 225.6,276.5 226.0,277.3 226.4,278.1 226.8,278.8 227.2,279.4 227.6,280.0 227.9,280.7 228.3,281.3 228.7,281.9 229.1,282.4 229.5,283.0 229.9,283.5 230.3,284.0 230.7,284.5 231.1,285.0 231.5,285.4 231.9,285.8 232.3,286.2 232.7,286.5 233.1,286.8 233.5,287.1 233.9,287.3 234.3,287.5 234.7,287.6 235.1,287.6 235.5,287.6 235.9,287.5 236.3,287.2 236.7,286.8 237.0,286.3 237.4,285.6 237.8,284.8 238.2,284.0 238.6,283.0 239.0,282.1 239.4,281.0 239.8,280.0 240.2,278.9 240.6,277.8 241.0,276.6 241.4,275.3 241.8,274.0 242.2,272.5 242.6,270.9 243.0,269.3 243.4,267.5 243.8,265.7 244.2,263.9 244.6,262.0 245.0,260.2 245.4,258.6 245.7,257.0 246.1,255.6 246.5,254.2 246.9,252.9 247.3,251.6 247.7,250.4 248.1,249.1 248.5,247.9 248.9,246.7 249.3,245.4 249.7,244.1 250.1,242.9 250.5,241.7 250.9,240.7 251.3,239.8 251.7,239.1 252.1,238.6 252.5,238.4 252.9,238.5 253.3,238.9 253.7,239.6 254.1,240.6 254.5,241.7 254.8,243.0 255.2,244.4 255.6,245.8 256.0,247.3 256.4,248.8 256.8,250.2 257.2,251.8 257.6,253.4 258.0,255.0 258.4,256.6 258.8,258.1 259.2,259.6 259.6,261.0 260.0,262.5 260.4,264.0 260.8,265.5 261.2,267.0 261.6,268.5 262.0,270.0 262.4,271.5 262.8,273.0 263.2,274.5 263.5,275.9 263.9,277.3 264.3,278.6 264.7,279.9 265.1,281.1 265.5,282.2 265.9,283.3 266.3,284.2 266.7,285.1 267.1,285.8 267.5,286.4 267.9,286.9 268.3,287.3 268.7,287.5 269.1,287.6 269.5,287.6 269.9,287.6 270.3,287.4 270.7,287.2 271.1,287.0 271.5,286.7 271.9,286.4 272.3,286.0 272.6,285.6 273.0,285.1 273.4,284.6 273.8,284.0 274.2,283.5 274.6,282.8 275.0,282.2 275.4,281.5 275.8,280.8 276.2,280.1 276.6,279.3 277.0,278.4 277.4,277.3 277.8,276.0 278.2,274.4 278.6,272.7 279.0,271.1 279.4,269.8 279.8,268.7 280.2,267.9 280.6,267.3 281.0,266.8 281.3,266.3 281.7,265.8 282.1,265.4 282.5,265.1 282.9,264.8 283.3,264.6 283.7,264.4 284.1,264.3 284.5,264.3 284.9,264.3 285.3,264.4 285.7,264.6 286.1,264.8 286.5,265.1 286.9,265.5 287.3,265.9 287.7,266.3 288.1,266.8 288.5,267.3 288.9,267.8 289.3,268.4 289.7,269.1 290.1,270.0 290.4,271.1 290.8,272.2 291.2,273.5 291.6,274.7 292.0,275.9 292.4,276.9 292.8,277.8 293.2,278.6 293.6,279.3 294.0,279.9 294.4,280.6 294.8,281.2 295.2,281.8 295.6,282.4 296.0,282.9 296.4,283.5 296.8,284.0 297.2,284.5 297.6,285.0 298.0,285.4 298.4,285.8 298.8,286.2 299.1,286.5 299.5,286.8 299.9,287.1 300.3,287.3 300.7,287.5 301.1,287.6 301.5,287.7 301.9,287.7 302.3,287.7 302.7,287.7 303.1,287.6 303.5,287.5 303.9,287.4 304.3,287.3 304.7,287.1 305.1,286.9 305.5,286.8 305.9,286.5 306.3,286.3 306.7,286.1 307.1,285.8 307.5,285.6 307.9,285.3 308.2,285.0 308.6,284.7 309.0,284.4 309.4,284.1 309.8,283.7 310.2,283.3 310.6,282.9 311.0,282.3 311.4,281.7 311.8,281.1 312.2,280.4 312.6,279.7 313.0,279.0 313.4,278.3 313.8,277.7 314.2,277.0 314.6,276.3 315.0,275.6 315.4,274.9 315.8,274.1 316.2,273.4 316.6,272.7 316.9,272.0 317.3,271.3 317.7,270.7 318.1,270.1 318.5,269.5 318.9,269.0 319.3,268.5 319.7,268.0 320.1,267.6 320.5,267.2 320.9,266.7 321.3,266.3 321.7,265.9 322.1,265.5 322.5,265.2 322.9,264.9 323.3,264.7 323.7,264.5 324.1,264.3 324.5,264.3 324.9,264.3 325.3,264.4 325.7,264.6 326.0,264.9 326.4,265.2 326.8,265.6 327.2,266.1 327.6,266.6 328.0,267.1 328.4,267.7 328.8,268.3 329.2,269.1 329.6,270.1 330.0,271.2 330.4,272.5 330.8,273.9 331.2,275.2 331.6,276.5 332.0,277.7 332.4,278.8 332.8,279.8 333.2,280.9 333.6,281.9 334.0,282.8 334.4,283.8 334.7,284.7 335.1,285.5 335.5,286.2 335.9,286.7 336.3,287.2 336.7,287.5 337.1,287.6 337.5,287.6 337.9,287.4 338.3,287.1 338.7,286.8 339.1,286.4 339.5,285.8 339.9,285.3 340.3,284.6 340.7,283.9 341.1,283.2 341.5,282.5 341.9,281.7 342.3,280.9 342.7,280.1 343.1,279.3 343.5,278.4 343.8,277.6 344.2,276.8 344.6,275.9 345.0,274.9 345.4,273.9 345.8,272.8 346.2,271.6 346.6,270.2 347.0,268.6 347.4,266.8 347.8,264.7 348.2,262.6 348.6,260.4 349.0,258.5 349.4,256.9 349.8,255.4 350.2,254.0 350.6,252.7 351.0,251.5 351.4,250.3 351.8,249.1 352.2,247.9 352.5,246.7 352.9,245.5 353.3,244.2 353.7,243.0 354.1,241.8 354.5,240.8 354.9,239.9 355.3,239.1 355.7,238.6 356.1,238.3 356.5,238.2 356.9,238.4" stroke="#1f77b4"/>
<polyline points="214.5,265.2 214.9,264.9 215.3,264.7 215.7,264.5 216.1,264.4 216.5,264.3 216.9,264.4 217.3,264.5 217.7,264.7 218.1,265.1 218.5,265.5 218.9,266.0 219.2,266.5 219.6,267.1 220.0,267.7 220.4,268.3 220.8,268.9 221.2,269.5 221.6,270.3 222.0,271.0 222.4,271.9 222.8,272.7 223.2,273.6 223.6,274.5 224.0,275.3 224.4,276.1 224.8,276.9 225.2,277.6 225.6,278.2 226.0,278.8 226.4,279.4 226.8,280.1 227.2,280.7 227.6,281.3 227.9,281.9 228.3,282.5 228.7,283.0 229.1,283.6 229.5,284.1 229.9,284.7 230.3,285.2 230.7,285.6 231.1,286.0 231.5,286.4 231.9,286.8 232.3,287.1 232.7,287.3 233.1,287.5 233.5,287.6 233.9,287.6 234.3,287.6 234.7,287.3 235.1,287.0 235.5,286.5 235.9,285.8 236.3,285.0 236.7,284.1 237.0,283.1 237.4,282.1 237.8,280.9 238.2,279.7 238.6,278.3 239.0,276.6 239.4,274.7 239.8,272.6 240.2,270.4 240.6,268.2 241.0,266.0 241.4,263.9 241.8,261.9 242.2,260.0 242.6,258.3 243.0,256.7 243.4,255.3 243.8,253.9 244.2,252.6 244.6,251.3 245.0,250.1 245.4,248.9 245.7,247.6 246.1,246.3 246.5,244.9 246.9,243.6 247.3,242.3 247.7,241.2 248.1,240.1 248.5,239.3 248.9,238.7 249.3,238.4 249.7,238.4 250.1,238.7 250.5,239.2 250.9,240.0 251.3,241.0 251.7,242.1 252.1,243.3 252.5,244.7 252.9,246.0 253.3,247.4 253.7,248.8 254.1,250.3 254.5,251.8 254.8,253.4 255.2,255.1 255.6,256.8 256.0,258.3 256.4,259.9 256.8,261.3 257.2,262.7 257.6,264.1 258.0,265.3 258.4,266.6 258.8,267.7 259.2,268.8 259.6,269.8 260.0,270.9 260.4,271.9 260.8,273.0 261.2,274.0 261.6,275.1 262.0,276.1 262.4,277.1 262.8,278.1 263.2,279.1 263.5,280.1 263.9,281.0 264.3,281.8 264.7,282.7 265.1,283.5 265.5,284.2 265.9,284.9 266.3,285.5 266.7,286.0 267.1,286.5 267.5,286.9 267.9,287.2 268.3,287.5 268.7,287.6 269.1,287.6 269.5,287.6 269.9,287.4 270.3,287.2 270.7,286.8 271.1,286.4 271.5,285.9 271.9,285.3 272.3,284.6 272.6,283.9 273.0,283.2 273.4,282.3 273.8,281.5 274.2,280.6 274.6,279.6 275.0,278.6 275.4,277.3 275.8,275.9 276.2,274.2 276.6,272.4 277.0,270.7 277.4,269.1 277.8,267.8 278.2,266.6 278.6,265.5 279.0,264.6 279.4,263.7 279.8,262.8 280.2,261.9 280.6,261.0 281.0,260.0 281.3,258.9 281.7,257.7 282.1,256.5 282.5,255.1 282.9,253.7 283.3,252.4 283.7,251.0 284.1,249.7 284.5,248.3 284.9,247.0 285.3,245.6 285.7,244.2 286.1,242.8 286.5,241.6 286.9,240.4 287.3,239.5 287.7,238.9 288.1,238.5 288.5,238.5 288.9,238.8 289.3,239.4 289.7,240.2 290.1,241.3 290.4,242.6 290.8,244.0 291.2,245.4 291.6,246.8 292.0,248.3 292.4,249.8 292.8,251.2 293.2,252.8 293.6,254.4 294.0,256.1 294.4,257.7 294.8,259.4 295.2,261.1 295.6,262.8 296.0,264.6 296.4,266.3 296.8,268.0 297.2,269.8 297.6,271.6 298.0,273.4 298.4,275.1 298.8,276.7 299.1,278.1 299.5,279.4 299.9,280.6 300.3,281.8 300.7,282.9 301.1,283.9 301.5,284.9 301.9,285.7 302.3,286.4 302.7,287.0 303.1,287.3 303.5,287.6 303.9,287.6 304.3,287.5 304.7,287.4 305.1,287.2 305.5,286.9 305.9,286.5 306.3,286.1 306.7,285.7 307.1,285.2 307.5,284.7 307.9,284.1 308.2,283.5 308.6,282.8 309.0,282.2 309.4,281.5 309.8,280.7 310.2,279.7 310.6,278.6 311.0,277.2 311.4,275.7 311.8,274.1 312.2,272.5 312.6,271.1 313.0,269.9 313.4,269.0 313.8,268.3 314.2,267.7 314.6,267.2 315.0,266.8 315.4,266.4 315.8,266.0 316.2,265.7 316.6,265.3 316.9,265.1 317.3,264.8 317.7,264.6 318.1,264.5 318.5,264.3 318.9,264.3 319.3,264.3 319.7,264.3 320.1,264.5 320.5,264.7 320.9,265.0 321.3,265.3 321.7,265.7 322.1,266.1 322.5,266.6 322.9,267.0 323.3,267.5 323.7,268.0 324.1,268.5 324.5,269.1 324.9,269.6 325.3,270.3 325.7,271.0 326.0,271.7 326.4,272.5 326.8,273.3 327.2,274.1 327.6,274.9 328.0,275.6 328.4,276.4 328.8,277.0 329.2,277.7 329.6,278.3 330.0,278.9 330.4,279.4 330.8,280.0 331.2,280.6 331.6,281.2 332.0,281.8 332.4,282.3 332.8,282.9 333.2,283.5 333.6,284.0 334.0,284.5 334.4,285.0 334.7,285.5 335.1,285.9 335.5,286.3 335.9,286.6 336.3,286.9 336.7,287.2 337.1,287.4 337.5,287.6 337.9,287.6 338.3,287.7 338.7,287.7 339.1,287.6 339.5,287.5 339.9,287.3 340.3,287.1 340.7,286.8 341.1,286.5 341.5,286.2 341.9,285.8 342.3,285.4 342.7,285.0 343.1,284.6 343.5,284.1 343.8,283.6 344.2,283.1 344.6,282.6 345.0,282.1 345.4,281.6 345.8,281.0 346.2,280.5 346.6,280.0 347.0,279.4 347.4,278.9 347.8,278.4 348.2,277.8 348.6,277.3 349.0,276.7 349.4,276.0 349.8,275.4 350.2,274.7 350.6,274.0 351.0,273.2 351.4,272.5 351.8,271.8 352.2,271.1 352.5,270.5 352.9,269.8 353.3,269.2 353.7,268.7 354.1,268.1 354.5,267.6 354.9,267.1 355.3,266.7 355.7,266.2 356.1,265.8 356.5,265.5 356.9,265.2" stroke="#ff7f0e"/>
<polyline points="214.5,287.7 214.9,287.6 215.3,287.5 215.7,287.4 216.1,287.2 216.5,287.0 216.9,286.7 217.3,286.4 217.7,286.0 218.1,285.6 218.5,285.2 218.9,284.8 219.2,284.3 219.6,283.8 220.0,283.3 220.4,282.9 220.8,282.4 221.2,281.9 221.6,281.4 222.0,280.9 222.4,280.4 222.8,280.0 223.2,279.5 223.6,279.1 224.0,278.7 224.4,278.4 224.8,278.0 225.2,277.7 225.6,277.3 226.0,277.0 226.4,276.6 226.8,276.2 227.2,275.9 227.6,275.5 227.9,275.2 228.3,274.9 228.7,274.6 229.1,274.3 229.5,274.0 229.9,273.8 230.3,273.6 230.7,273.5 231.1,273.4 231.5,273.3 231.9,273.3 232.3,273.4 232.7,273.5 233.1,273.6 233.5,273.8 233.9,274.0 234.3,274.2 234.7,274.5 235.1,274.7 235.5,275.0 235.9,275.4 236.3,275.7 236.7,276.0 237.0,276.4 237.4,276.7 237.8,277.0 238.2,277.4 238.6,277.7 239.0,278.0 239.4,278.3 239.8,278.7 240.2,279.0 240.6,279.4 241.0,279.8 241.4,280.2 241.8,280.7 242.2,281.1 242.6,281.6 243.0,282.0 243.4,282.5 243.8,282.9 244.2,283.4 244.6,283.8 245.0,284.3 245.4,284.7 245.7,285.1 246.1,285.5 246.5,285.9 246.9,286.2 247.3,286.5 247.7,286.8 248.1,287.1 248.5,287.3 248.9,287.4 249.3,287.6 249.7,287.6 250.1,287.7 250.5,287.6 250.9,287.6 251.3,287.5 251.7,287.4 252.1,287.2 252.5,287.0 252.9,286.8 253.3,286.5 253.7,286.3 254.1,286.0 254.5,285.6 254.8,285.3 255.2,284.9 255.6,284.6 256.0,284.2 256.4,283.8 256.8,283.4 257.2,283.0 257.6,282.6 258.0,282.2 258.4,281.8 258.8,281.4 259.2,281.0 259.6,280.6 260.0,280.2 260.4,279.8 260.8,279.4 261.2,279.1 261.6,278.8 262.0,278.5 262.4,278.1 262.8,277.8 263.2,277.5 263.5,277.2 263.9,276.9 264.3,276.6 264.7,276.2 265.1,275.9 265.5,275.6 265.9,275.2 266.3,274.9 266.7,274.6 267.1,274.4 267.5,274.1 267.9,273.9 268.3,273.7 268.7,273.6 269.1,273.4 269.5,273.4 269.9,273.3 270.3,273.4 270.7,273.4 271.1,273.6 271.5,273.7 271.9,273.9 272.3,274.2 272.6,274.5 273.0,274.8 273.4,275.1 273.8,275.5 274.2,275.9 274.6,276.2 275.0,276.6 275.4,277.0 275.8,277.4 276.2,277.8 276.6,278.2 277.0,278.6 277.4,279.0 277.8,279.4 278.2,279.9 278.6,280.4 279.0,280.9 279.4,281.4 279.8,282.0 280.2,282.5 280.6,283.1 281.0,283.6 281.3,284.2 281.7,284.7 282.1,285.2 282.5,285.6 282.9,286.0 283.3,286.4 283.7,286.8 284.1,287.1 284.5,287.3 284.9,287.5 285.3,287.6 285.7,287.6 286.1,287.7 286.5,287.6 286.9,287.5 287.3,287.4 287.7,287.3 288.1,287.1 288.5,287.0 288.9,286.8 289.3,286.5 289.7,286.3 290.1,286.0 290.4,285.7 290.8,285.4 291.2,285.1 291.6,284.8 292.0,284.5 292.4,284.2 292.8,283.9 293.2,283.5 293.6,283.2 294.0,282.9 294.4,282.6 294.8,282.2 295.2,281.9 295.6,281.6 296.0,281.3 296.4,281.0 296.8,280.8 297.2,280.5 297.6,280.3 298.0,280.1 298.4,279.9 298.8,279.7 299.1,279.6 299.5,279.4 299.9,279.4 300.3,279.3 300.7,279.3 301.1,279.3 301.5,279.3 301.9,279.4 302.3,279.5 302.7,279.6 303.1,279.7 303.5,279.9 303.9,280.1 304.3,280.3 304.7,280.5 305.1,280.7 305.5,280.9 305.9,281.2 306.3,281.4 306.7,281.7 307.1,281.9 307.5,282.2 307.9,282.4 308.2,282.6 308.6,282.8 309.0,283.0 309.4,283.2 309.8,283.4 310.2,283.6 310.6,283.8 311.0,283.9 311.4,284.1 311.8,284.3 312.2,284.5 312.6,284.7 313.0,284.8 313.4,285.0 313.8,285.2 314.2,285.4 314.6,285.6 315.0,285.8 315.4,285.9 315.8,286.1 316.2,286.3 316.6,286.4 316.9,286.6 317.3,286.8 317.7,286.9 318.1,287.0 318.5,287.1 318.9,287.3 319.3,287.4 319.7,287.5 320.1,287.5 320.5,287.6 320.9,287.6 321.3,287.7 321.7,287.7 322.1,287.7 322.5,287.7 322.9,287.7 323.3,287.6 323.7,287.6 324.1,287.5 324.5,287.4 324.9,287.3 325.3,287.2 325.7,287.0 326.0,286.9 326.4,286.7 326.8,286.6 327.2,286.4 327.6,286.2 328.0,286.0 328.4,285.8 328.8,285.6 329.2,285.4 329.6,285.1 330.0,284.9 330.4,284.7 330.8,284.4 331.2,284.2 331.6,284.0 332.0,283.7 332.4,283.5 332.8,283.2 333.2,283.0 333.6,282.7 334.0,282.5 334.4,282.3 334.7,282.0 335.1,281.8 335.5,281.6 335.9,281.4 336.3,281.1 336.7,280.9 337.1,280.7 337.5,280.5 337.9,280.4 338.3,280.2 338.7,280.0 339.1,279.9 339.5,279.8 339.9,279.6 340.3,279.5 340.7,279.4 341.1,279.4 341.5,279.3 341.9,279.3 342.3,279.2 342.7,279.2 343.1,279.3 343.5,279.3 343.8,279.4 344.2,279.5 344.6,279.7 345.0,279.9 345.4,280.1 345.8,280.3 346.2,280.6 346.6,280.8 347.0,281.1 347.4,281.4 347.8,281.8 348.2,282.1 348.6,282.4 349.0,282.8 349.4,283.1 349.8,283.5 350.2,283.8 350.6,284.2 351.0,284.5 351.4,284.9 351.8,285.2 352.2,285.5 352.5,285.8 352.9,286.1 353.3,286.4 353.7,286.6 354.1,286.9 354.5,287.1 354.9,287.2 355.3,287.4 355.7,287.5 356.1,287.6 356.5,287.6 356.9,287.7" stroke="#2ca02c"/>
<polyline points="214.5,217.6 214.9,217.5 215.3,217.7 215.7,218.0 216.1,218.5 216.5,219.4 216.9,220.5 217.3,221.9 217.7,223.5 218.1,225.3 218.5,227.2 218.9,229.3 219.2,231.6 219.6,233.9 220.0,236.4 220.4,239.0 220.8,241.7 221.2,244.5 221.6,247.3 222.0,250.2 222.4,253.0 222.8,255.8 223.2,258.6 223.6,261.2 224.0,263.7 224.4,265.9 224.8,267.9 225.2,269.7 225.6,271.2 226.0,272.7 226.4,274.1 226.8,275.5 227.2,276.8 227.6,278.1 227.9,279.3 228.3,280.5 228.7,281.5 229.1,282.5 229.5,283.4 229.9,284.2 230.3,285.0 230.7,285.6 231.1,286.1 231.5,286.5 231.9,286.7 232.3,286.9 232.7,287.0 233.1,287.0 233.5,286.9 233.9,286.6 234.3,286.2 234.7,285.6 235.1,284.9 235.5,283.9 235.9,282.7 236.3,281.2 236.7,279.4 237.0,277.5 237.4,275.4 237.8,273.2 238.2,271.0 238.6,268.7 239.0,266.5 239.4,264.2 239.8,261.8 240.2,259.5 240.6,257.1 241.0,254.8 241.4,252.4 241.8,249.9 242.2,247.0 242.6,243.6 243.0,239.9 243.4,236.1 243.8,232.5 244.2,229.1 244.6,226.1 245.0,223.3 245.4,220.6 245.7,218.2 246.1,215.8 246.5,213.4 246.9,211.0 247.3,208.5 247.7,206.0 248.1,203.6 248.5,201.3 248.9,199.1 249.3,197.0 249.7,195.2 250.1,193.9 250.5,193.2 250.9,193.3 251.3,194.1 251.7,195.7 252.1,197.6 252.5,199.9 252.9,202.1 253.3,204.5 253.7,206.8 254.1,209.2 254.5,211.6 254.8,214.0 255.2,216.4 255.6,218.7 256.0,221.2 256.4,223.7 256.8,226.5 257.2,229.4 257.6,232.5 258.0,235.5 258.4,238.6 258.8,241.8 259.2,245.1 259.6,248.8 260.0,252.7 260.4,257.0 260.8,261.2 261.2,265.0 261.6,268.4 262.0,271.1 262.4,273.4 262.8,275.3 263.2,277.0 263.5,278.4 263.9,279.7 264.3,280.8 264.7,281.8 265.1,282.7 265.5,283.6 265.9,284.3 266.3,285.0 266.7,285.6 267.1,286.0 267.5,286.4 267.9,286.8 268.3,287.0 268.7,287.1 269.1,287.1 269.5,287.0 269.9,286.9 270.3,286.6 270.7,286.2 271.1,285.7 271.5,285.1 271.9,284.3 272.3,283.4 272.6,282.4 273.0,281.2 273.4,279.7 273.8,277.9 274.2,275.9 274.6,273.7 275.0,271.4 275.4,269.0 275.8,266.6 276.2,264.2 276.6,261.9 277.0,259.6 277.4,257.5 277.8,255.5 278.2,253.6 278.6,251.8 279.0,249.9 279.4,247.9 279.8,245.9 280.2,243.7 280.6,241.3 281.0,238.8 281.3,236.4 281.7,234.0 282.1,231.6 282.5,229.4 282.9,227.2 283.3,225.1 283.7,223.2 284.1,221.6 284.5,220.2 284.9,219.2 285.3,218.4 285.7,217.9 286.1,217.5 286.5,217.5 286.9,217.6 287.3,217.9 287.7,218.5 288.1,219.1 288.5,220.0 288.9,221.1 289.3,222.4 289.7,224.0 290.1,225.6 290.4,227.4 290.8,229.3 291.2,231.2 291.6,233.2 292.0,235.2 292.4,237.3 292.8,239.6 293.2,241.9 293.6,244.4 294.0,247.1 294.4,249.9 294.8,252.8 295.2,255.7 295.6,258.7 296.0,261.5 296.4,264.2 296.8,266.6 297.2,268.7 297.6,270.6 298.0,272.4 298.4,274.0 298.8,275.4 299.1,276.8 299.5,278.0 299.9,279.1 300.3,280.3 300.7,281.3 301.1,282.3 301.5,283.2 301.9,284.0 302.3,284.8 302.7,285.5 303.1,286.0 303.5,286.5 303.9,286.9 304.3,287.1 304.7,287.3 305.1,287.4 305.5,287.3 305.9,287.3 306.3,287.1 306.7,286.9 307.1,286.6 307.5,286.2 307.9,285.8 308.2,285.3 308.6,284.7 309.0,284.0 309.4,283.2 309.8,282.3 310.2,281.2 310.6,280.1 311.0,278.8 311.4,277.5 311.8,276.1 312.2,274.6 312.6,273.1 313.0,271.6 313.4,270.0 313.8,268.3 314.2,266.7 314.6,265.1 315.0,263.4 315.4,261.8 315.8,260.1 316.2,258.4 316.6,256.6 316.9,254.8 317.3,253.0 317.7,251.3 318.1,249.7 318.5,248.3 318.9,247.0 319.3,245.8 319.7,244.8 320.1,244.0 320.5,243.4 320.9,242.9 321.3,242.6 321.7,242.4 322.1,242.4 322.5,242.6 322.9,242.9 323.3,243.3 323.7,243.8 324.1,244.5 324.5,245.4 324.9,246.4 325.3,247.6 325.7,248.8 326.0,250.2 326.4,251.7 326.8,253.4 327.2,255.2 327.6,257.0 328.0,258.8 328.4,260.4 328.8,262.0 329.2,263.5 329.6,265.0 330.0,266.4 330.4,267.9 330.8,269.3 331.2,270.7 331.6,272.1 332.0,273.5 332.4,274.9 332.8,276.2 333.2,277.5 333.6,278.7 334.0,279.9 334.4,281.0 334.7,282.0 335.1,283.0 335.5,283.9 335.9,284.7 336.3,285.5 336.7,286.1 337.1,286.7 337.5,287.1 337.9,287.5 338.3,287.8 338.7,287.8 339.1,287.8 339.5,287.8 339.9,287.8 340.3,287.8 340.7,287.8 341.1,287.7 341.5,287.2 341.9,286.6 342.3,285.8 342.7,284.9 343.1,283.8 343.5,282.5 343.8,281.2 344.2,279.7 344.6,278.1 345.0,276.4 345.4,274.6 345.8,272.8 346.2,271.0 346.6,269.1 347.0,267.1 347.4,265.1 347.8,263.1 348.2,260.9 348.6,258.5 349.0,255.8 349.4,252.9 349.8,249.6 350.2,246.4 350.6,243.4 351.0,240.8 351.4,238.5 351.8,236.5 352.2,234.6 352.5,232.8 352.9,231.0 353.3,229.2 353.7,227.4 354.1,225.6 354.5,223.8 354.9,222.2 355.3,220.7 355.7,219.5 356.1,218.5 356.5,217.9 356.9,217.6" stroke="#d62728" stroke-width="0.68"/>
<polyline points="214.5,217.5 214.9,217.4 215.3,217.4 215.7,217.6 216.1,218.0 216.5,218.6 216.9,219.4 217.3,220.5 217.7,221.7 218.1,223.1 218.5,224.7 218.9,226.4 219.2,228.1 219.6,230.0 220.0,232.0 220.4,234.1 220.8,236.3 221.2,238.6 221.6,240.9 222.0,243.3 222.4,245.7 222.8,248.1 223.2,250.4 223.6,252.6 224.0,254.7 224.4,256.6 224.8,258.2 225.2,259.6 225.6,260.8 226.0,261.9 226.4,263.0 226.8,264.0 227.2,265.0 227.6,265.9 227.9,266.7 228.3,267.6 228.7,268.3 229.1,269.0 229.5,269.7 229.9,270.3 230.3,270.8 230.7,271.3 231.1,271.7 231.5,272.1 231.9,272.3 232.3,272.6 232.7,272.7 233.1,272.8 233.5,272.9 233.9,272.9 234.3,272.7 234.7,272.4 235.1,271.9 235.5,271.2 235.9,270.3 236.3,269.1 236.7,267.7 237.0,266.1 237.4,264.3 237.8,262.5 238.2,260.6 238.6,258.7 239.0,256.8 239.4,254.8 239.8,252.8 240.2,250.8 240.6,248.8 241.0,246.9 241.4,244.9 241.8,242.8 242.2,240.3 242.6,237.4 243.0,234.2 243.4,230.8 243.8,227.7 244.2,224.8 244.6,222.2 245.0,219.8 245.4,217.6 245.7,215.6 246.1,213.6 246.5,211.5 246.9,209.4 247.3,207.3 247.7,205.1 248.1,202.9 248.5,200.8 248.9,198.8 249.3,196.8 249.7,195.1 250.1,193.8 250.5,193.1 250.9,193.1 251.3,193.9 251.7,195.3 252.1,197.1 252.5,199.1 252.9,201.2 253.3,203.3 253.7,205.3 254.1,207.4 254.5,209.5 254.8,211.6 255.2,213.6 255.6,215.6 256.0,217.6 256.4,219.8 256.8,222.2 257.2,224.7 257.6,227.3 258.0,230.0 258.4,232.6 258.8,235.4 259.2,238.3 259.6,241.6 260.0,245.2 260.4,249.0 260.8,252.9 261.2,256.4 261.6,259.4 262.0,261.8 262.4,263.8 262.8,265.4 263.2,266.7 263.5,267.9 263.9,268.8 264.3,269.6 264.7,270.3 265.1,270.9 265.5,271.4 265.9,271.8 266.3,272.2 266.7,272.5 267.1,272.7 267.5,272.8 267.9,272.9 268.3,273.0 268.7,272.9 269.1,272.8 269.5,272.7 269.9,272.5 270.3,272.2 270.7,271.9 271.1,271.5 271.5,271.0 271.9,270.5 272.3,269.9 272.6,269.1 273.0,268.2 273.4,267.1 273.8,265.7 274.2,264.0 274.6,262.2 275.0,260.2 275.4,258.3 275.8,256.3 276.2,254.2 276.6,252.3 277.0,250.4 277.4,248.7 277.8,247.2 278.2,245.7 278.6,244.4 279.0,243.1 279.4,241.6 279.8,240.1 280.2,238.4 280.6,236.6 281.0,234.7 281.3,232.8 281.7,230.9 282.1,229.0 282.5,227.2 282.9,225.5 283.3,223.8 283.7,222.2 284.1,220.9 284.5,219.7 284.9,218.9 285.3,218.2 285.7,217.7 286.1,217.4 286.5,217.3 286.9,217.4 287.3,217.6 287.7,218.0 288.1,218.5 288.5,219.2 288.9,220.1 289.3,221.2 289.7,222.5 290.1,223.9 290.4,225.4 290.8,227.0 291.2,228.6 291.6,230.3 292.0,232.0 292.4,233.8 292.8,235.7 293.2,237.7 293.6,239.9 294.0,242.2 294.4,244.7 294.8,247.2 295.2,249.9 295.6,252.5 296.0,255.1 296.4,257.5 296.8,259.6 297.2,261.5 297.6,263.2 298.0,264.7 298.4,266.1 298.8,267.4 299.1,268.6 299.5,269.7 299.9,270.7 300.3,271.8 300.7,272.8 301.1,273.8 301.5,274.7 301.9,275.6 302.3,276.5 302.7,277.3 303.1,278.0 303.5,278.6 303.9,279.2 304.3,279.6 304.7,280.0 305.1,280.3 305.5,280.5 305.9,280.7 306.3,280.8 306.7,280.8 307.1,280.8 307.5,280.6 307.9,280.4 308.2,280.1 308.6,279.8 309.0,279.3 309.4,278.7 309.8,277.9 310.2,277.1 310.6,276.1 311.0,275.0 311.4,273.9 311.8,272.7 312.2,271.4 312.6,270.0 313.0,268.7 313.4,267.2 313.8,265.8 314.2,264.4 314.6,262.9 315.0,261.5 315.4,260.0 315.8,258.5 316.2,256.9 316.6,255.3 316.9,253.6 317.3,252.0 317.7,250.4 318.1,249.0 318.5,247.7 318.9,246.5 319.3,245.4 319.7,244.5 320.1,243.8 320.5,243.2 320.9,242.8 321.3,242.5 321.7,242.4 322.1,242.4 322.5,242.5 322.9,242.8 323.3,243.2 323.7,243.7 324.1,244.3 324.5,245.1 324.9,246.0 325.3,247.0 325.7,248.1 326.0,249.3 326.4,250.7 326.8,252.2 327.2,253.8 327.6,255.5 328.0,257.0 328.4,258.5 328.8,259.8 329.2,261.1 329.6,262.3 330.0,263.6 330.4,264.8 330.8,266.0 331.2,267.2 331.6,268.4 332.0,269.5 332.4,270.6 332.8,271.7 333.2,272.7 333.6,273.7 334.0,274.6 334.4,275.5 334.7,276.3 335.1,277.1 335.5,277.7 335.9,278.3 336.3,278.9 336.7,279.3 337.1,279.7 337.5,279.9 337.9,280.1 338.3,280.3 338.7,280.4 339.1,280.4 339.5,280.4 339.9,280.3 340.3,280.0 340.7,279.7 341.1,279.3 341.5,278.8 341.9,278.1 342.3,277.3 342.7,276.4 343.1,275.3 343.5,274.1 343.8,272.8 344.2,271.5 344.6,270.0 345.0,268.5 345.4,267.0 345.8,265.4 346.2,263.8 346.6,262.2 347.0,260.5 347.4,258.8 347.8,257.1 348.2,255.2 348.6,253.2 349.0,250.8 349.4,248.2 349.8,245.4 350.2,242.5 350.6,239.8 351.0,237.6 351.4,235.6 351.8,234.0 352.2,232.4 352.5,230.9 352.9,229.4 353.3,227.9 353.7,226.3 354.1,224.7 354.5,223.1 354.9,221.7 355.3,220.3 355.7,219.2 356.1,218.4 356.5,217.8 356.9,217.5" stroke="#9467bd"/>
</g>
<rect x="214.50" y="182.00" width="142.40" height="105.75" fill="none" stroke="#8c8c8c" stroke-width="1.0"/>
<path d="M214.50 287.75v2M226.37 287.75v2M238.23 287.75v2M250.10 287.75v2M261.97 287.75v2M273.83 287.75v2M285.70 287.75v2M297.57 287.75v2M309.43 287.75v2M321.30 287.75v2M333.17 287.75v2M345.03 287.75v2M356.90 287.75v2M214.50 287.75h-2M214.50 268.52h-2M214.50 249.30h-2M214.50 230.07h-2M214.50 210.84h-2M214.50 191.61h-2" stroke="#777" stroke-width="0.6" fill="none"/>
<text x="211.40" y="290.60" font-size="8.16" text-anchor="end" fill="#222222" stroke="#222222" stroke-width="0.1" textLength="10.49" lengthAdjust="spacingAndGlyphs">0.0</text>
<text x="211.40" y="271.37" font-size="8.16" text-anchor="end" fill="#222222" stroke="#222222" stroke-width="0.1" textLength="10.49" lengthAdjust="spacingAndGlyphs">0.2</text>
<text x="211.40" y="252.15" font-size="8.16" text-anchor="end" fill="#222222" stroke="#222222" stroke-width="0.1" textLength="10.49" lengthAdjust="spacingAndGlyphs">0.4</text>
<text x="211.40" y="232.92" font-size="8.16" text-anchor="end" fill="#222222" stroke="#222222" stroke-width="0.1" textLength="10.49" lengthAdjust="spacingAndGlyphs">0.6</text>
<text x="211.40" y="213.69" font-size="8.16" text-anchor="end" fill="#222222" stroke="#222222" stroke-width="0.1" textLength="10.49" lengthAdjust="spacingAndGlyphs">0.8</text>
<text x="211.40" y="194.46" font-size="8.16" text-anchor="end" fill="#222222" stroke="#222222" stroke-width="0.1" textLength="10.49" lengthAdjust="spacingAndGlyphs">1.0</text>
<g transform="translate(214.00,294.24) rotate(-30)"><text x="0.00" y="2.59" font-size="8.16" text-anchor="middle" fill="#222222" stroke="#222222" stroke-width="0.1" textLength="4.52" lengthAdjust="spacingAndGlyphs">0</text></g>
<g transform="translate(225.87,295.37) rotate(-30)"><text x="0.00" y="2.59" font-size="8.16" text-anchor="middle" fill="#222222" stroke="#222222" stroke-width="0.1" textLength="9.03" lengthAdjust="spacingAndGlyphs">30</text></g>
<g transform="translate(237.73,295.37) rotate(-30)"><text x="0.00" y="2.59" font-size="8.16" text-anchor="middle" fill="#222222" stroke="#222222" stroke-width="0.1" textLength="9.03" lengthAdjust="spacingAndGlyphs">60</text></g>
<g transform="translate(249.60,295.37) rotate(-30)"><text x="0.00" y="2.59" font-size="8.16" text-anchor="middle" fill="#222222" stroke="#222222" stroke-width="0.1" textLength="9.03" lengthAdjust="spacingAndGlyphs">90</text></g>
<g transform="translate(261.47,296.50) rotate(-30)"><text x="0.00" y="2.59" font-size="8.16" text-anchor="middle" fill="#222222" stroke="#222222" stroke-width="0.1" textLength="13.55" lengthAdjust="spacingAndGlyphs">120</text></g>
<g transform="translate(273.33,296.50) rotate(-30)"><text x="0.00" y="2.59" font-size="8.16" text-anchor="middle" fill="#222222" stroke="#222222" stroke-width="0.1" textLength="13.55" lengthAdjust="spacingAndGlyphs">150</text></g>
<g transform="translate(285.20,296.50) rotate(-30)"><text x="0.00" y="2.59" font-size="8.16" text-anchor="middle" fill="#222222" stroke="#222222" stroke-width="0.1" textLength="13.55" lengthAdjust="spacingAndGlyphs">180</text></g>
<g transform="translate(297.07,296.50) rotate(-30)"><text x="0.00" y="2.59" font-size="8.16" text-anchor="middle" fill="#222222" stroke="#222222" stroke-width="0.1" textLength="13.55" lengthAdjust="spacingAndGlyphs">210</text></g>
<g transform="translate(308.93,296.50) rotate(-30)"><text x="0.00" y="2.59" font-size="8.16" text-anchor="middle" fill="#222222" stroke="#222222" stroke-width="0.1" textLength="13.55" lengthAdjust="spacingAndGlyphs">240</text></g>
<g transform="translate(320.80,296.50) rotate(-30)"><text x="0.00" y="2.59" font-size="8.16" text-anchor="middle" fill="#222222" stroke="#222222" stroke-width="0.1" textLength="13.55" lengthAdjust="spacingAndGlyphs">270</text></g>
<g transform="translate(332.67,296.50) rotate(-30)"><text x="0.00" y="2.59" font-size="8.16" text-anchor="middle" fill="#222222" stroke="#222222" stroke-width="0.1" textLength="13.55" lengthAdjust="spacingAndGlyphs">300</text></g>
<g transform="translate(344.53,296.50) rotate(-30)"><text x="0.00" y="2.59" font-size="8.16" text-anchor="middle" fill="#222222" stroke="#222222" stroke-width="0.1" textLength="13.55" lengthAdjust="spacingAndGlyphs">330</text></g>
<g transform="translate(356.40,296.50) rotate(-30)"><text x="0.00" y="2.59" font-size="8.16" text-anchor="middle" fill="#222222" stroke="#222222" stroke-width="0.1" textLength="13.55" lengthAdjust="spacingAndGlyphs">360</text></g>
<text x="285.70" y="310.60" font-size="8.16" text-anchor="middle" fill="#222222" stroke="#222222" stroke-width="0.1" textLength="95.60" lengthAdjust="spacingAndGlyphs">Relative Azimuth Angle [°]</text>
<g transform="translate(196.10,288.02) rotate(-90)"><text x="0.00" y="-0.00" font-size="8.33" fill="#222222" stroke="#222222" stroke-width="0.10" textLength="2.83" lengthAdjust="spacingAndGlyphs">(</text><text x="2.84" y="-0.00" font-size="8.33" fill="#222222" stroke="#222222" stroke-width="0.10" textLength="4.62" lengthAdjust="spacingAndGlyphs">1</text><text x="7.47" y="-0.00" font-size="8.33" fill="#222222" stroke="#222222" stroke-width="0.10" textLength="2.45" lengthAdjust="spacingAndGlyphs">/</text><text x="9.93" y="-0.00" font-size="8.33" fill="#222222" stroke="#222222" stroke-width="0.10" textLength="2.83" lengthAdjust="spacingAndGlyphs">(</text><text x="12.77" y="-0.00" font-size="8.33" font-style="italic" fill="#222222" stroke="#222222" stroke-width="0.10" textLength="4.76" lengthAdjust="spacingAndGlyphs">K</text><text x="17.55" y="1.15" font-size="5.83" font-style="italic" fill="#222222" stroke="#222222" stroke-width="0.07" textLength="3.22" lengthAdjust="spacingAndGlyphs">p</text><text x="22.40" y="-0.00" font-size="8.33" fill="#222222" stroke="#222222" stroke-width="0.10" textLength="3.63" lengthAdjust="spacingAndGlyphs">*</text><text x="27.46" y="-0.31" font-size="8.33" font-style="italic" fill="#222222" stroke="#222222" stroke-width="0.10" textLength="4.60" lengthAdjust="spacingAndGlyphs">σ</text><text x="32.39" y="-2.99" font-size="5.83" fill="#222222" stroke="#222222" stroke-width="0.07" textLength="3.23" lengthAdjust="spacingAndGlyphs">0</text><text x="35.83" y="-0.00" font-size="8.33" fill="#222222" stroke="#222222" stroke-width="0.10" textLength="2.83" lengthAdjust="spacingAndGlyphs">)</text><text x="40.09" y="-0.00" font-size="8.33" fill="#222222" stroke="#222222" stroke-width="0.10" textLength="3.63" lengthAdjust="spacingAndGlyphs">*</text><text x="45.15" y="-0.00" font-size="8.33" fill="#222222" stroke="#222222" stroke-width="0.10" textLength="3.75" lengthAdjust="spacingAndGlyphs">∂</text><text x="48.92" y="-0.00" font-size="8.33" font-style="italic" fill="#222222" stroke="#222222" stroke-width="0.10" textLength="4.60" lengthAdjust="spacingAndGlyphs">σ</text><text x="53.85" y="-2.68" font-size="5.83" fill="#222222" stroke="#222222" stroke-width="0.07" textLength="3.23" lengthAdjust="spacingAndGlyphs">0</text><text x="57.29" y="-0.00" font-size="8.33" fill="#222222" stroke="#222222" stroke-width="0.10" textLength="2.45" lengthAdjust="spacingAndGlyphs">/</text><text x="59.74" y="-0.00" font-size="8.33" fill="#222222" stroke="#222222" stroke-width="0.10" textLength="3.75" lengthAdjust="spacingAndGlyphs">∂</text><text x="63.51" y="-0.00" font-size="8.33" font-style="italic" fill="#222222" stroke="#222222" stroke-width="0.10" textLength="4.79" lengthAdjust="spacingAndGlyphs">ϕ</text><text x="68.31" y="1.15" font-size="5.83" font-style="italic" fill="#222222" stroke="#222222" stroke-width="0.07" textLength="3.22" lengthAdjust="spacingAndGlyphs">u</text><text x="71.74" y="-0.00" font-size="8.33" fill="#222222" stroke="#222222" stroke-width="0.10" textLength="2.83" lengthAdjust="spacingAndGlyphs">)</text><text x="74.65" y="-2.68" font-size="5.83" fill="#222222" stroke="#222222" stroke-width="0.07" textLength="3.23" lengthAdjust="spacingAndGlyphs">2</text><text x="78.09" y="-0.00" font-size="8.33" fill="#222222" stroke="#222222" stroke-width="0.10" textLength="2.83" lengthAdjust="spacingAndGlyphs">[</text><text x="80.93" y="-0.00" font-size="8.33" font-style="italic" fill="#222222" stroke="#222222" stroke-width="0.10" textLength="4.61" lengthAdjust="spacingAndGlyphs">d</text><text x="85.55" y="-0.00" font-size="8.33" font-style="italic" fill="#222222" stroke="#222222" stroke-width="0.10" textLength="4.46" lengthAdjust="spacingAndGlyphs">e</text><text x="90.03" y="-0.00" font-size="8.33" font-style="italic" fill="#222222" stroke="#222222" stroke-width="0.10" textLength="4.61" lengthAdjust="spacingAndGlyphs">g</text><text x="94.99" y="-2.68" font-size="5.83" fill="#222222" stroke="#222222" stroke-width="0.07" textLength="4.26" lengthAdjust="spacingAndGlyphs">−</text><text x="99.26" y="-2.68" font-size="5.83" fill="#222222" stroke="#222222" stroke-width="0.07" textLength="3.23" lengthAdjust="spacingAndGlyphs">2</text><text x="102.70" y="-0.00" font-size="8.33" fill="#222222" stroke="#222222" stroke-width="0.10" textLength="2.83" lengthAdjust="spacingAndGlyphs">]</text><rect x="27.46" y="-7.64" width="8.37" height="0.50" fill="#222222"/></g>
<text x="285.70" y="179.20" font-size="9.80" text-anchor="middle" fill="#222222" stroke="#222222" stroke-width="0.1" textLength="97.12" lengthAdjust="spacingAndGlyphs">Cell: mid; WSpd:&#160; 9m/s</text>
<path d="M409.52 182.00V287.75M421.38 182.00V287.75M433.25 182.00V287.75M445.12 182.00V287.75M456.98 182.00V287.75M468.85 182.00V287.75M480.72 182.00V287.75M492.58 182.00V287.75M504.45 182.00V287.75M516.32 182.00V287.75M528.18 182.00V287.75M397.65 268.52H540.05M397.65 249.30H540.05M397.65 230.07H540.05M397.65 210.84H540.05M397.65 191.61H540.05" stroke="#dddddd" stroke-width="1.0" fill="none"/>
<clipPath id="c6"><rect x="397.65" y="182.00" width="142.40" height="105.75"/></clipPath>
<g clip-path="url(#c6)" fill="none" stroke-width="0.85" stroke-linejoin="round" stroke-linecap="round" stroke-opacity="1">
<polyline points="397.6,235.2 398.0,234.8 398.4,234.7 398.8,235.0 399.2,235.7 399.6,236.6 400.0,237.8 400.4,239.1 400.8,240.6 401.2,242.2 401.6,243.9 402.0,245.7 402.4,247.4 402.8,249.2 403.2,250.8 403.6,252.4 404.0,253.9 404.4,255.3 404.8,256.8 405.2,258.2 405.6,259.6 406.0,260.9 406.4,262.3 406.7,263.6 407.1,264.9 407.5,266.1 407.9,267.3 408.3,268.5 408.7,269.6 409.1,270.6 409.5,271.7 409.9,272.7 410.3,273.6 410.7,274.6 411.1,275.5 411.5,276.4 411.9,277.3 412.3,278.2 412.7,279.1 413.1,280.0 413.5,280.9 413.9,281.9 414.3,282.9 414.7,283.8 415.1,284.7 415.4,285.5 415.8,286.2 416.2,286.7 416.6,287.2 417.0,287.5 417.4,287.6 417.8,287.6 418.2,287.4 418.6,287.2 419.0,286.9 419.4,286.5 419.8,286.0 420.2,285.5 420.6,284.9 421.0,284.2 421.4,283.5 421.8,282.7 422.2,282.0 422.6,281.1 423.0,280.3 423.4,279.4 423.8,278.5 424.2,277.4 424.5,276.2 424.9,274.9 425.3,273.4 425.7,271.9 426.1,270.4 426.5,268.9 426.9,267.6 427.3,266.4 427.7,265.2 428.1,264.1 428.5,262.9 428.9,261.6 429.3,260.2 429.7,258.6 430.1,256.7 430.5,254.6 430.9,252.5 431.3,250.5 431.7,248.7 432.1,247.0 432.5,245.5 432.9,244.1 433.2,242.8 433.6,241.6 434.0,240.6 434.4,239.7 434.8,238.9 435.2,238.1 435.6,237.4 436.0,236.7 436.4,236.1 436.8,235.7 437.2,235.4 437.6,235.3 438.0,235.5 438.4,236.1 438.8,237.1 439.2,238.5 439.6,240.1 440.0,242.0 440.4,243.9 440.8,245.8 441.2,247.6 441.6,249.3 442.0,251.0 442.3,252.6 442.7,254.2 443.1,255.8 443.5,257.3 443.9,258.9 444.3,260.4 444.7,261.8 445.1,263.3 445.5,264.7 445.9,266.1 446.3,267.5 446.7,269.0 447.1,270.5 447.5,272.0 447.9,273.5 448.3,275.0 448.7,276.5 449.1,277.8 449.5,279.0 449.9,280.2 450.3,281.4 450.7,282.5 451.0,283.6 451.4,284.7 451.8,285.6 452.2,286.4 452.6,287.0 453.0,287.3 453.4,287.5 453.8,287.5 454.2,287.4 454.6,287.1 455.0,286.8 455.4,286.3 455.8,285.8 456.2,285.2 456.6,284.6 457.0,284.0 457.4,283.3 457.8,282.6 458.2,281.9 458.6,281.1 459.0,280.2 459.4,279.1 459.8,278.0 460.1,276.8 460.5,275.6 460.9,274.3 461.3,273.1 461.7,271.9 462.1,270.7 462.5,269.7 462.9,268.7 463.3,267.7 463.7,266.8 464.1,265.9 464.5,264.9 464.9,264.0 465.3,263.1 465.7,262.2 466.1,261.4 466.5,260.6 466.9,259.9 467.3,259.3 467.7,258.8 468.1,258.4 468.5,258.1 468.8,258.0 469.2,258.0 469.6,258.1 470.0,258.5 470.4,259.0 470.8,259.6 471.2,260.4 471.6,261.3 472.0,262.2 472.4,263.2 472.8,264.3 473.2,265.3 473.6,266.4 474.0,267.5 474.4,268.6 474.8,269.7 475.2,271.0 475.6,272.3 476.0,273.7 476.4,275.1 476.8,276.4 477.2,277.7 477.6,278.9 477.9,280.0 478.3,281.0 478.7,281.9 479.1,282.9 479.5,283.8 479.9,284.7 480.3,285.5 480.7,286.2 481.1,286.7 481.5,287.2 481.9,287.5 482.3,287.6 482.7,287.7 483.1,287.7 483.5,287.7 483.9,287.7 484.3,287.7 484.7,287.8 485.1,287.8 485.5,287.8 485.9,287.8 486.3,287.8 486.6,287.8 487.0,287.8 487.4,287.8 487.8,287.8 488.2,287.8 488.6,287.8 489.0,287.8 489.4,287.8 489.8,287.7 490.2,287.7 490.6,287.7 491.0,287.7 491.4,287.7 491.8,287.6 492.2,287.3 492.6,286.9 493.0,286.2 493.4,285.4 493.8,284.4 494.2,283.4 494.6,282.3 495.0,281.2 495.4,280.0 495.7,278.8 496.1,277.5 496.5,276.1 496.9,274.7 497.3,273.2 497.7,271.8 498.1,270.6 498.5,269.4 498.9,268.3 499.3,267.4 499.7,266.5 500.1,265.6 500.5,264.8 500.9,264.0 501.3,263.2 501.7,262.5 502.1,261.8 502.5,261.2 502.9,260.6 503.3,260.1 503.7,259.7 504.1,259.3 504.4,259.0 504.8,258.8 505.2,258.5 505.6,258.3 506.0,258.1 506.4,258.0 506.8,257.8 507.2,257.7 507.6,257.5 508.0,257.5 508.4,257.4 508.8,257.4 509.2,257.4 509.6,257.5 510.0,257.8 510.4,258.3 510.8,258.9 511.2,259.7 511.6,260.6 512.0,261.6 512.4,262.7 512.8,263.8 513.2,264.9 513.5,266.1 513.9,267.2 514.3,268.3 514.7,269.5 515.1,270.8 515.5,272.1 515.9,273.5 516.3,274.9 516.7,276.2 517.1,277.6 517.5,278.8 517.9,279.9 518.3,280.9 518.7,281.8 519.1,282.7 519.5,283.5 519.9,284.3 520.3,285.1 520.7,285.8 521.1,286.4 521.5,286.9 521.9,287.2 522.2,287.5 522.6,287.5 523.0,287.4 523.4,287.1 523.8,286.7 524.2,286.1 524.6,285.4 525.0,284.6 525.4,283.7 525.8,282.8 526.2,281.9 526.6,281.0 527.0,280.1 527.4,279.2 527.8,278.3 528.2,277.4 528.6,276.4 529.0,275.5 529.4,274.4 529.8,273.4 530.2,272.2 530.6,271.1 531.0,269.8 531.3,268.5 531.7,267.1 532.1,265.5 532.5,263.8 532.9,262.0 533.3,260.1 533.7,258.2 534.1,256.3 534.5,254.4 534.9,252.6 535.3,250.9 535.7,249.4 536.1,247.8 536.5,246.3 536.9,244.8 537.3,243.3 537.7,241.8 538.1,240.3 538.5,239.0 538.9,237.8 539.3,236.7 539.7,235.8 540.0,235.2" stroke="#1f77b4"/>
<polyline points="397.6,257.6 398.0,257.7 398.4,258.0 398.8,258.5 399.2,259.1 399.6,259.9 400.0,260.8 400.4,261.7 400.8,262.8 401.2,263.8 401.6,264.9 402.0,266.0 402.4,267.0 402.8,268.0 403.2,269.0 403.6,270.0 404.0,271.1 404.4,272.1 404.8,273.2 405.2,274.3 405.6,275.3 406.0,276.3 406.4,277.2 406.7,278.1 407.1,278.9 407.5,279.7 407.9,280.6 408.3,281.4 408.7,282.2 409.1,283.0 409.5,283.7 409.9,284.4 410.3,285.1 410.7,285.7 411.1,286.3 411.5,286.7 411.9,287.1 412.3,287.4 412.7,287.5 413.1,287.6 413.5,287.5 413.9,287.2 414.3,286.8 414.7,286.2 415.1,285.5 415.4,284.6 415.8,283.6 416.2,282.5 416.6,281.3 417.0,280.1 417.4,278.7 417.8,277.3 418.2,275.8 418.6,274.4 419.0,272.8 419.4,271.3 419.8,269.7 420.2,267.9 420.6,265.9 421.0,263.7 421.4,261.2 421.8,258.7 422.2,256.2 422.6,253.8 423.0,251.7 423.4,249.9 423.8,248.4 424.2,247.0 424.5,245.8 424.9,244.6 425.3,243.4 425.7,242.3 426.1,241.2 426.5,240.2 426.9,239.2 427.3,238.4 427.7,237.6 428.1,236.9 428.5,236.3 428.9,235.8 429.3,235.5 429.7,235.3 430.1,235.2 430.5,235.3 430.9,235.6 431.3,236.1 431.7,236.9 432.1,237.8 432.5,238.8 432.9,240.0 433.2,241.3 433.6,242.6 434.0,244.0 434.4,245.4 434.8,246.8 435.2,248.1 435.6,249.4 436.0,250.8 436.4,252.2 436.8,253.7 437.2,255.2 437.6,256.8 438.0,258.4 438.4,260.0 438.8,261.6 439.2,263.2 439.6,264.7 440.0,266.1 440.4,267.4 440.8,268.7 441.2,270.0 441.6,271.2 442.0,272.5 442.3,273.8 442.7,275.1 443.1,276.3 443.5,277.6 443.9,278.8 444.3,280.0 444.7,281.2 445.1,282.2 445.5,283.3 445.9,284.2 446.3,285.0 446.7,285.8 447.1,286.4 447.5,286.9 447.9,287.3 448.3,287.5 448.7,287.6 449.1,287.6 449.5,287.5 449.9,287.2 450.3,286.9 450.7,286.5 451.0,286.0 451.4,285.5 451.8,284.9 452.2,284.2 452.6,283.4 453.0,282.6 453.4,281.8 453.8,280.9 454.2,279.9 454.6,279.0 455.0,278.0 455.4,276.9 455.8,275.8 456.2,274.8 456.6,273.7 457.0,272.6 457.4,271.4 457.8,270.3 458.2,269.1 458.6,267.9 459.0,266.5 459.4,265.0 459.8,263.4 460.1,261.6 460.5,259.8 460.9,257.9 461.3,256.1 461.7,254.3 462.1,252.6 462.5,251.0 462.9,249.5 463.3,248.1 463.7,246.7 464.1,245.3 464.5,244.0 464.9,242.6 465.3,241.3 465.7,240.0 466.1,238.7 466.5,237.6 466.9,236.6 467.3,235.6 467.7,234.9 468.1,234.3 468.5,233.8 468.8,233.6 469.2,233.6 469.6,233.8 470.0,234.1 470.4,234.6 470.8,235.3 471.2,236.2 471.6,237.1 472.0,238.2 472.4,239.4 472.8,240.6 473.2,241.9 473.6,243.3 474.0,244.7 474.4,246.1 474.8,247.5 475.2,249.0 475.6,250.5 476.0,252.3 476.4,254.1 476.8,256.2 477.2,258.3 477.6,260.4 477.9,262.5 478.3,264.5 478.7,266.3 479.1,268.1 479.5,269.7 479.9,271.3 480.3,272.8 480.7,274.4 481.1,275.9 481.5,277.4 481.9,278.9 482.3,280.3 482.7,281.7 483.1,282.9 483.5,284.0 483.9,285.0 484.3,285.9 484.7,286.6 485.1,287.1 485.5,287.4 485.9,287.5 486.3,287.5 486.6,287.3 487.0,286.9 487.4,286.4 487.8,285.8 488.2,285.0 488.6,284.2 489.0,283.3 489.4,282.3 489.8,281.2 490.2,280.1 490.6,279.0 491.0,277.9 491.4,276.7 491.8,275.6 492.2,274.4 492.6,273.3 493.0,272.2 493.4,271.2 493.8,270.3 494.2,269.4 494.6,268.5 495.0,267.7 495.4,266.9 495.7,266.1 496.1,265.2 496.5,264.4 496.9,263.5 497.3,262.7 497.7,261.9 498.1,261.1 498.5,260.3 498.9,259.7 499.3,259.1 499.7,258.5 500.1,258.1 500.5,257.8 500.9,257.5 501.3,257.4 501.7,257.5 502.1,257.7 502.5,258.1 502.9,258.5 503.3,259.2 503.7,259.9 504.1,260.7 504.4,261.5 504.8,262.4 505.2,263.3 505.6,264.3 506.0,265.2 506.4,266.1 506.8,267.0 507.2,267.8 507.6,268.6 508.0,269.3 508.4,270.1 508.8,270.9 509.2,271.7 509.6,272.5 510.0,273.4 510.4,274.2 510.8,275.1 511.2,276.0 511.6,276.8 512.0,277.7 512.4,278.6 512.8,279.4 513.2,280.3 513.5,281.1 513.9,281.9 514.3,282.6 514.7,283.3 515.1,284.0 515.5,284.6 515.9,285.2 516.3,285.8 516.7,286.2 517.1,286.7 517.5,287.0 517.9,287.3 518.3,287.5 518.7,287.6 519.1,287.7 519.5,287.7 519.9,287.6 520.3,287.5 520.7,287.4 521.1,287.2 521.5,287.0 521.9,286.8 522.2,286.5 522.6,286.2 523.0,285.9 523.4,285.5 523.8,285.1 524.2,284.7 524.6,284.3 525.0,283.8 525.4,283.3 525.8,282.8 526.2,282.3 526.6,281.8 527.0,281.2 527.4,280.6 527.8,280.1 528.2,279.5 528.6,278.8 529.0,278.2 529.4,277.6 529.8,276.9 530.2,276.3 530.6,275.6 531.0,275.0 531.3,274.3 531.7,273.6 532.1,273.0 532.5,272.3 532.9,271.6 533.3,271.0 533.7,270.3 534.1,269.6 534.5,268.9 534.9,268.2 535.3,267.4 535.7,266.5 536.1,265.5 536.5,264.5 536.9,263.4 537.3,262.3 537.7,261.3 538.1,260.3 538.5,259.4 538.9,258.7 539.3,258.1 539.7,257.8 540.0,257.6" stroke="#ff7f0e"/>
<polyline points="397.6,287.6 398.0,287.6 398.4,287.5 398.8,287.4 399.2,287.2 399.6,286.9 400.0,286.6 400.4,286.1 400.8,285.7 401.2,285.2 401.6,284.6 402.0,284.0 402.4,283.3 402.8,282.7 403.2,282.0 403.6,281.3 404.0,280.6 404.4,279.9 404.8,279.2 405.2,278.5 405.6,277.7 406.0,277.0 406.4,276.1 406.7,275.2 407.1,274.3 407.5,273.3 407.9,272.4 408.3,271.5 408.7,270.6 409.1,269.8 409.5,269.1 409.9,268.4 410.3,267.8 410.7,267.2 411.1,266.7 411.5,266.2 411.9,265.7 412.3,265.3 412.7,264.9 413.1,264.6 413.5,264.4 413.9,264.3 414.3,264.2 414.7,264.3 415.1,264.4 415.4,264.5 415.8,264.7 416.2,264.9 416.6,265.2 417.0,265.5 417.4,265.8 417.8,266.2 418.2,266.6 418.6,267.0 419.0,267.4 419.4,267.9 419.8,268.5 420.2,269.2 420.6,270.0 421.0,271.0 421.4,272.1 421.8,273.3 422.2,274.5 422.6,275.6 423.0,276.6 423.4,277.5 423.8,278.3 424.2,279.0 424.5,279.7 424.9,280.3 425.3,280.9 425.7,281.4 426.1,282.0 426.5,282.5 426.9,283.1 427.3,283.6 427.7,284.0 428.1,284.5 428.5,284.9 428.9,285.3 429.3,285.7 429.7,286.1 430.1,286.4 430.5,286.7 430.9,286.9 431.3,287.1 431.7,287.3 432.1,287.5 432.5,287.6 432.9,287.6 433.2,287.7 433.6,287.6 434.0,287.6 434.4,287.4 434.8,287.3 435.2,287.1 435.6,286.8 436.0,286.5 436.4,286.2 436.8,285.8 437.2,285.4 437.6,285.0 438.0,284.5 438.4,284.0 438.8,283.5 439.2,283.0 439.6,282.4 440.0,281.8 440.4,281.2 440.8,280.6 441.2,280.0 441.6,279.4 442.0,278.7 442.3,278.1 442.7,277.4 443.1,276.8 443.5,276.1 443.9,275.5 444.3,274.8 444.7,274.2 445.1,273.6 445.5,272.9 445.9,272.3 446.3,271.7 446.7,271.1 447.1,270.6 447.5,270.0 447.9,269.5 448.3,269.0 448.7,268.5 449.1,268.0 449.5,267.5 449.9,266.9 450.3,266.4 450.7,265.9 451.0,265.4 451.4,264.9 451.8,264.5 452.2,264.2 452.6,264.1 453.0,264.0 453.4,264.0 453.8,264.1 454.2,264.3 454.6,264.6 455.0,265.0 455.4,265.5 455.8,266.0 456.2,266.5 456.6,267.0 457.0,267.6 457.4,268.1 457.8,268.7 458.2,269.3 458.6,270.0 459.0,270.7 459.4,271.5 459.8,272.3 460.1,273.2 460.5,274.1 460.9,275.0 461.3,276.0 461.7,277.0 462.1,277.9 462.5,278.9 462.9,279.9 463.3,280.8 463.7,281.7 464.1,282.6 464.5,283.4 464.9,284.2 465.3,284.9 465.7,285.6 466.1,286.1 466.5,286.6 466.9,287.0 467.3,287.3 467.7,287.5 468.1,287.6 468.5,287.6 468.8,287.6 469.2,287.5 469.6,287.4 470.0,287.3 470.4,287.1 470.8,286.9 471.2,286.7 471.6,286.5 472.0,286.2 472.4,286.0 472.8,285.7 473.2,285.4 473.6,285.1 474.0,284.7 474.4,284.4 474.8,284.0 475.2,283.7 475.6,283.3 476.0,282.9 476.4,282.6 476.8,282.2 477.2,281.8 477.6,281.4 477.9,281.1 478.3,280.7 478.7,280.4 479.1,280.0 479.5,279.7 479.9,279.4 480.3,279.0 480.7,278.8 481.1,278.5 481.5,278.2 481.9,278.0 482.3,277.8 482.7,277.6 483.1,277.4 483.5,277.2 483.9,277.1 484.3,277.0 484.7,277.0 485.1,277.0 485.5,277.0 485.9,277.0 486.3,277.0 486.6,277.1 487.0,277.2 487.4,277.4 487.8,277.5 488.2,277.7 488.6,277.9 489.0,278.1 489.4,278.4 489.8,278.6 490.2,278.9 490.6,279.2 491.0,279.5 491.4,279.8 491.8,280.1 492.2,280.4 492.6,280.7 493.0,281.1 493.4,281.4 493.8,281.7 494.2,282.1 494.6,282.4 495.0,282.8 495.4,283.1 495.7,283.5 496.1,283.8 496.5,284.1 496.9,284.5 497.3,284.8 497.7,285.1 498.1,285.4 498.5,285.7 498.9,285.9 499.3,286.2 499.7,286.4 500.1,286.7 500.5,286.9 500.9,287.0 501.3,287.2 501.7,287.4 502.1,287.5 502.5,287.6 502.9,287.6 503.3,287.7 503.7,287.7 504.1,287.7 504.4,287.7 504.8,287.6 505.2,287.5 505.6,287.5 506.0,287.4 506.4,287.2 506.8,287.1 507.2,286.9 507.6,286.8 508.0,286.6 508.4,286.4 508.8,286.2 509.2,286.0 509.6,285.7 510.0,285.5 510.4,285.3 510.8,285.0 511.2,284.7 511.6,284.5 512.0,284.2 512.4,283.9 512.8,283.6 513.2,283.3 513.5,283.0 513.9,282.7 514.3,282.5 514.7,282.2 515.1,281.9 515.5,281.6 515.9,281.3 516.3,281.0 516.7,280.7 517.1,280.4 517.5,280.1 517.9,279.9 518.3,279.6 518.7,279.4 519.1,279.1 519.5,278.9 519.9,278.6 520.3,278.4 520.7,278.2 521.1,278.0 521.5,277.8 521.9,277.7 522.2,277.5 522.6,277.4 523.0,277.3 523.4,277.2 523.8,277.1 524.2,277.0 524.6,277.0 525.0,276.9 525.4,277.0 525.8,277.0 526.2,277.1 526.6,277.2 527.0,277.3 527.4,277.5 527.8,277.7 528.2,277.9 528.6,278.2 529.0,278.5 529.4,278.8 529.8,279.2 530.2,279.5 530.6,279.9 531.0,280.3 531.3,280.7 531.7,281.1 532.1,281.5 532.5,281.9 532.9,282.3 533.3,282.8 533.7,283.2 534.1,283.6 534.5,284.0 534.9,284.4 535.3,284.8 535.7,285.2 536.1,285.5 536.5,285.9 536.9,286.2 537.3,286.5 537.7,286.7 538.1,287.0 538.5,287.2 538.9,287.3 539.3,287.5 539.7,287.6 540.0,287.6" stroke="#2ca02c"/>
<polyline points="397.6,204.4 398.0,203.9 398.4,203.9 398.8,204.4 399.2,205.2 399.6,206.3 400.0,207.7 400.4,209.3 400.8,211.2 401.2,213.4 401.6,216.1 402.0,219.0 402.4,222.3 402.8,225.7 403.2,229.1 403.6,232.4 404.0,235.5 404.4,238.4 404.8,241.0 405.2,243.4 405.6,245.8 406.0,248.3 406.4,251.1 406.7,254.1 407.1,257.2 407.5,260.5 407.9,263.5 408.3,266.3 408.7,268.9 409.1,271.2 409.5,273.4 409.9,275.3 410.3,277.0 410.7,278.4 411.1,279.6 411.5,280.6 411.9,281.5 412.3,282.2 412.7,282.8 413.1,283.3 413.5,283.7 413.9,284.0 414.3,284.1 414.7,284.2 415.1,284.1 415.4,284.0 415.8,283.8 416.2,283.6 416.6,283.2 417.0,282.8 417.4,282.4 417.8,281.9 418.2,281.3 418.6,280.6 419.0,279.8 419.4,278.7 419.8,277.2 420.2,274.9 420.6,272.0 421.0,268.7 421.4,265.3 421.8,262.0 422.2,258.9 422.6,255.9 423.0,253.2 423.4,250.6 423.8,248.3 424.2,246.2 424.5,244.3 424.9,242.3 425.3,240.3 425.7,238.1 426.1,235.6 426.5,232.7 426.9,229.3 427.3,225.6 427.7,221.8 428.1,218.2 428.5,215.0 428.9,212.3 429.3,210.0 429.7,208.0 430.1,206.0 430.5,204.2 430.9,202.4 431.3,200.7 431.7,199.2 432.1,197.9 432.5,196.7 432.9,195.8 433.2,195.3 433.6,195.2 434.0,195.5 434.4,196.0 434.8,196.9 435.2,197.9 435.6,199.3 436.0,200.8 436.4,202.5 436.8,204.1 437.2,205.9 437.6,207.8 438.0,209.8 438.4,212.0 438.8,214.6 439.2,217.7 439.6,221.3 440.0,225.3 440.4,229.5 440.8,233.6 441.2,237.3 441.6,240.8 442.0,244.0 442.3,247.1 442.7,250.0 443.1,252.7 443.5,255.3 443.9,257.8 444.3,260.0 444.7,262.1 445.1,264.0 445.5,265.8 445.9,267.5 446.3,269.1 446.7,270.7 447.1,272.2 447.5,273.6 447.9,275.0 448.3,276.3 448.7,277.5 449.1,278.7 449.5,279.8 449.9,280.8 450.3,281.8 450.7,282.7 451.0,283.4 451.4,284.1 451.8,284.6 452.2,285.0 452.6,285.2 453.0,285.3 453.4,285.1 453.8,284.9 454.2,284.4 454.6,283.8 455.0,283.1 455.4,282.3 455.8,281.3 456.2,280.3 456.6,279.1 457.0,277.9 457.4,276.5 457.8,275.1 458.2,273.6 458.6,272.0 459.0,270.2 459.4,268.4 459.8,266.3 460.1,264.1 460.5,261.5 460.9,258.5 461.3,255.1 461.7,251.4 462.1,247.6 462.5,243.8 462.9,240.2 463.3,236.9 463.7,233.9 464.1,231.1 464.5,228.3 464.9,225.6 465.3,223.0 465.7,220.5 466.1,218.0 466.5,215.7 466.9,213.5 467.3,211.4 467.7,209.4 468.1,207.5 468.5,205.9 468.8,204.7 469.2,204.0 469.6,203.9 470.0,204.2 470.4,204.9 470.8,205.8 471.2,207.0 471.6,208.5 472.0,210.3 472.4,212.4 472.8,214.8 473.2,217.5 473.6,220.1 474.0,222.5 474.4,224.6 474.8,226.6 475.2,228.5 475.6,230.6 476.0,232.9 476.4,235.6 476.8,238.5 477.2,241.6 477.6,244.7 477.9,247.9 478.3,250.9 478.7,253.8 479.1,256.4 479.5,258.9 479.9,261.3 480.3,263.6 480.7,265.9 481.1,268.1 481.5,270.3 481.9,272.4 482.3,274.4 482.7,276.4 483.1,278.2 483.5,279.8 483.9,281.4 484.3,282.7 484.7,283.9 485.1,284.9 485.5,285.7 485.9,286.3 486.3,286.7 486.6,286.9 487.0,287.1 487.4,287.1 487.8,287.0 488.2,286.7 488.6,286.4 489.0,286.0 489.4,285.5 489.8,284.9 490.2,284.2 490.6,283.3 491.0,282.4 491.4,281.4 491.8,280.3 492.2,279.2 492.6,278.0 493.0,276.8 493.4,275.6 493.8,274.3 494.2,272.9 494.6,271.5 495.0,270.0 495.4,268.5 495.7,266.9 496.1,265.2 496.5,263.5 496.9,261.8 497.3,260.1 497.7,258.4 498.1,256.8 498.5,255.2 498.9,253.6 499.3,252.1 499.7,250.6 500.1,249.2 500.5,247.7 500.9,246.3 501.3,244.9 501.7,243.6 502.1,242.4 502.5,241.4 502.9,240.6 503.3,239.9 503.7,239.4 504.1,239.1 504.4,238.9 504.8,238.8 505.2,238.9 505.6,239.0 506.0,239.3 506.4,239.6 506.8,240.0 507.2,240.6 507.6,241.2 508.0,242.0 508.4,242.9 508.8,243.8 509.2,244.9 509.6,246.0 510.0,247.1 510.4,248.3 510.8,249.5 511.2,250.8 511.6,252.0 512.0,253.3 512.4,254.7 512.8,256.2 513.2,257.7 513.5,259.4 513.9,261.1 514.3,262.9 514.7,264.8 515.1,266.6 515.5,268.5 515.9,270.3 516.3,272.2 516.7,274.0 517.1,275.7 517.5,277.3 517.9,278.9 518.3,280.3 518.7,281.6 519.1,282.8 519.5,283.8 519.9,284.6 520.3,285.3 520.7,285.8 521.1,286.3 521.5,286.6 521.9,286.8 522.2,287.0 522.6,287.0 523.0,286.9 523.4,286.7 523.8,286.4 524.2,285.9 524.6,285.3 525.0,284.6 525.4,283.7 525.8,282.7 526.2,281.6 526.6,280.5 527.0,279.3 527.4,278.0 527.8,276.7 528.2,275.2 528.6,273.7 529.0,272.1 529.4,270.5 529.8,268.7 530.2,266.8 530.6,264.9 531.0,262.9 531.3,260.7 531.7,258.5 532.1,256.1 532.5,253.6 532.9,250.9 533.3,247.9 533.7,244.8 534.1,241.5 534.5,238.2 534.9,234.8 535.3,231.3 535.7,227.7 536.1,224.0 536.5,220.4 536.9,217.2 537.3,214.4 537.7,212.1 538.1,210.4 538.5,208.9 538.9,207.6 539.3,206.4 539.7,205.3 540.0,204.4" stroke="#d62728" stroke-width="0.68"/>
<polyline points="397.6,204.2 398.0,203.8 398.4,203.7 398.8,204.1 399.2,204.7 399.6,205.5 400.0,206.5 400.4,207.7 400.8,209.1 401.2,210.8 401.6,212.9 402.0,215.3 402.4,217.9 402.8,220.6 403.2,223.4 403.6,226.0 404.0,228.4 404.4,230.5 404.8,232.4 405.2,234.1 405.6,235.8 406.0,237.5 406.4,239.4 406.7,241.5 407.1,243.8 407.5,246.0 407.9,248.2 408.3,250.1 408.7,251.8 409.1,253.3 409.5,254.7 409.9,256.0 410.3,257.0 410.7,257.9 411.1,258.6 411.5,259.1 411.9,259.4 412.3,259.7 412.7,260.0 413.1,260.2 413.5,260.4 413.9,260.5 414.3,260.6 414.7,260.7 415.1,260.8 415.4,260.8 415.8,260.8 416.2,260.7 416.6,260.7 417.0,260.6 417.4,260.4 417.8,260.3 418.2,260.1 418.6,259.8 419.0,259.5 419.4,258.9 419.8,257.9 420.2,256.4 420.6,254.3 421.0,252.0 421.4,249.7 421.8,247.5 422.2,245.6 422.6,243.8 423.0,242.1 423.4,240.4 423.8,238.9 424.2,237.5 424.5,236.2 424.9,234.9 425.3,233.4 425.7,231.8 426.1,229.9 426.5,227.5 426.9,224.6 427.3,221.4 427.7,218.1 428.1,214.9 428.5,212.2 428.9,209.9 429.3,208.0 429.7,206.3 430.1,204.7 430.5,203.1 430.9,201.6 431.3,200.1 431.7,198.8 432.1,197.6 432.5,196.5 432.9,195.7 433.2,195.2 433.6,195.1 434.0,195.3 434.4,195.7 434.8,196.4 435.2,197.2 435.6,198.3 436.0,199.6 436.4,200.9 436.8,202.2 437.2,203.6 437.6,205.0 438.0,206.5 438.4,208.3 438.8,210.3 439.2,212.9 439.6,215.9 440.0,219.4 440.4,223.0 440.8,226.4 441.2,229.6 441.6,232.4 442.0,235.0 442.3,237.4 442.7,239.7 443.1,241.8 443.5,243.7 443.9,245.5 444.3,247.1 444.7,248.5 445.1,249.8 445.5,250.9 445.9,252.0 446.3,253.1 446.7,254.1 447.1,255.0 447.5,255.9 447.9,256.8 448.3,257.6 448.7,258.3 449.1,259.0 449.5,259.5 449.9,260.0 450.3,260.4 450.7,260.8 451.0,261.0 451.4,261.2 451.8,261.4 452.2,261.5 452.6,261.5 453.0,261.5 453.4,261.4 453.8,261.2 454.2,261.0 454.6,260.7 455.0,260.4 455.4,260.0 455.8,259.5 456.2,259.0 456.6,258.4 457.0,257.7 457.4,256.9 457.8,256.1 458.2,255.2 458.6,254.2 459.0,253.2 459.4,252.1 459.8,250.9 460.1,249.5 460.5,247.8 460.9,245.8 461.3,243.4 461.7,240.6 462.1,237.8 462.5,235.0 462.9,232.4 463.3,230.0 463.7,227.9 464.1,225.9 464.5,224.0 464.9,222.1 465.3,220.2 465.7,218.3 466.1,216.4 466.5,214.6 466.9,212.8 467.3,211.0 467.7,209.1 468.1,207.4 468.5,205.8 468.8,204.6 469.2,203.8 469.6,203.6 470.0,203.8 470.4,204.3 470.8,205.0 471.2,206.0 471.6,207.3 472.0,208.8 472.4,210.6 472.8,212.8 473.2,215.1 473.6,217.4 474.0,219.5 474.4,221.3 474.8,222.8 475.2,224.4 475.6,226.1 476.0,228.1 476.4,230.4 476.8,232.9 477.2,235.7 477.6,238.4 477.9,241.2 478.3,243.9 478.7,246.4 479.1,248.7 479.5,250.8 479.9,252.9 480.3,254.9 480.7,256.9 481.1,258.8 481.5,260.8 481.9,262.6 482.3,264.4 482.7,266.2 483.1,267.8 483.5,269.3 483.9,270.7 484.3,272.0 484.7,273.1 485.1,274.1 485.5,274.9 485.9,275.5 486.3,276.0 486.6,276.3 487.0,276.6 487.4,276.7 487.8,276.8 488.2,276.7 488.6,276.6 489.0,276.4 489.4,276.1 489.8,275.8 490.2,275.3 490.6,274.8 491.0,274.1 491.4,273.4 491.8,272.7 492.2,271.8 492.6,271.0 493.0,270.1 493.4,269.2 493.8,268.3 494.2,267.3 494.6,266.2 495.0,265.1 495.4,263.9 495.7,262.6 496.1,261.3 496.5,259.9 496.9,258.5 497.3,257.2 497.7,255.8 498.1,254.4 498.5,253.1 498.9,251.8 499.3,250.5 499.7,249.3 500.1,248.1 500.5,246.8 500.9,245.6 501.3,244.4 501.7,243.2 502.1,242.2 502.5,241.2 502.9,240.5 503.3,239.8 503.7,239.4 504.1,239.0 504.4,238.8 504.8,238.7 505.2,238.7 505.6,238.7 506.0,238.9 506.4,239.1 506.8,239.4 507.2,239.8 507.6,240.2 508.0,240.8 508.4,241.5 508.8,242.3 509.2,243.1 509.6,244.0 510.0,244.9 510.4,245.8 510.8,246.8 511.2,247.8 511.6,248.8 512.0,249.8 512.4,250.9 512.8,252.0 513.2,253.3 513.5,254.7 513.9,256.1 514.3,257.6 514.7,259.2 515.1,260.7 515.5,262.3 515.9,263.9 516.3,265.4 516.7,266.9 517.1,268.4 517.5,269.7 517.9,271.0 518.3,272.2 518.7,273.3 519.1,274.2 519.5,274.9 519.9,275.5 520.3,276.0 520.7,276.3 521.1,276.5 521.5,276.7 521.9,276.8 522.2,276.7 522.6,276.6 523.0,276.4 523.4,276.1 523.8,275.7 524.2,275.2 524.6,274.5 525.0,273.8 525.4,272.9 525.8,271.9 526.2,270.9 526.6,269.9 527.0,268.8 527.4,267.7 527.8,266.6 528.2,265.4 528.6,264.2 529.0,262.9 529.4,261.5 529.8,260.1 530.2,258.6 530.6,257.0 531.0,255.4 531.3,253.7 531.7,251.8 532.1,249.9 532.5,247.8 532.9,245.5 533.3,242.9 533.7,240.2 534.1,237.4 534.5,234.4 534.9,231.4 535.3,228.3 535.7,225.1 536.1,221.8 536.5,218.5 536.9,215.6 537.3,213.1 537.7,211.1 538.1,209.6 538.5,208.4 538.9,207.2 539.3,206.1 539.7,205.1 540.0,204.2" stroke="#9467bd"/>
</g>
<rect x="397.65" y="182.00" width="142.40" height="105.75" fill="none" stroke="#8c8c8c" stroke-width="1.0"/>
<path d="M397.65 287.75v2M409.52 287.75v2M421.38 287.75v2M433.25 287.75v2M445.12 287.75v2M456.98 287.75v2M468.85 287.75v2M480.72 287.75v2M492.58 287.75v2M504.45 287.75v2M516.32 287.75v2M528.18 287.75v2M540.05 287.75v2M397.65 287.75h-2M397.65 268.52h-2M397.65 249.30h-2M397.65 230.07h-2M397.65 210.84h-2M397.65 191.61h-2" stroke="#777" stroke-width="0.6" fill="none"/>
<text x="394.55" y="290.60" font-size="8.16" text-anchor="end" fill="#222222" stroke="#222222" stroke-width="0.1" textLength="10.49" lengthAdjust="spacingAndGlyphs">0.0</text>
<text x="394.55" y="271.37" font-size="8.16" text-anchor="end" fill="#222222" stroke="#222222" stroke-width="0.1" textLength="10.49" lengthAdjust="spacingAndGlyphs">0.2</text>
<text x="394.55" y="252.15" font-size="8.16" text-anchor="end" fill="#222222" stroke="#222222" stroke-width="0.1" textLength="10.49" lengthAdjust="spacingAndGlyphs">0.4</text>
<text x="394.55" y="232.92" font-size="8.16" text-anchor="end" fill="#222222" stroke="#222222" stroke-width="0.1" textLength="10.49" lengthAdjust="spacingAndGlyphs">0.6</text>
<text x="394.55" y="213.69" font-size="8.16" text-anchor="end" fill="#222222" stroke="#222222" stroke-width="0.1" textLength="10.49" lengthAdjust="spacingAndGlyphs">0.8</text>
<text x="394.55" y="194.46" font-size="8.16" text-anchor="end" fill="#222222" stroke="#222222" stroke-width="0.1" textLength="10.49" lengthAdjust="spacingAndGlyphs">1.0</text>
<g transform="translate(397.15,294.24) rotate(-30)"><text x="0.00" y="2.59" font-size="8.16" text-anchor="middle" fill="#222222" stroke="#222222" stroke-width="0.1" textLength="4.52" lengthAdjust="spacingAndGlyphs">0</text></g>
<g transform="translate(409.02,295.37) rotate(-30)"><text x="0.00" y="2.59" font-size="8.16" text-anchor="middle" fill="#222222" stroke="#222222" stroke-width="0.1" textLength="9.03" lengthAdjust="spacingAndGlyphs">30</text></g>
<g transform="translate(420.88,295.37) rotate(-30)"><text x="0.00" y="2.59" font-size="8.16" text-anchor="middle" fill="#222222" stroke="#222222" stroke-width="0.1" textLength="9.03" lengthAdjust="spacingAndGlyphs">60</text></g>
<g transform="translate(432.75,295.37) rotate(-30)"><text x="0.00" y="2.59" font-size="8.16" text-anchor="middle" fill="#222222" stroke="#222222" stroke-width="0.1" textLength="9.03" lengthAdjust="spacingAndGlyphs">90</text></g>
<g transform="translate(444.62,296.50) rotate(-30)"><text x="0.00" y="2.59" font-size="8.16" text-anchor="middle" fill="#222222" stroke="#222222" stroke-width="0.1" textLength="13.55" lengthAdjust="spacingAndGlyphs">120</text></g>
<g transform="translate(456.48,296.50) rotate(-30)"><text x="0.00" y="2.59" font-size="8.16" text-anchor="middle" fill="#222222" stroke="#222222" stroke-width="0.1" textLength="13.55" lengthAdjust="spacingAndGlyphs">150</text></g>
<g transform="translate(468.35,296.50) rotate(-30)"><text x="0.00" y="2.59" font-size="8.16" text-anchor="middle" fill="#222222" stroke="#222222" stroke-width="0.1" textLength="13.55" lengthAdjust="spacingAndGlyphs">180</text></g>
<g transform="translate(480.22,296.50) rotate(-30)"><text x="0.00" y="2.59" font-size="8.16" text-anchor="middle" fill="#222222" stroke="#222222" stroke-width="0.1" textLength="13.55" lengthAdjust="spacingAndGlyphs">210</text></g>
<g transform="translate(492.08,296.50) rotate(-30)"><text x="0.00" y="2.59" font-size="8.16" text-anchor="middle" fill="#222222" stroke="#222222" stroke-width="0.1" textLength="13.55" lengthAdjust="spacingAndGlyphs">240</text></g>
<g transform="translate(503.95,296.50) rotate(-30)"><text x="0.00" y="2.59" font-size="8.16" text-anchor="middle" fill="#222222" stroke="#222222" stroke-width="0.1" textLength="13.55" lengthAdjust="spacingAndGlyphs">270</text></g>
<g transform="translate(515.82,296.50) rotate(-30)"><text x="0.00" y="2.59" font-size="8.16" text-anchor="middle" fill="#222222" stroke="#222222" stroke-width="0.1" textLength="13.55" lengthAdjust="spacingAndGlyphs">300</text></g>
<g transform="translate(527.68,296.50) rotate(-30)"><text x="0.00" y="2.59" font-size="8.16" text-anchor="middle" fill="#222222" stroke="#222222" stroke-width="0.1" textLength="13.55" lengthAdjust="spacingAndGlyphs">330</text></g>
<g transform="translate(539.55,296.50) rotate(-30)"><text x="0.00" y="2.59" font-size="8.16" text-anchor="middle" fill="#222222" stroke="#222222" stroke-width="0.1" textLength="13.55" lengthAdjust="spacingAndGlyphs">360</text></g>
<text x="468.85" y="310.60" font-size="8.16" text-anchor="middle" fill="#222222" stroke="#222222" stroke-width="0.1" textLength="95.60" lengthAdjust="spacingAndGlyphs">Relative Azimuth Angle [°]</text>
<g transform="translate(379.25,288.02) rotate(-90)"><text x="0.00" y="-0.00" font-size="8.33" fill="#222222" stroke="#222222" stroke-width="0.10" textLength="2.83" lengthAdjust="spacingAndGlyphs">(</text><text x="2.84" y="-0.00" font-size="8.33" fill="#222222" stroke="#222222" stroke-width="0.10" textLength="4.62" lengthAdjust="spacingAndGlyphs">1</text><text x="7.47" y="-0.00" font-size="8.33" fill="#222222" stroke="#222222" stroke-width="0.10" textLength="2.45" lengthAdjust="spacingAndGlyphs">/</text><text x="9.93" y="-0.00" font-size="8.33" fill="#222222" stroke="#222222" stroke-width="0.10" textLength="2.83" lengthAdjust="spacingAndGlyphs">(</text><text x="12.77" y="-0.00" font-size="8.33" font-style="italic" fill="#222222" stroke="#222222" stroke-width="0.10" textLength="4.76" lengthAdjust="spacingAndGlyphs">K</text><text x="17.55" y="1.15" font-size="5.83" font-style="italic" fill="#222222" stroke="#222222" stroke-width="0.07" textLength="3.22" lengthAdjust="spacingAndGlyphs">p</text><text x="22.40" y="-0.00" font-size="8.33" fill="#222222" stroke="#222222" stroke-width="0.10" textLength="3.63" lengthAdjust="spacingAndGlyphs">*</text><text x="27.46" y="-0.31" font-size="8.33" font-style="italic" fill="#222222" stroke="#222222" stroke-width="0.10" textLength="4.60" lengthAdjust="spacingAndGlyphs">σ</text><text x="32.39" y="-2.99" font-size="5.83" fill="#222222" stroke="#222222" stroke-width="0.07" textLength="3.23" lengthAdjust="spacingAndGlyphs">0</text><text x="35.83" y="-0.00" font-size="8.33" fill="#222222" stroke="#222222" stroke-width="0.10" textLength="2.83" lengthAdjust="spacingAndGlyphs">)</text><text x="40.09" y="-0.00" font-size="8.33" fill="#222222" stroke="#222222" stroke-width="0.10" textLength="3.63" lengthAdjust="spacingAndGlyphs">*</text><text x="45.15" y="-0.00" font-size="8.33" fill="#222222" stroke="#222222" stroke-width="0.10" textLength="3.75" lengthAdjust="spacingAndGlyphs">∂</text><text x="48.92" y="-0.00" font-size="8.33" font-style="italic" fill="#222222" stroke="#222222" stroke-width="0.10" textLength="4.60" lengthAdjust="spacingAndGlyphs">σ</text><text x="53.85" y="-2.68" font-size="5.83" fill="#222222" stroke="#222222" stroke-width="0.07" textLength="3.23" lengthAdjust="spacingAndGlyphs">0</text><text x="57.29" y="-0.00" font-size="8.33" fill="#222222" stroke="#222222" stroke-width="0.10" textLength="2.45" lengthAdjust="spacingAndGlyphs">/</text><text x="59.74" y="-0.00" font-size="8.33" fill="#222222" stroke="#222222" stroke-width="0.10" textLength="3.75" lengthAdjust="spacingAndGlyphs">∂</text><text x="63.51" y="-0.00" font-size="8.33" font-style="italic" fill="#222222" stroke="#222222" stroke-width="0.10" textLength="4.79" lengthAdjust="spacingAndGlyphs">ϕ</text><text x="68.31" y="1.15" font-size="5.83" font-style="italic" fill="#222222" stroke="#222222" stroke-width="0.07" textLength="3.22" lengthAdjust="spacingAndGlyphs">u</text><text x="71.74" y="-0.00" font-size="8.33" fill="#222222" stroke="#222222" stroke-width="0.10" textLength="2.83" lengthAdjust="spacingAndGlyphs">)</text><text x="74.65" y="-2.68" font-size="5.83" fill="#222222" stroke="#222222" stroke-width="0.07" textLength="3.23" lengthAdjust="spacingAndGlyphs">2</text><text x="78.09" y="-0.00" font-size="8.33" fill="#222222" stroke="#222222" stroke-width="0.10" textLength="2.83" lengthAdjust="spacingAndGlyphs">[</text><text x="80.93" y="-0.00" font-size="8.33" font-style="italic" fill="#222222" stroke="#222222" stroke-width="0.10" textLength="4.61" lengthAdjust="spacingAndGlyphs">d</text><text x="85.55" y="-0.00" font-size="8.33" font-style="italic" fill="#222222" stroke="#222222" stroke-width="0.10" textLength="4.46" lengthAdjust="spacingAndGlyphs">e</text><text x="90.03" y="-0.00" font-size="8.33" font-style="italic" fill="#222222" stroke="#222222" stroke-width="0.10" textLength="4.61" lengthAdjust="spacingAndGlyphs">g</text><text x="94.99" y="-2.68" font-size="5.83" fill="#222222" stroke="#222222" stroke-width="0.07" textLength="4.26" lengthAdjust="spacingAndGlyphs">−</text><text x="99.26" y="-2.68" font-size="5.83" fill="#222222" stroke="#222222" stroke-width="0.07" textLength="3.23" lengthAdjust="spacingAndGlyphs">2</text><text x="102.70" y="-0.00" font-size="8.33" fill="#222222" stroke="#222222" stroke-width="0.10" textLength="2.83" lengthAdjust="spacingAndGlyphs">]</text><rect x="27.46" y="-7.64" width="8.37" height="0.50" fill="#222222"/></g>
<text x="468.85" y="179.20" font-size="9.80" text-anchor="middle" fill="#222222" stroke="#222222" stroke-width="0.1" textLength="92.77" lengthAdjust="spacingAndGlyphs">Cell: far; WSpd:&#160; 9m/s</text>
</svg></body></html>
